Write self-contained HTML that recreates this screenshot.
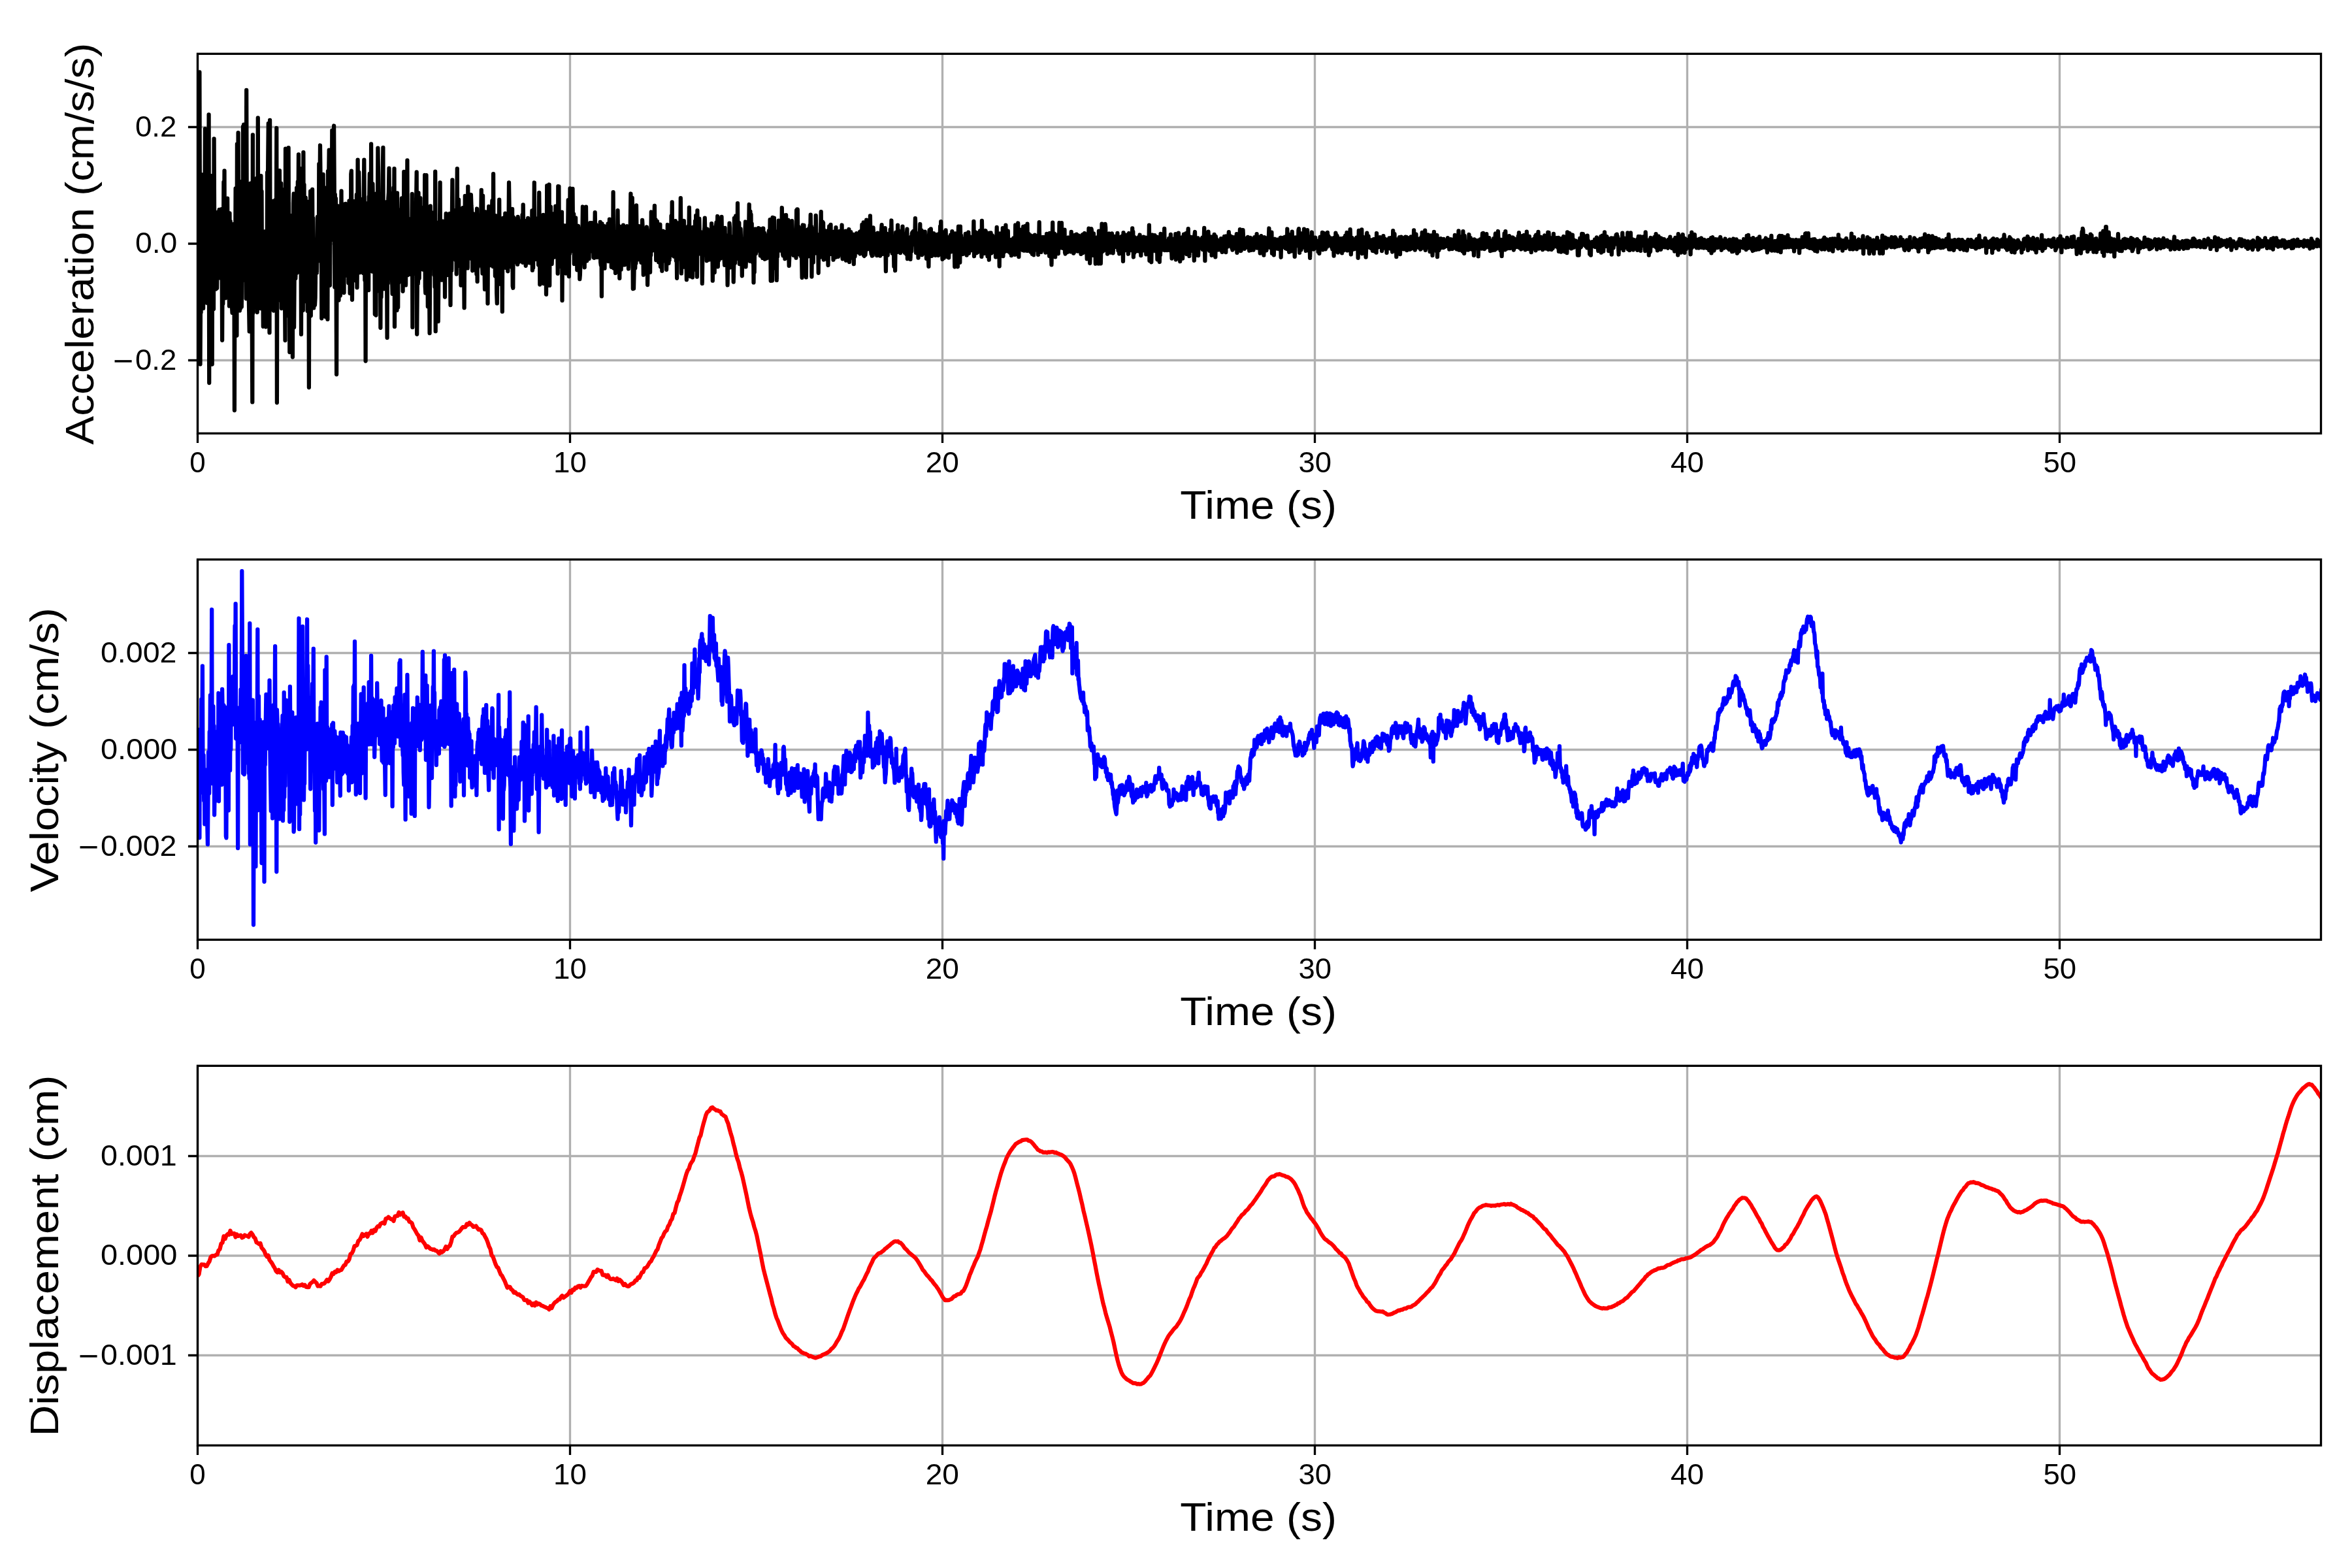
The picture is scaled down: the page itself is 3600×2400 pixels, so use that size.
<!DOCTYPE html>
<html><head><meta charset="utf-8"><style>html,body{margin:0;padding:0;background:#fff;overflow:hidden}svg{display:block;will-change:transform}</style></head><body>
<svg width="3600" height="2400" viewBox="0 0 3600 2400">
<rect width="3600" height="2400" fill="#fff"/>
<defs>
<clipPath id="c0"><rect x="302.5" y="82.36" width="3250.0" height="581.0"/></clipPath>
<clipPath id="c1"><rect x="302.5" y="856.36" width="3250.0" height="581.9999999999999"/></clipPath>
<clipPath id="c2"><rect x="302.5" y="1631.36" width="3250.0" height="581.0000000000002"/></clipPath>
</defs>
<path d="M302.50,82.36V663.36M872.50,82.36V663.36M1442.50,82.36V663.36M2012.50,82.36V663.36M2582.50,82.36V663.36M3152.50,82.36V663.36M302.50,194.54H3552.50M302.50,373.04H3552.50M302.50,551.54H3552.50" stroke="#b0b0b0" stroke-width="3.333" fill="none" stroke-linecap="butt"/>
<path d="M302.5,347.6L303.1,408.5L303.6,283.8L304.2,190.8L304.8,329.3L305.4,110.3L305.9,306.2L306.5,557.4L307.1,448.2L307.6,478.2L308.2,345.3L308.8,267.1L309.3,447.5L309.9,383.7L310.5,323.8L311.1,471.9L311.6,295.3L312.2,409.4L312.8,291.3L313.3,348.5L313.9,197.1L314.5,390.8L315.0,335.2L315.6,321.3L316.2,343.4L316.8,463.7L317.3,351.6L317.9,387.4L318.5,362.9L319.0,439.5L319.6,175.3L320.2,586.1L320.7,269.7L321.3,453.4L321.9,277.7L322.4,476.0L323.0,312.6L323.6,269.2L324.2,318.3L324.7,557.5L325.3,323.1L325.9,446.6L326.4,336.5L327.0,472.9L327.6,212.3L328.1,335.5L328.7,344.5L329.3,412.3L329.9,373.6L330.4,442.4L331.0,404.2L331.6,380.5L332.1,441.0L332.7,392.5L333.3,406.6L333.9,324.5L334.4,356.5L335.0,349.1L335.6,320.9L336.1,425.4L336.7,401.1L337.3,405.7L337.8,403.7L338.4,401.7L339.0,320.1L339.6,396.3L340.1,520.8L340.7,400.0L341.3,465.0L341.8,392.8L342.4,278.6L343.0,392.6L343.5,261.3L344.1,439.9L344.7,350.2L345.2,456.2L345.8,345.8L346.4,363.7L347.0,305.5L347.5,431.7L348.1,303.7L348.7,392.1L349.2,400.1L349.8,447.8L350.4,381.9L350.9,468.4L351.5,326.3L352.1,440.4L352.7,338.9L353.2,392.5L353.8,372.0L354.4,350.2L354.9,467.7L355.5,478.8L356.1,421.1L356.6,414.2L357.2,343.1L357.8,478.0L358.4,379.4L358.9,628.1L359.5,354.7L360.1,399.1L360.6,288.5L361.2,395.1L361.8,313.2L362.4,513.6L362.9,220.3L363.5,409.1L364.1,403.6L364.6,203.1L365.2,382.3L365.8,425.1L366.3,277.6L366.9,475.4L367.5,370.1L368.1,472.1L368.6,359.9L369.2,453.7L369.8,469.7L370.3,391.1L370.9,337.3L371.5,413.8L372.0,193.6L372.6,428.6L373.2,190.5L373.8,418.5L374.3,278.6L374.9,363.6L375.5,425.1L376.0,321.3L376.6,457.1L377.2,137.8L377.7,297.1L378.3,343.7L378.9,301.1L379.4,335.8L380.0,290.7L380.6,445.5L381.2,477.8L381.7,507.4L382.3,368.1L382.9,481.3L383.4,280.7L384.0,308.8L384.6,336.2L385.1,379.0L385.7,481.1L386.3,615.4L386.9,206.3L387.4,479.1L388.0,290.2L388.6,280.4L389.1,423.9L389.7,391.0L390.3,316.1L390.9,418.4L391.4,355.7L392.0,390.7L392.6,345.6L393.1,272.7L393.7,478.0L394.3,447.9L394.8,180.4L395.4,450.9L396.0,318.1L396.6,391.9L397.1,279.8L397.7,466.5L398.3,297.7L398.8,472.1L399.4,269.1L400.0,426.4L400.5,292.8L401.1,438.4L401.7,360.9L402.2,406.5L402.8,499.8L403.4,466.9L404.0,370.7L404.5,429.9L405.1,354.3L405.7,357.5L406.2,390.6L406.8,500.3L407.4,425.2L407.9,409.0L408.5,478.4L409.1,263.8L409.7,341.1L410.2,250.1L410.8,189.0L411.4,360.4L411.9,452.9L412.5,509.2L413.1,183.8L413.6,419.0L414.2,358.0L414.8,417.5L415.4,453.4L415.9,329.6L416.5,307.9L417.1,377.6L417.6,350.0L418.2,351.7L418.8,475.6L419.4,368.4L419.9,350.6L420.5,376.3L421.1,306.5L421.6,440.9L422.2,337.2L422.8,376.8L423.3,196.0L423.9,616.3L424.5,328.9L425.1,411.5L425.6,350.2L426.2,459.8L426.8,444.3L427.3,421.4L427.9,261.1L428.5,361.9L429.0,311.2L429.6,321.4L430.2,280.5L430.8,472.0L431.3,290.5L431.9,461.4L432.5,423.5L433.0,335.0L433.6,324.4L434.2,319.2L434.7,290.2L435.3,388.3L435.9,433.8L436.5,521.0L437.0,227.6L437.6,402.0L438.2,288.3L438.7,438.6L439.3,470.0L439.9,437.4L440.4,266.0L441.0,483.1L441.6,226.2L442.1,392.0L442.7,351.7L443.3,539.1L443.9,406.3L444.4,441.2L445.0,329.8L445.6,418.6L446.1,372.0L446.7,454.4L447.3,342.3L447.9,546.6L448.4,380.1L449.0,311.5L449.6,296.5L450.1,500.9L450.7,419.9L451.3,297.4L451.8,382.5L452.4,425.9L453.0,299.9L453.5,408.8L454.1,287.7L454.7,417.5L455.3,361.8L455.8,278.2L456.4,328.8L457.0,236.4L457.5,365.5L458.1,294.9L458.7,387.7L459.2,257.8L459.8,346.4L460.4,332.2L461.0,511.7L461.5,332.0L462.1,268.1L462.7,430.2L463.2,443.9L463.8,475.0L464.4,233.2L465.0,461.8L465.5,282.5L466.1,393.2L466.7,366.7L467.2,389.1L467.8,302.6L468.4,397.7L468.9,362.4L469.5,462.0L470.1,308.7L470.6,475.9L471.2,404.0L471.8,355.0L472.4,360.2L472.9,593.0L473.5,357.7L474.1,448.0L474.6,353.3L475.2,292.7L475.8,483.3L476.4,337.6L476.9,335.7L477.5,463.5L478.1,289.9L478.6,408.6L479.2,333.8L479.8,439.0L480.3,471.4L480.9,455.3L481.5,436.2L482.0,466.9L482.6,455.6L483.2,403.3L483.8,406.6L484.3,405.1L484.9,417.7L485.5,376.2L486.0,331.8L486.6,344.3L487.2,351.0L487.8,395.5L488.3,250.9L488.9,279.3L489.5,284.5L490.0,222.5L490.6,275.4L491.2,400.5L491.7,298.8L492.3,487.3L492.9,348.4L493.5,346.9L494.0,384.6L494.6,266.9L495.2,334.6L495.7,384.3L496.3,325.4L496.9,416.4L497.4,328.2L498.0,484.8L498.6,367.2L499.1,329.6L499.7,368.5L500.3,287.1L500.9,431.1L501.4,488.7L502.0,261.8L502.6,388.4L503.1,278.6L503.7,229.7L504.3,340.6L504.9,436.8L505.4,362.4L506.0,305.5L506.6,336.0L507.1,303.5L507.7,358.0L508.3,199.7L508.8,260.1L509.4,259.5L510.0,331.8L510.5,367.4L511.1,192.5L511.7,285.1L512.3,439.4L512.8,297.5L513.4,388.1L514.0,303.9L514.5,405.9L515.1,573.0L515.7,317.4L516.2,455.7L516.8,315.2L517.4,354.3L518.0,373.0L518.5,459.5L519.1,397.9L519.7,378.8L520.2,367.5L520.8,452.5L521.4,360.3L522.0,345.1L522.5,292.3L523.1,417.6L523.7,315.3L524.2,397.0L524.8,317.7L525.4,386.6L525.9,401.7L526.5,448.1L527.1,312.7L527.6,411.2L528.2,335.3L528.8,311.9L529.4,405.8L529.9,337.5L530.5,326.5L531.1,418.9L531.6,335.4L532.2,422.4L532.8,360.8L533.4,433.2L533.9,359.8L534.5,307.4L535.1,326.6L535.6,448.9L536.2,339.3L536.8,426.2L537.3,266.4L537.9,261.6L538.5,386.1L539.0,458.8L539.6,363.3L540.2,413.0L540.8,352.8L541.3,386.5L541.9,308.1L542.5,392.5L543.0,379.4L543.6,404.2L544.2,389.8L544.8,429.6L545.3,422.0L545.9,298.0L546.5,440.2L547.0,397.2L547.6,244.7L548.2,353.2L548.7,306.1L549.3,263.7L549.9,300.4L550.5,417.2L551.0,337.3L551.6,341.6L552.2,343.7L552.7,385.3L553.3,324.1L553.9,345.5L554.4,304.9L555.0,363.5L555.6,409.1L556.1,418.1L556.7,317.0L557.3,244.7L557.9,340.3L558.4,429.1L559.0,318.7L559.6,552.6L560.1,340.4L560.7,400.0L561.3,313.9L561.8,383.9L562.4,311.2L563.0,328.5L563.6,345.0L564.1,444.2L564.7,300.8L565.3,300.1L565.8,266.0L566.4,409.9L567.0,304.0L567.5,372.4L568.1,220.3L568.7,407.3L569.3,352.3L569.8,415.6L570.4,281.3L571.0,310.4L571.5,355.3L572.1,317.1L572.7,409.5L573.2,301.9L573.8,480.9L574.4,374.6L575.0,343.7L575.5,482.6L576.1,296.4L576.7,445.9L577.2,415.3L577.8,368.0L578.4,226.7L579.0,265.8L579.5,339.5L580.1,419.1L580.7,307.0L581.2,397.7L581.8,325.1L582.4,501.8L582.9,368.6L583.5,455.0L584.1,415.3L584.7,393.3L585.2,320.0L585.8,260.7L586.4,225.8L586.9,422.5L587.5,322.7L588.1,442.2L588.6,363.6L589.2,379.8L589.8,314.4L590.3,353.6L590.9,309.3L591.5,413.2L592.1,415.2L592.6,516.9L593.2,333.4L593.8,433.8L594.3,303.8L594.9,294.5L595.5,257.7L596.0,310.4L596.6,344.3L597.2,404.3L597.8,340.7L598.3,410.8L598.9,295.8L599.5,374.1L600.0,425.6L600.6,449.8L601.2,346.1L601.8,417.7L602.3,287.4L602.9,353.2L603.5,258.2L604.0,499.9L604.6,363.7L605.2,413.0L605.7,323.3L606.3,475.1L606.9,390.2L607.5,474.9L608.0,295.4L608.6,402.9L609.2,470.6L609.7,321.1L610.3,432.8L610.9,353.7L611.4,397.1L612.0,405.6L612.6,346.7L613.2,348.6L613.7,323.9L614.3,330.0L614.9,303.4L615.4,414.7L616.0,328.3L616.6,445.8L617.1,390.1L617.7,429.3L618.3,262.9L618.8,326.3L619.4,320.6L620.0,386.7L620.6,409.9L621.1,436.4L621.7,279.3L622.3,412.6L622.8,346.5L623.4,245.4L624.0,421.2L624.5,407.8L625.1,390.7L625.7,420.2L626.3,408.6L626.8,392.6L627.4,335.2L628.0,419.9L628.5,369.0L629.1,362.6L629.7,395.2L630.2,357.4L630.8,296.8L631.4,500.9L632.0,315.8L632.5,418.9L633.1,346.9L633.7,382.5L634.2,369.2L634.8,418.8L635.4,338.1L636.0,347.5L636.5,353.7L637.1,307.8L637.7,263.4L638.2,511.5L638.8,434.4L639.4,387.2L639.9,433.9L640.5,295.1L641.1,366.4L641.7,425.9L642.2,307.4L642.8,386.1L643.4,303.0L643.9,400.6L644.5,317.0L645.1,319.4L645.6,339.5L646.2,382.8L646.8,391.4L647.3,412.6L647.9,390.7L648.5,403.5L649.1,380.3L649.6,406.3L650.2,268.0L650.8,438.5L651.3,448.7L651.9,284.8L652.5,268.1L653.0,405.5L653.6,417.4L654.2,373.1L654.8,469.3L655.3,337.0L655.9,406.6L656.5,332.0L657.0,433.1L657.6,510.0L658.2,408.6L658.8,315.3L659.3,392.6L659.9,387.0L660.5,357.5L661.0,409.4L661.6,379.9L662.2,349.5L662.7,353.2L663.3,366.2L663.9,325.4L664.5,420.9L665.0,358.6L665.6,439.3L666.2,262.7L666.7,507.2L667.3,339.8L667.9,350.8L668.4,422.0L669.0,451.4L669.6,343.6L670.2,377.7L670.7,491.9L671.3,424.0L671.9,364.8L672.4,415.4L673.0,347.7L673.6,279.3L674.1,423.2L674.7,423.5L675.3,348.7L675.8,428.6L676.4,357.2L677.0,385.5L677.6,338.7L678.1,405.9L678.7,344.1L679.3,390.1L679.8,397.0L680.4,342.8L681.0,454.6L681.5,376.6L682.1,370.9L682.7,326.9L683.3,339.0L683.8,390.2L684.4,341.6L685.0,421.0L685.5,367.6L686.1,362.3L686.7,355.1L687.2,398.0L687.8,392.5L688.4,327.0L689.0,402.6L689.5,467.0L690.1,358.8L690.7,400.4L691.2,413.9L691.8,339.2L692.4,275.3L693.0,390.3L693.5,339.8L694.1,321.7L694.7,349.1L695.2,381.6L695.8,360.8L696.4,394.5L696.9,366.4L697.5,398.2L698.1,321.7L698.7,419.5L699.2,341.6L699.8,258.1L700.4,406.1L700.9,377.3L701.5,338.7L702.1,305.6L702.6,406.8L703.2,386.6L703.8,334.8L704.3,400.9L704.9,322.7L705.5,436.7L706.1,345.8L706.6,328.8L707.2,364.4L707.8,333.1L708.3,318.1L708.9,335.0L709.5,339.4L710.0,384.2L710.6,471.2L711.2,377.3L711.8,299.9L712.3,375.9L712.9,349.2L713.5,410.6L714.0,311.4L714.6,384.9L715.2,341.1L715.8,410.4L716.3,285.7L716.9,389.6L717.5,362.6L718.0,395.9L718.6,376.0L719.2,394.0L719.7,368.8L720.3,386.1L720.9,298.0L721.5,314.8L722.0,320.9L722.6,354.1L723.2,414.3L723.7,378.7L724.3,327.1L724.9,337.4L725.4,328.7L726.0,413.4L726.6,344.1L727.2,375.6L727.7,328.7L728.3,401.6L728.9,364.8L729.4,419.6L730.0,319.5L730.6,430.9L731.1,343.6L731.7,408.8L732.3,366.6L732.8,354.0L733.4,351.4L734.0,395.1L734.6,350.0L735.1,351.3L735.7,372.2L736.3,328.2L736.8,290.8L737.4,406.8L738.0,404.7L738.5,418.6L739.1,299.5L739.7,389.8L740.3,337.4L740.8,381.7L741.4,401.1L742.0,442.9L742.5,346.2L743.1,324.4L743.7,366.3L744.2,334.9L744.8,328.9L745.4,333.3L746.0,355.3L746.5,464.5L747.1,345.3L747.7,385.1L748.2,316.0L748.8,358.4L749.4,406.3L750.0,391.0L750.5,351.1L751.1,331.2L751.7,354.8L752.2,370.6L752.8,329.0L753.4,307.1L753.9,359.7L754.5,407.9L755.1,266.2L755.7,407.4L756.2,350.8L756.8,403.3L757.4,357.9L757.9,422.4L758.5,330.1L759.1,413.2L759.6,344.3L760.2,448.7L760.8,464.4L761.4,376.0L761.9,385.3L762.5,340.2L763.1,384.6L763.6,361.5L764.2,305.7L764.8,407.3L765.3,416.7L765.9,434.9L766.5,347.8L767.0,344.4L767.6,358.3L768.2,379.6L768.8,476.9L769.3,366.3L769.9,333.8L770.5,379.5L771.0,343.6L771.6,375.4L772.2,342.9L772.8,381.7L773.3,326.7L773.9,409.8L774.5,371.9L775.0,388.2L775.6,367.3L776.2,384.8L776.7,388.3L777.3,415.3L777.9,357.2L778.5,343.1L779.0,279.4L779.6,318.1L780.2,356.0L780.7,399.6L781.3,347.6L781.9,390.3L782.4,380.9L783.0,408.9L783.6,349.0L784.1,319.9L784.7,437.8L785.3,440.8L785.9,332.3L786.4,339.2L787.0,339.0L787.6,341.1L788.1,364.3L788.7,400.8L789.3,362.7L789.9,395.5L790.4,335.2L791.0,350.4L791.6,375.8L792.1,404.6L792.7,331.8L793.3,340.0L793.8,401.1L794.4,376.2L795.0,361.0L795.5,375.1L796.1,390.2L796.7,399.8L797.3,338.6L797.8,389.0L798.4,357.5L799.0,381.2L799.5,328.8L800.1,401.8L800.7,313.3L801.2,349.0L801.8,343.9L802.4,389.7L803.0,337.8L803.5,393.0L804.1,350.7L804.7,406.8L805.2,360.7L805.8,403.2L806.4,384.2L807.0,341.7L807.5,347.8L808.1,333.8L808.7,353.6L809.2,343.2L809.8,375.7L810.4,402.3L810.9,350.9L811.5,363.6L812.1,340.4L812.7,365.0L813.2,352.5L813.8,399.2L814.4,322.4L814.9,413.7L815.5,331.8L816.1,409.9L816.6,364.0L817.2,396.2L817.8,279.5L818.4,391.0L818.9,372.6L819.5,357.7L820.1,396.9L820.6,394.7L821.2,334.5L821.8,376.8L822.3,377.6L822.9,388.2L823.5,355.7L824.1,405.5L824.6,366.1L825.2,294.8L825.8,345.2L826.3,435.5L826.9,374.7L827.5,409.8L828.0,371.2L828.6,391.9L829.2,358.8L829.8,410.6L830.3,356.4L830.9,413.3L831.5,328.9L832.0,434.0L832.6,366.8L833.2,367.7L833.7,396.5L834.3,375.4L834.9,386.5L835.4,346.5L836.0,450.6L836.6,398.6L837.2,284.1L837.7,373.8L838.3,348.0L838.9,387.7L839.4,351.7L840.0,378.0L840.6,282.5L841.2,436.9L841.7,345.7L842.3,380.9L842.9,316.6L843.4,404.3L844.0,358.8L844.6,404.0L845.1,392.2L845.7,395.0L846.3,327.3L846.9,390.9L847.4,388.4L848.0,393.7L848.6,339.2L849.1,331.2L849.7,351.1L850.3,315.7L850.8,372.4L851.4,381.7L852.0,357.4L852.6,336.3L853.1,345.2L853.7,418.7L854.3,285.1L854.8,405.5L855.4,285.3L856.0,406.9L856.5,331.1L857.1,397.8L857.7,390.9L858.2,399.4L858.8,408.3L859.4,390.2L860.0,324.7L860.5,459.9L861.1,351.6L861.7,361.8L862.2,344.8L862.8,383.8L863.4,350.9L863.9,354.8L864.5,409.6L865.1,404.9L865.7,369.8L866.2,418.5L866.8,345.1L867.4,377.1L867.9,345.9L868.5,406.5L869.1,362.2L869.7,306.1L870.2,316.4L870.8,423.1L871.4,355.3L871.9,388.6L872.5,288.4L873.1,337.7L873.6,372.4L874.2,379.4L874.8,383.8L875.4,364.1L875.9,336.3L876.5,288.8L877.1,364.5L877.6,385.0L878.2,327.5L878.8,404.0L879.3,344.9L879.9,373.6L880.5,374.2L881.1,333.3L881.6,382.7L882.2,360.4L882.8,355.8L883.3,413.3L883.9,377.3L884.5,385.8L885.0,345.9L885.6,352.1L886.2,386.0L886.8,391.2L887.3,427.2L887.9,420.2L888.5,397.6L889.0,372.4L889.6,390.3L890.2,366.9L890.7,366.4L891.3,362.4L891.9,316.5L892.4,377.0L893.0,363.0L893.6,400.0L894.2,393.6L894.7,409.3L895.3,343.6L895.9,398.2L896.4,325.6L897.0,316.7L897.6,383.5L898.2,399.4L898.7,394.7L899.3,395.1L899.9,342.6L900.4,381.4L901.0,363.6L901.6,395.9L902.1,343.4L902.7,373.4L903.3,341.2L903.9,382.4L904.4,384.3L905.0,350.7L905.6,341.2L906.1,375.3L906.7,356.8L907.3,344.9L907.8,355.8L908.4,393.9L909.0,348.3L909.6,394.8L910.1,373.5L910.7,325.2L911.3,364.6L911.8,387.8L912.4,343.9L913.0,385.1L913.5,388.1L914.1,393.9L914.7,361.0L915.2,382.6L915.8,355.1L916.4,379.2L917.0,386.6L917.5,365.7L918.1,368.8L918.7,339.8L919.2,401.3L919.8,405.9L920.4,358.8L920.9,453.4L921.5,342.3L922.1,381.8L922.7,358.4L923.2,394.2L923.8,365.8L924.4,389.6L924.9,346.1L925.5,410.7L926.1,361.7L926.7,377.9L927.2,357.8L927.8,388.9L928.4,363.6L928.9,386.2L929.5,385.9L930.1,376.8L930.6,342.4L931.2,400.0L931.8,393.5L932.4,381.7L932.9,335.6L933.5,385.4L934.1,380.2L934.6,363.6L935.2,353.6L935.8,408.8L936.3,394.5L936.9,401.9L937.5,348.2L938.1,402.8L938.6,294.2L939.2,410.6L939.8,356.7L940.3,380.3L940.9,374.9L941.5,360.2L942.0,417.9L942.6,376.9L943.2,363.1L943.8,384.4L944.3,405.6L944.9,377.7L945.5,322.2L946.0,372.0L946.6,345.0L947.2,416.4L947.7,360.1L948.3,426.0L948.9,346.8L949.4,357.2L950.0,363.9L950.6,412.7L951.2,379.7L951.7,405.0L952.3,351.6L952.9,373.9L953.4,404.7L954.0,344.6L954.6,366.4L955.2,405.4L955.7,359.2L956.3,405.2L956.9,356.1L957.4,359.7L958.0,385.2L958.6,397.4L959.1,347.8L959.7,346.2L960.3,347.8L960.9,377.9L961.4,374.7L962.0,411.4L962.6,383.8L963.1,360.4L963.7,354.5L964.3,382.0L964.8,341.2L965.4,296.5L966.0,366.0L966.6,386.0L967.1,358.5L967.7,302.8L968.3,366.9L968.8,442.1L969.4,342.6L970.0,441.6L970.5,417.2L971.1,380.9L971.7,331.5L972.2,410.4L972.8,388.0L973.4,403.0L974.0,314.3L974.5,355.2L975.1,370.6L975.7,356.8L976.2,397.4L976.8,377.6L977.4,365.9L977.9,346.1L978.5,397.2L979.1,354.7L979.7,391.9L980.2,379.3L980.8,389.6L981.4,401.8L981.9,386.9L982.5,375.3L983.1,336.9L983.7,348.1L984.2,370.7L984.8,420.6L985.4,377.9L985.9,401.2L986.5,393.8L987.1,402.6L987.6,358.1L988.2,404.5L988.8,370.6L989.4,380.4L989.9,347.5L990.5,354.3L991.1,436.1L991.6,408.1L992.2,373.0L992.8,387.8L993.3,368.7L993.9,378.0L994.5,366.3L995.1,416.6L995.6,359.8L996.2,390.8L996.8,324.5L997.3,372.1L997.9,371.1L998.5,383.8L999.0,359.9L999.6,376.1L1000.2,349.0L1000.8,381.0L1001.3,342.2L1001.9,314.9L1002.5,375.2L1003.0,337.3L1003.6,336.0L1004.2,398.1L1004.7,395.5L1005.3,364.1L1005.9,338.9L1006.4,374.6L1007.0,371.8L1007.6,383.5L1008.2,401.5L1008.7,395.8L1009.3,349.4L1009.9,386.1L1010.4,343.5L1011.0,408.1L1011.6,354.4L1012.2,400.6L1012.7,380.3L1013.3,414.7L1013.9,356.2L1014.4,389.8L1015.0,353.6L1015.6,369.9L1016.1,381.7L1016.7,365.1L1017.3,358.1L1017.9,355.0L1018.4,386.2L1019.0,400.2L1019.6,360.5L1020.1,412.8L1020.7,369.3L1021.3,388.3L1021.8,344.0L1022.4,400.2L1023.0,372.7L1023.6,403.0L1024.1,356.1L1024.7,397.9L1025.3,366.0L1025.8,375.0L1026.4,346.1L1027.0,387.9L1027.5,330.4L1028.1,381.0L1028.7,309.4L1029.2,379.7L1029.8,338.9L1030.4,391.3L1031.0,345.2L1031.5,392.5L1032.1,356.9L1032.7,368.2L1033.2,372.9L1033.8,338.2L1034.4,347.3L1034.9,399.2L1035.5,367.8L1036.1,425.8L1036.7,358.7L1037.2,386.6L1037.8,357.7L1038.4,394.5L1038.9,341.1L1039.5,387.7L1040.1,396.2L1040.7,373.2L1041.2,366.7L1041.8,303.1L1042.4,361.5L1042.9,418.4L1043.5,367.9L1044.1,397.8L1044.6,368.3L1045.2,377.7L1045.8,362.3L1046.3,408.6L1046.9,338.0L1047.5,390.5L1048.1,381.6L1048.6,377.5L1049.2,356.2L1049.8,395.7L1050.3,386.0L1050.9,428.1L1051.5,364.2L1052.1,359.8L1052.6,347.4L1053.2,346.4L1053.8,369.9L1054.3,375.1L1054.9,317.6L1055.5,373.1L1056.0,388.4L1056.6,423.2L1057.2,350.7L1057.8,363.9L1058.3,372.5L1058.9,391.9L1059.5,351.6L1060.0,424.5L1060.6,348.0L1061.2,394.4L1061.7,357.0L1062.3,384.1L1062.9,412.6L1063.4,395.9L1064.0,338.4L1064.6,399.6L1065.2,329.9L1065.7,411.4L1066.3,376.5L1066.9,423.7L1067.4,322.1L1068.0,383.5L1068.6,346.4L1069.2,382.4L1069.7,372.2L1070.3,334.6L1070.9,360.1L1071.4,388.3L1072.0,354.7L1072.6,370.2L1073.1,387.9L1073.7,381.3L1074.3,380.0L1074.8,433.9L1075.4,386.8L1076.0,374.3L1076.6,375.5L1077.1,390.0L1077.7,355.2L1078.3,348.6L1078.8,333.7L1079.4,359.0L1080.0,349.7L1080.6,378.1L1081.1,357.8L1081.7,399.2L1082.3,374.9L1082.8,350.8L1083.4,368.5L1084.0,374.3L1084.5,357.9L1085.1,397.6L1085.7,363.7L1086.2,379.4L1086.8,364.3L1087.4,366.7L1088.0,358.5L1088.5,376.0L1089.1,342.1L1089.7,394.8L1090.2,366.9L1090.8,429.6L1091.4,360.5L1091.9,376.1L1092.5,383.2L1093.1,367.0L1093.7,417.0L1094.2,348.1L1094.8,353.9L1095.4,386.8L1095.9,346.1L1096.5,340.5L1097.1,341.0L1097.7,378.9L1098.2,331.0L1098.8,408.3L1099.4,370.4L1099.9,399.0L1100.5,359.3L1101.1,395.2L1101.6,340.1L1102.2,375.5L1102.8,395.7L1103.3,382.3L1103.9,388.0L1104.5,331.9L1105.1,363.6L1105.6,380.0L1106.2,361.9L1106.8,393.0L1107.3,355.3L1107.9,386.4L1108.5,395.2L1109.1,405.8L1109.6,348.9L1110.2,383.8L1110.8,372.5L1111.3,387.5L1111.9,360.3L1112.5,380.4L1113.0,387.5L1113.6,436.4L1114.2,398.2L1114.8,374.0L1115.3,388.7L1115.9,398.9L1116.5,341.6L1117.0,348.6L1117.6,409.5L1118.2,392.8L1118.7,362.1L1119.3,390.0L1119.9,390.9L1120.4,376.9L1121.0,377.9L1121.6,386.8L1122.2,368.8L1122.7,431.6L1123.3,403.2L1123.9,333.9L1124.4,350.1L1125.0,402.7L1125.6,350.3L1126.2,330.4L1126.7,370.5L1127.3,338.0L1127.9,375.3L1128.4,390.1L1129.0,311.2L1129.6,392.2L1130.1,374.7L1130.7,396.6L1131.3,341.2L1131.8,404.1L1132.4,354.3L1133.0,357.7L1133.6,350.3L1134.1,367.9L1134.7,367.1L1135.3,376.6L1135.8,422.3L1136.4,386.5L1137.0,370.1L1137.6,395.8L1138.1,394.0L1138.7,392.9L1139.3,397.8L1139.8,387.5L1140.4,355.2L1141.0,339.5L1141.5,408.4L1142.1,394.9L1142.7,356.5L1143.2,378.0L1143.8,388.0L1144.4,382.3L1145.0,367.9L1145.5,360.8L1146.1,357.0L1146.7,313.0L1147.2,363.2L1147.8,399.7L1148.4,323.5L1148.9,358.5L1149.5,328.3L1150.1,381.5L1150.7,342.4L1151.2,383.8L1151.8,358.9L1152.4,402.3L1152.9,350.7L1153.5,432.4L1154.1,373.8L1154.7,416.7L1155.2,369.0L1155.8,387.7L1156.4,350.5L1156.9,388.3L1157.5,351.4L1158.1,383.7L1158.6,370.3L1159.2,383.7L1159.8,352.3L1160.3,379.4L1160.9,349.1L1161.5,369.4L1162.1,355.7L1162.6,353.2L1163.2,367.1L1163.8,391.5L1164.3,350.3L1164.9,364.9L1165.5,366.6L1166.1,380.7L1166.6,360.5L1167.2,394.9L1167.8,364.8L1168.3,349.5L1168.9,392.1L1169.5,359.0L1170.0,356.3L1170.6,396.7L1171.2,369.9L1171.8,385.0L1172.3,365.1L1172.9,395.7L1173.5,360.5L1174.0,381.3L1174.6,375.6L1175.2,394.5L1175.7,370.0L1176.3,360.3L1176.9,353.1L1177.4,389.3L1178.0,393.2L1178.6,336.1L1179.2,355.1L1179.7,429.8L1180.3,361.7L1180.9,392.0L1181.4,365.3L1182.0,429.6L1182.6,332.8L1183.2,375.3L1183.7,356.2L1184.3,379.5L1184.9,333.7L1185.4,406.3L1186.0,361.0L1186.6,353.9L1187.1,356.1L1187.7,411.3L1188.3,391.1L1188.8,428.9L1189.4,367.5L1190.0,392.8L1190.6,359.5L1191.1,378.5L1191.7,337.6L1192.3,351.4L1192.8,354.2L1193.4,373.1L1194.0,357.4L1194.6,383.5L1195.1,379.3L1195.7,353.0L1196.3,369.1L1196.8,318.0L1197.4,359.0L1198.0,387.8L1198.5,391.3L1199.1,379.8L1199.7,329.4L1200.2,356.0L1200.8,350.6L1201.4,396.1L1202.0,390.6L1202.5,379.8L1203.1,329.1L1203.7,379.1L1204.2,343.3L1204.8,376.7L1205.4,356.9L1205.9,376.6L1206.5,336.8L1207.1,382.5L1207.7,406.8L1208.2,395.0L1208.8,344.4L1209.4,374.1L1209.9,347.9L1210.5,386.6L1211.1,354.9L1211.7,384.8L1212.2,338.2L1212.8,355.5L1213.4,359.3L1213.9,369.9L1214.5,390.8L1215.1,380.4L1215.6,368.4L1216.2,385.8L1216.8,366.2L1217.3,391.3L1217.9,355.5L1218.5,394.7L1219.1,321.8L1219.6,389.2L1220.2,320.3L1220.8,320.4L1221.3,372.2L1221.9,381.2L1222.5,347.0L1223.0,357.2L1223.6,369.3L1224.2,389.8L1224.8,375.0L1225.3,385.1L1225.9,392.3L1226.5,359.8L1227.0,387.5L1227.6,425.0L1228.2,366.2L1228.8,344.5L1229.3,385.8L1229.9,381.1L1230.5,344.8L1231.0,394.6L1231.6,373.0L1232.2,379.1L1232.7,376.4L1233.3,382.2L1233.9,424.4L1234.5,359.3L1235.0,352.6L1235.6,375.0L1236.2,351.6L1236.7,354.9L1237.3,392.3L1237.9,382.8L1238.4,349.3L1239.0,388.7L1239.6,345.0L1240.2,351.7L1240.7,328.7L1241.3,383.4L1241.9,346.5L1242.4,423.5L1243.0,369.8L1243.6,382.5L1244.1,366.0L1244.7,401.8L1245.3,350.6L1245.8,388.6L1246.4,359.9L1247.0,382.9L1247.6,361.1L1248.1,387.4L1248.7,329.8L1249.3,357.5L1249.8,387.3L1250.4,386.8L1251.0,367.4L1251.5,366.6L1252.1,359.0L1252.7,417.8L1253.3,366.1L1253.8,381.1L1254.4,375.7L1255.0,386.3L1255.5,393.7L1256.1,353.7L1256.7,324.1L1257.2,384.2L1257.8,365.9L1258.4,352.6L1259.0,339.5L1259.5,389.7L1260.1,341.0L1260.7,397.5L1261.2,351.8L1261.8,365.0L1262.4,363.1L1263.0,386.8L1263.5,365.0L1264.1,390.1L1264.7,396.5L1265.2,378.1L1265.8,363.0L1266.4,391.1L1266.9,353.2L1267.5,406.0L1268.1,369.7L1268.7,371.5L1269.2,346.5L1269.8,355.0L1270.4,358.5L1270.9,389.0L1271.5,343.9L1272.1,379.6L1272.6,381.1L1273.2,380.0L1273.8,362.5L1274.3,374.7L1274.9,362.5L1275.5,397.7L1276.1,361.5L1276.6,391.5L1277.2,354.3L1277.8,381.2L1278.3,374.9L1278.9,394.0L1279.5,348.1L1280.1,391.2L1280.6,370.7L1281.2,364.1L1281.8,367.2L1282.3,367.8L1282.9,393.0L1283.5,362.6L1284.0,357.5L1284.6,362.5L1285.2,354.0L1285.8,386.3L1286.3,362.2L1286.9,389.6L1287.5,354.3L1288.0,376.9L1288.6,344.5L1289.2,390.7L1289.7,396.3L1290.3,383.6L1290.9,363.9L1291.5,387.3L1292.0,361.4L1292.6,393.0L1293.2,355.5L1293.7,390.5L1294.3,353.6L1294.9,398.6L1295.4,359.2L1296.0,371.4L1296.6,353.7L1297.2,382.9L1297.7,366.1L1298.3,386.6L1298.9,381.3L1299.4,351.0L1300.0,401.0L1300.6,387.4L1301.1,364.4L1301.7,393.8L1302.3,355.2L1302.8,389.9L1303.4,365.5L1304.0,385.8L1304.6,394.5L1305.1,360.5L1305.7,358.8L1306.3,370.6L1306.8,404.2L1307.4,361.2L1308.0,389.1L1308.6,392.4L1309.1,369.6L1309.7,377.6L1310.3,360.4L1310.8,357.1L1311.4,362.4L1312.0,381.4L1312.5,369.9L1313.1,375.0L1313.7,367.2L1314.2,386.6L1314.8,369.8L1315.4,364.9L1316.0,354.8L1316.5,388.5L1317.1,354.1L1317.7,384.2L1318.2,358.4L1318.8,382.6L1319.4,344.0L1320.0,387.5L1320.5,362.5L1321.1,379.2L1321.7,340.4L1322.2,391.1L1322.8,391.9L1323.4,380.2L1323.9,361.7L1324.5,390.1L1325.1,380.5L1325.7,369.4L1326.2,336.6L1326.8,381.8L1327.4,366.6L1327.9,374.0L1328.5,368.4L1329.1,355.1L1329.6,365.3L1330.2,380.8L1330.8,368.9L1331.4,380.2L1331.9,330.3L1332.5,369.6L1333.1,383.9L1333.6,388.6L1334.2,364.8L1334.8,391.6L1335.3,379.4L1335.9,390.7L1336.5,348.3L1337.1,357.7L1337.6,356.9L1338.2,383.3L1338.8,360.7L1339.3,380.5L1339.9,366.7L1340.5,381.8L1341.0,380.2L1341.6,362.8L1342.2,391.1L1342.8,387.6L1343.3,356.7L1343.9,377.8L1344.5,367.2L1345.0,390.6L1345.6,366.0L1346.2,383.2L1346.7,372.3L1347.3,391.6L1347.9,387.2L1348.5,358.8L1349.0,352.0L1349.6,344.2L1350.2,380.5L1350.7,388.9L1351.3,371.7L1351.9,374.3L1352.4,359.5L1353.0,387.2L1353.6,363.8L1354.1,364.4L1354.7,349.1L1355.3,376.4L1355.9,415.1L1356.4,377.6L1357.0,357.6L1357.6,383.5L1358.1,362.1L1358.7,390.6L1359.3,367.3L1359.9,381.8L1360.4,358.5L1361.0,384.2L1361.6,368.0L1362.1,369.7L1362.7,351.3L1363.3,378.7L1363.8,375.2L1364.4,337.5L1365.0,368.7L1365.6,387.7L1366.1,375.9L1366.7,382.0L1367.3,386.5L1367.8,378.3L1368.4,408.0L1369.0,406.3L1369.5,380.2L1370.1,414.2L1370.7,371.4L1371.2,355.6L1371.8,369.2L1372.4,386.5L1373.0,355.8L1373.5,378.5L1374.1,344.6L1374.7,367.1L1375.2,352.5L1375.8,381.3L1376.4,379.0L1377.0,368.3L1377.5,370.1L1378.1,387.1L1378.7,368.4L1379.2,366.2L1379.8,366.3L1380.4,384.3L1380.9,370.3L1381.5,346.6L1382.1,370.6L1382.6,384.2L1383.2,358.0L1383.8,368.1L1384.4,368.2L1384.9,386.8L1385.5,361.5L1386.1,375.8L1386.6,369.9L1387.2,388.9L1387.8,358.4L1388.4,350.7L1388.9,396.1L1389.5,379.8L1390.1,373.2L1390.6,393.4L1391.2,391.8L1391.8,393.3L1392.3,370.4L1392.9,379.8L1393.5,396.9L1394.1,377.7L1394.6,362.3L1395.2,384.6L1395.8,357.6L1396.3,355.7L1396.9,357.3L1397.5,363.3L1398.0,353.9L1398.6,374.2L1399.2,372.5L1399.8,360.8L1400.3,362.8L1400.9,334.2L1401.5,361.7L1402.0,386.9L1402.6,356.5L1403.2,384.3L1403.7,384.9L1404.3,362.2L1404.9,365.5L1405.5,394.7L1406.0,376.7L1406.6,362.5L1407.2,378.9L1407.7,373.3L1408.3,343.0L1408.9,382.7L1409.4,352.4L1410.0,385.4L1410.6,352.5L1411.1,390.2L1411.7,356.7L1412.3,377.1L1412.9,366.8L1413.4,388.0L1414.0,368.8L1414.6,370.7L1415.1,370.2L1415.7,354.6L1416.3,376.7L1416.9,373.3L1417.4,373.7L1418.0,395.8L1418.6,384.9L1419.1,384.8L1419.7,381.1L1420.3,380.8L1420.8,391.4L1421.4,408.0L1422.0,360.7L1422.6,352.1L1423.1,382.2L1423.7,388.5L1424.3,382.0L1424.8,350.4L1425.4,362.8L1426.0,391.9L1426.5,363.1L1427.1,369.9L1427.7,363.1L1428.2,376.9L1428.8,386.5L1429.4,357.1L1430.0,359.9L1430.5,380.8L1431.1,366.1L1431.7,390.9L1432.2,371.1L1432.8,384.1L1433.4,369.6L1434.0,374.9L1434.5,359.0L1435.1,375.0L1435.7,368.1L1436.2,391.0L1436.8,369.2L1437.4,386.1L1437.9,357.5L1438.5,373.6L1439.1,346.3L1439.6,388.9L1440.2,339.2L1440.8,380.4L1441.4,366.3L1441.9,379.9L1442.5,396.8L1443.1,369.6L1443.6,355.3L1444.2,360.6L1444.8,395.0L1445.4,373.3L1445.9,367.9L1446.5,376.5L1447.1,374.9L1447.6,352.3L1448.2,371.7L1448.8,378.1L1449.3,368.6L1449.9,385.0L1450.5,393.2L1451.1,380.7L1451.6,367.0L1452.2,394.5L1452.8,365.1L1453.3,377.8L1453.9,362.1L1454.5,372.3L1455.0,359.6L1455.6,385.5L1456.2,369.2L1456.8,373.2L1457.3,354.2L1457.9,376.1L1458.5,379.7L1459.0,367.9L1459.6,364.8L1460.2,357.3L1460.7,378.6L1461.3,408.5L1461.9,364.3L1462.5,357.3L1463.0,362.4L1463.6,360.9L1464.2,366.2L1464.7,379.1L1465.3,361.6L1465.9,408.3L1466.4,369.3L1467.0,346.7L1467.6,359.5L1468.1,384.8L1468.7,369.1L1469.3,401.7L1469.9,346.7L1470.4,390.0L1471.0,360.3L1471.6,380.6L1472.1,372.9L1472.7,370.6L1473.3,369.5L1473.9,389.0L1474.4,371.2L1475.0,376.4L1475.6,374.6L1476.1,365.3L1476.7,375.8L1477.3,369.5L1477.8,357.9L1478.4,360.9L1479.0,376.8L1479.6,390.6L1480.1,357.4L1480.7,370.8L1481.3,383.2L1481.8,382.2L1482.4,355.5L1483.0,387.6L1483.5,368.1L1484.1,364.0L1484.7,369.8L1485.2,383.7L1485.8,362.9L1486.4,378.4L1487.0,373.0L1487.5,378.2L1488.1,375.7L1488.7,382.4L1489.2,369.3L1489.8,375.6L1490.4,338.8L1491.0,392.2L1491.5,372.1L1492.1,358.9L1492.7,357.2L1493.2,355.2L1493.8,357.2L1494.4,387.4L1494.9,360.1L1495.5,370.5L1496.1,386.3L1496.6,381.9L1497.2,368.1L1497.8,358.0L1498.4,361.9L1498.9,355.5L1499.5,358.3L1500.1,353.1L1500.6,363.1L1501.2,380.1L1501.8,367.1L1502.4,392.9L1502.9,337.9L1503.5,364.0L1504.1,362.3L1504.6,378.9L1505.2,361.6L1505.8,370.8L1506.3,388.0L1506.9,355.2L1507.5,367.5L1508.1,382.7L1508.6,353.0L1509.2,356.5L1509.8,386.7L1510.3,384.3L1510.9,384.3L1511.5,392.3L1512.0,370.7L1512.6,377.2L1513.2,362.4L1513.8,397.6L1514.3,356.6L1514.9,373.6L1515.5,370.2L1516.0,383.1L1516.6,356.4L1517.2,387.6L1517.7,360.0L1518.3,384.2L1518.9,360.4L1519.5,385.9L1520.0,382.5L1520.6,380.6L1521.2,362.9L1521.7,383.8L1522.3,372.0L1522.9,385.4L1523.4,365.9L1524.0,393.5L1524.6,379.3L1525.1,371.0L1525.7,347.9L1526.3,382.5L1526.9,357.7L1527.4,378.3L1528.0,366.0L1528.6,370.2L1529.1,364.3L1529.7,407.5L1530.3,357.3L1530.9,384.7L1531.4,362.4L1532.0,380.1L1532.6,364.9L1533.1,377.4L1533.7,368.3L1534.3,374.5L1534.8,349.2L1535.4,392.2L1536.0,378.9L1536.6,379.9L1537.1,359.4L1537.7,383.0L1538.3,385.0L1538.8,375.7L1539.4,344.6L1540.0,374.8L1540.5,358.7L1541.1,382.4L1541.7,379.7L1542.2,380.6L1542.8,353.6L1543.4,385.0L1544.0,382.3L1544.5,384.1L1545.1,372.7L1545.7,375.5L1546.2,387.1L1546.8,385.6L1547.4,366.8L1548.0,391.2L1548.5,375.2L1549.1,390.0L1549.7,366.7L1550.2,374.7L1550.8,384.6L1551.4,364.4L1551.9,388.8L1552.5,387.9L1553.1,376.0L1553.6,389.8L1554.2,344.5L1554.8,389.3L1555.4,371.0L1555.9,374.1L1556.5,363.7L1557.1,363.4L1557.6,369.3L1558.2,341.5L1558.8,367.1L1559.4,393.1L1559.9,363.7L1560.5,358.7L1561.1,359.0L1561.6,351.5L1562.2,367.8L1562.8,364.3L1563.3,355.8L1563.9,375.6L1564.5,375.8L1565.1,373.1L1565.6,383.0L1566.2,347.0L1566.8,373.3L1567.3,373.3L1567.9,383.7L1568.5,380.6L1569.0,346.1L1569.6,381.2L1570.2,356.6L1570.8,383.7L1571.3,360.4L1571.9,373.0L1572.5,342.7L1573.0,383.9L1573.6,369.2L1574.2,382.9L1574.7,358.0L1575.3,377.2L1575.9,381.2L1576.5,383.8L1577.0,360.2L1577.6,385.7L1578.2,371.2L1578.7,383.0L1579.3,381.0L1579.9,388.7L1580.4,361.4L1581.0,374.6L1581.6,363.2L1582.1,390.3L1582.7,367.5L1583.3,374.0L1583.9,359.7L1584.4,381.3L1585.0,382.3L1585.6,379.0L1586.1,377.7L1586.7,376.3L1587.3,369.6L1587.9,378.6L1588.4,361.4L1589.0,389.9L1589.6,360.1L1590.1,373.4L1590.7,340.2L1591.3,384.4L1591.8,361.8L1592.4,384.0L1593.0,362.8L1593.6,385.9L1594.1,371.0L1594.7,383.2L1595.3,372.3L1595.8,378.0L1596.4,362.9L1597.0,381.0L1597.5,366.0L1598.1,373.8L1598.7,363.0L1599.2,375.9L1599.8,366.0L1600.4,386.6L1601.0,366.4L1601.5,382.4L1602.1,357.8L1602.7,381.9L1603.2,371.5L1603.8,374.5L1604.4,371.0L1605.0,382.8L1605.5,375.8L1606.1,392.0L1606.7,356.8L1607.2,377.6L1607.8,381.6L1608.4,359.0L1608.9,387.1L1609.5,405.4L1610.1,369.7L1610.6,370.7L1611.2,340.7L1611.8,386.0L1612.4,380.9L1612.9,363.8L1613.5,360.6L1614.1,357.6L1614.6,363.8L1615.2,393.4L1615.8,366.1L1616.4,378.6L1616.9,375.3L1617.5,378.6L1618.1,364.9L1618.6,368.4L1619.2,360.1L1619.8,388.3L1620.3,358.5L1620.9,380.8L1621.5,341.0L1622.1,376.2L1622.6,374.6L1623.2,371.5L1623.8,372.5L1624.3,376.5L1624.9,341.1L1625.5,374.6L1626.0,372.7L1626.6,379.8L1627.2,377.6L1627.8,378.0L1628.3,372.5L1628.9,379.0L1629.5,351.7L1630.0,386.4L1630.6,388.6L1631.2,378.5L1631.7,385.5L1632.3,365.2L1632.9,370.8L1633.5,386.2L1634.0,367.7L1634.6,379.7L1635.2,363.5L1635.7,376.1L1636.3,366.5L1636.9,376.3L1637.4,369.7L1638.0,377.8L1638.6,385.3L1639.1,381.8L1639.7,354.9L1640.3,377.6L1640.9,367.5L1641.4,375.0L1642.0,361.3L1642.6,368.1L1643.1,387.7L1643.7,387.1L1644.3,360.9L1644.9,379.9L1645.4,359.7L1646.0,374.5L1646.6,369.5L1647.1,381.2L1647.7,358.7L1648.3,383.8L1648.8,365.1L1649.4,384.6L1650.0,362.4L1650.6,373.4L1651.1,360.5L1651.7,375.0L1652.3,368.4L1652.8,380.2L1653.4,384.8L1654.0,377.0L1654.5,388.8L1655.1,371.6L1655.7,362.5L1656.2,370.4L1656.8,359.5L1657.4,387.2L1658.0,358.7L1658.5,359.8L1659.1,369.9L1659.7,384.2L1660.2,357.0L1660.8,375.9L1661.4,377.5L1662.0,375.7L1662.5,386.2L1663.1,373.2L1663.7,396.3L1664.2,363.8L1664.8,365.6L1665.4,370.1L1665.9,368.8L1666.5,349.6L1667.1,362.3L1667.6,371.4L1668.2,403.0L1668.8,385.5L1669.4,372.6L1669.9,380.0L1670.5,350.2L1671.1,354.3L1671.6,367.7L1672.2,385.2L1672.8,381.1L1673.4,390.9L1673.9,357.3L1674.5,376.0L1675.1,371.0L1675.6,381.0L1676.2,368.9L1676.8,403.6L1677.3,373.8L1677.9,391.0L1678.5,363.6L1679.1,384.1L1679.6,372.9L1680.2,365.3L1680.8,371.1L1681.3,403.5L1681.9,353.6L1682.5,373.5L1683.0,361.8L1683.6,376.3L1684.2,360.8L1684.8,403.4L1685.3,383.1L1685.9,387.0L1686.5,342.7L1687.0,376.9L1687.6,360.2L1688.2,384.4L1688.7,360.2L1689.3,374.2L1689.9,365.2L1690.5,379.4L1691.0,376.8L1691.6,342.9L1692.2,348.1L1692.7,382.6L1693.3,381.3L1693.9,377.7L1694.4,365.6L1695.0,388.6L1695.6,369.8L1696.1,364.8L1696.7,364.7L1697.3,374.7L1697.9,357.5L1698.4,385.4L1699.0,375.8L1699.6,386.6L1700.1,379.5L1700.7,385.8L1701.3,366.4L1701.9,357.3L1702.4,364.4L1703.0,378.2L1703.6,387.4L1704.1,379.7L1704.7,365.5L1705.3,377.0L1705.8,370.0L1706.4,361.8L1707.0,365.0L1707.6,377.0L1708.1,363.1L1708.7,378.2L1709.3,367.0L1709.8,371.2L1710.4,356.9L1711.0,377.6L1711.5,383.4L1712.1,370.2L1712.7,366.5L1713.2,388.5L1713.8,363.7L1714.4,387.2L1715.0,366.9L1715.5,376.3L1716.1,364.1L1716.7,362.0L1717.2,385.3L1717.8,364.4L1718.4,373.1L1719.0,400.0L1719.5,356.1L1720.1,383.3L1720.7,363.8L1721.2,374.9L1721.8,359.3L1722.4,376.3L1722.9,383.1L1723.5,374.7L1724.1,372.0L1724.6,369.5L1725.2,371.8L1725.8,377.0L1726.4,359.1L1726.9,388.7L1727.5,382.7L1728.1,357.0L1728.6,380.3L1729.2,376.0L1729.8,372.5L1730.4,374.2L1730.9,369.7L1731.5,376.5L1732.1,369.5L1732.6,383.4L1733.2,349.3L1733.8,380.1L1734.3,354.6L1734.9,393.5L1735.5,365.7L1736.1,387.2L1736.6,363.1L1737.2,384.4L1737.8,366.4L1738.3,373.5L1738.9,381.5L1739.5,376.9L1740.0,384.4L1740.6,372.1L1741.2,364.3L1741.8,382.3L1742.3,373.6L1742.9,362.8L1743.5,375.9L1744.0,382.6L1744.6,359.5L1745.2,386.0L1745.7,365.7L1746.3,391.2L1746.9,371.1L1747.5,379.4L1748.0,377.6L1748.6,373.3L1749.2,371.8L1749.7,377.2L1750.3,362.6L1750.9,383.4L1751.4,369.2L1752.0,364.3L1752.6,365.9L1753.1,383.1L1753.7,363.7L1754.3,389.4L1754.9,383.6L1755.4,364.7L1756.0,374.5L1756.6,372.0L1757.1,372.3L1757.7,386.8L1758.3,386.8L1758.9,344.6L1759.4,399.0L1760.0,365.1L1760.6,362.4L1761.1,380.6L1761.7,361.0L1762.3,401.3L1762.8,367.5L1763.4,385.3L1764.0,359.5L1764.6,376.0L1765.1,381.7L1765.7,363.0L1766.3,364.9L1766.8,375.6L1767.4,360.2L1768.0,374.1L1768.5,362.8L1769.1,384.6L1769.7,373.3L1770.2,377.7L1770.8,362.7L1771.4,397.3L1772.0,377.4L1772.5,375.9L1773.1,366.2L1773.7,377.6L1774.2,372.9L1774.8,401.0L1775.4,368.6L1776.0,390.1L1776.5,357.9L1777.1,365.9L1777.7,369.9L1778.2,361.2L1778.8,380.6L1779.4,382.4L1779.9,363.5L1780.5,375.4L1781.1,362.7L1781.6,382.6L1782.2,349.9L1782.8,383.1L1783.4,368.2L1783.9,376.0L1784.5,369.3L1785.1,382.3L1785.6,380.2L1786.2,379.1L1786.8,383.0L1787.4,371.9L1787.9,373.3L1788.5,379.9L1789.1,364.9L1789.6,383.0L1790.2,367.5L1790.8,380.7L1791.3,368.8L1791.9,358.9L1792.5,382.8L1793.1,384.0L1793.6,395.6L1794.2,392.1L1794.8,365.5L1795.3,381.1L1795.9,378.2L1796.5,376.9L1797.0,368.6L1797.6,376.3L1798.2,366.3L1798.8,374.5L1799.3,358.1L1799.9,397.4L1800.5,362.8L1801.0,379.3L1801.6,359.0L1802.2,380.1L1802.7,372.4L1803.3,394.4L1803.9,356.7L1804.5,380.2L1805.0,370.6L1805.6,363.8L1806.2,400.2L1806.7,384.4L1807.3,393.4L1807.9,385.0L1808.4,372.7L1809.0,380.0L1809.6,363.1L1810.1,395.7L1810.7,362.9L1811.3,378.1L1811.9,358.6L1812.4,377.7L1813.0,372.1L1813.6,375.4L1814.1,383.0L1814.7,378.7L1815.3,357.2L1815.9,380.8L1816.4,389.0L1817.0,373.5L1817.6,371.3L1818.1,358.5L1818.7,350.1L1819.3,379.5L1819.8,377.5L1820.4,392.0L1821.0,364.1L1821.6,376.2L1822.1,362.7L1822.7,374.8L1823.3,370.7L1823.8,375.4L1824.4,375.1L1825.0,374.6L1825.5,384.1L1826.1,374.4L1826.7,362.6L1827.2,376.5L1827.8,398.8L1828.4,359.7L1829.0,355.0L1829.5,380.4L1830.1,391.0L1830.7,390.3L1831.2,366.2L1831.8,380.8L1832.4,375.2L1833.0,377.9L1833.5,364.4L1834.1,391.1L1834.7,371.2L1835.2,380.5L1835.8,366.7L1836.4,375.5L1836.9,369.3L1837.5,375.2L1838.1,371.1L1838.6,366.2L1839.2,372.3L1839.8,376.6L1840.4,363.7L1840.9,382.1L1841.5,375.4L1842.1,370.1L1842.6,370.0L1843.2,348.8L1843.8,370.7L1844.4,399.2L1844.9,361.1L1845.5,379.4L1846.1,368.6L1846.6,369.6L1847.2,371.9L1847.8,373.9L1848.3,381.4L1848.9,370.3L1849.5,354.6L1850.1,369.1L1850.6,366.7L1851.2,383.8L1851.8,370.4L1852.3,362.2L1852.9,368.7L1853.5,371.9L1854.0,362.7L1854.6,390.9L1855.2,372.3L1855.8,386.5L1856.3,362.5L1856.9,372.1L1857.5,371.0L1858.0,377.1L1858.6,358.9L1859.2,383.3L1859.7,364.6L1860.3,393.5L1860.9,361.9L1861.5,383.0L1862.0,365.8L1862.6,381.9L1863.2,369.4L1863.7,373.5L1864.3,368.1L1864.9,382.4L1865.4,375.0L1866.0,371.6L1866.6,368.2L1867.1,369.7L1867.7,373.0L1868.3,381.7L1868.9,365.2L1869.4,383.5L1870.0,372.8L1870.6,385.9L1871.1,377.6L1871.7,381.0L1872.3,375.9L1872.9,371.8L1873.4,371.7L1874.0,362.0L1874.6,369.2L1875.1,382.9L1875.7,368.2L1876.3,386.1L1876.8,361.5L1877.4,367.3L1878.0,372.4L1878.6,373.4L1879.1,377.7L1879.7,375.6L1880.3,366.1L1880.8,355.1L1881.4,376.0L1882.0,360.2L1882.5,376.3L1883.1,365.6L1883.7,367.0L1884.2,371.7L1884.8,372.3L1885.4,379.8L1886.0,362.5L1886.5,382.6L1887.1,381.3L1887.7,373.4L1888.2,365.3L1888.8,375.9L1889.4,363.4L1890.0,376.6L1890.5,377.0L1891.1,380.4L1891.7,372.3L1892.2,368.7L1892.8,358.2L1893.4,386.9L1893.9,370.3L1894.5,377.2L1895.1,364.0L1895.6,367.4L1896.2,364.4L1896.8,381.1L1897.4,370.4L1897.9,351.1L1898.5,360.8L1899.1,384.1L1899.6,383.8L1900.2,374.8L1900.8,367.7L1901.4,373.9L1901.9,367.7L1902.5,352.0L1903.1,364.2L1903.6,377.9L1904.2,368.8L1904.8,380.8L1905.3,367.1L1905.9,375.9L1906.5,366.3L1907.1,378.3L1907.6,377.0L1908.2,364.6L1908.8,366.4L1909.3,368.1L1909.9,362.8L1910.5,379.4L1911.0,379.5L1911.6,377.7L1912.2,383.7L1912.8,377.6L1913.3,370.2L1913.9,363.8L1914.5,372.0L1915.0,382.9L1915.6,365.8L1916.2,371.1L1916.7,371.8L1917.3,369.7L1917.9,368.9L1918.5,382.7L1919.0,367.5L1919.6,378.4L1920.2,363.2L1920.7,366.0L1921.3,365.2L1921.9,370.5L1922.4,367.4L1923.0,371.6L1923.6,358.1L1924.1,379.6L1924.7,375.0L1925.3,367.6L1925.9,362.7L1926.4,375.1L1927.0,373.0L1927.6,376.2L1928.1,368.6L1928.7,387.7L1929.3,366.9L1929.9,363.0L1930.4,361.1L1931.0,377.1L1931.6,365.7L1932.1,375.2L1932.7,381.9L1933.3,374.8L1933.8,369.9L1934.4,390.7L1935.0,363.2L1935.6,373.1L1936.1,363.5L1936.7,373.8L1937.3,365.5L1937.8,369.3L1938.4,383.4L1939.0,378.7L1939.5,365.7L1940.1,376.6L1940.7,370.6L1941.2,374.4L1941.8,365.3L1942.4,349.5L1943.0,361.7L1943.5,378.1L1944.1,379.0L1944.7,372.2L1945.2,375.9L1945.8,379.1L1946.4,355.6L1947.0,387.9L1947.5,372.9L1948.1,377.9L1948.7,377.6L1949.2,375.5L1949.8,390.5L1950.4,366.0L1950.9,365.8L1951.5,373.4L1952.1,375.4L1952.6,374.5L1953.2,377.2L1953.8,379.0L1954.4,366.7L1954.9,380.6L1955.5,378.5L1956.1,379.6L1956.6,368.0L1957.2,381.2L1957.8,367.8L1958.4,378.9L1958.9,369.7L1959.5,364.0L1960.1,363.7L1960.6,393.8L1961.2,366.5L1961.8,369.0L1962.3,375.3L1962.9,376.3L1963.5,377.8L1964.1,363.8L1964.6,371.0L1965.2,370.2L1965.8,363.8L1966.3,377.6L1966.9,362.7L1967.5,380.1L1968.0,376.6L1968.6,374.1L1969.2,372.3L1969.8,381.0L1970.3,350.5L1970.9,375.8L1971.5,362.4L1972.0,368.0L1972.6,366.4L1973.2,385.8L1973.7,359.4L1974.3,382.8L1974.9,368.1L1975.5,380.9L1976.0,375.5L1976.6,384.5L1977.2,364.0L1977.7,354.7L1978.3,374.0L1978.9,376.0L1979.4,369.7L1980.0,365.5L1980.6,371.2L1981.1,375.7L1981.7,392.9L1982.3,377.0L1982.9,363.3L1983.4,373.3L1984.0,371.8L1984.6,371.0L1985.1,365.0L1985.7,367.6L1986.3,364.6L1986.9,376.3L1987.4,352.4L1988.0,350.1L1988.6,367.9L1989.1,386.9L1989.7,370.4L1990.3,374.4L1990.8,357.0L1991.4,382.5L1992.0,363.7L1992.6,379.5L1993.1,363.0L1993.7,375.8L1994.3,366.2L1994.8,378.4L1995.4,375.2L1996.0,350.6L1996.5,366.8L1997.1,377.5L1997.7,368.8L1998.2,376.5L1998.8,383.9L1999.4,382.2L2000.0,367.3L2000.5,374.3L2001.1,352.2L2001.7,370.1L2002.2,376.8L2002.8,383.6L2003.4,363.6L2004.0,362.4L2004.5,371.4L2005.1,394.9L2005.7,372.8L2006.2,379.2L2006.8,377.3L2007.4,376.3L2007.9,355.5L2008.5,370.4L2009.1,372.3L2009.6,365.5L2010.2,370.0L2010.8,381.6L2011.4,380.2L2011.9,380.5L2012.5,363.5L2013.1,363.5L2013.6,379.2L2014.2,377.9L2014.8,368.5L2015.4,378.9L2015.9,377.4L2016.5,375.5L2017.1,368.9L2017.6,385.3L2018.2,371.4L2018.8,372.5L2019.3,388.0L2019.9,380.0L2020.5,362.8L2021.1,376.2L2021.6,369.8L2022.2,369.6L2022.8,372.9L2023.3,379.5L2023.9,355.8L2024.5,381.3L2025.0,382.3L2025.6,378.4L2026.2,360.0L2026.8,357.0L2027.3,371.4L2027.9,380.4L2028.5,380.2L2029.0,381.3L2029.6,373.6L2030.2,377.7L2030.7,364.6L2031.3,377.6L2031.9,355.9L2032.5,369.5L2033.0,364.7L2033.6,361.3L2034.2,367.9L2034.7,370.8L2035.3,367.3L2035.9,375.9L2036.4,374.5L2037.0,374.1L2037.6,364.6L2038.1,378.1L2038.7,368.7L2039.3,381.3L2039.9,364.8L2040.4,379.5L2041.0,373.4L2041.6,391.7L2042.1,363.8L2042.7,376.2L2043.3,371.8L2043.9,381.6L2044.4,356.6L2045.0,361.3L2045.6,359.6L2046.1,380.4L2046.7,361.2L2047.3,369.2L2047.8,386.5L2048.4,381.7L2049.0,365.3L2049.6,376.0L2050.1,369.8L2050.7,379.9L2051.3,365.1L2051.8,374.3L2052.4,373.0L2053.0,378.4L2053.5,365.1L2054.1,387.4L2054.7,370.0L2055.2,377.0L2055.8,368.3L2056.4,381.6L2057.0,383.2L2057.5,363.6L2058.1,375.0L2058.7,375.2L2059.2,360.7L2059.8,366.4L2060.4,366.2L2060.9,378.4L2061.5,356.0L2062.1,383.5L2062.7,375.5L2063.2,375.9L2063.8,365.9L2064.4,373.8L2064.9,368.4L2065.5,377.8L2066.1,364.1L2066.6,351.1L2067.2,367.7L2067.8,389.5L2068.4,369.8L2068.9,383.1L2069.5,363.9L2070.1,366.1L2070.6,374.7L2071.2,375.3L2071.8,367.7L2072.4,373.2L2072.9,381.3L2073.5,377.0L2074.1,380.9L2074.6,373.9L2075.2,365.6L2075.8,377.5L2076.3,363.7L2076.9,379.4L2077.5,377.7L2078.1,366.9L2078.6,394.8L2079.2,376.9L2079.8,352.8L2080.3,384.3L2080.9,375.8L2081.5,379.2L2082.0,367.2L2082.6,374.4L2083.2,362.6L2083.8,373.1L2084.3,351.3L2084.9,388.1L2085.5,367.5L2086.0,381.6L2086.6,371.5L2087.2,380.0L2087.7,363.4L2088.3,377.8L2088.9,381.2L2089.4,374.9L2090.0,375.7L2090.6,393.6L2091.2,379.1L2091.7,362.0L2092.3,356.6L2092.9,376.6L2093.4,364.0L2094.0,374.0L2094.6,361.7L2095.1,372.5L2095.7,368.6L2096.3,378.8L2096.9,370.4L2097.4,375.4L2098.0,372.4L2098.6,379.9L2099.1,367.3L2099.7,376.2L2100.3,372.3L2100.9,383.9L2101.4,368.6L2102.0,380.7L2102.6,366.1L2103.1,380.4L2103.7,384.6L2104.3,384.5L2104.8,365.9L2105.4,377.5L2106.0,367.4L2106.6,386.7L2107.1,357.0L2107.7,379.4L2108.3,372.2L2108.8,378.9L2109.4,369.7L2110.0,376.8L2110.5,368.2L2111.1,371.5L2111.7,372.5L2112.2,363.1L2112.8,378.0L2113.4,378.6L2114.0,365.3L2114.5,372.3L2115.1,384.1L2115.7,370.9L2116.2,381.3L2116.8,375.5L2117.4,361.1L2117.9,377.4L2118.5,369.6L2119.1,378.1L2119.7,365.5L2120.2,375.6L2120.8,370.8L2121.4,380.1L2121.9,370.3L2122.5,386.8L2123.1,370.2L2123.6,376.6L2124.2,380.7L2124.8,366.5L2125.4,369.9L2125.9,374.5L2126.5,364.5L2127.1,374.3L2127.6,379.0L2128.2,380.4L2128.8,370.0L2129.3,363.9L2129.9,364.5L2130.5,380.0L2131.1,385.5L2131.6,381.7L2132.2,353.2L2132.8,373.7L2133.3,368.3L2133.9,379.7L2134.5,358.1L2135.1,383.8L2135.6,381.1L2136.2,380.2L2136.8,366.3L2137.3,393.1L2137.9,370.7L2138.5,386.9L2139.0,371.2L2139.6,383.6L2140.2,371.7L2140.8,378.9L2141.3,365.0L2141.9,363.3L2142.5,369.2L2143.0,389.1L2143.6,369.1L2144.2,375.7L2144.7,362.6L2145.3,380.9L2145.9,373.6L2146.4,375.5L2147.0,372.1L2147.6,373.3L2148.2,372.7L2148.7,381.4L2149.3,364.1L2149.9,375.5L2150.4,365.7L2151.0,362.6L2151.6,372.4L2152.2,374.2L2152.7,362.8L2153.3,383.2L2153.9,365.0L2154.4,366.0L2155.0,366.9L2155.6,364.2L2156.1,371.9L2156.7,375.6L2157.3,372.5L2157.8,381.9L2158.4,371.2L2159.0,381.2L2159.6,362.4L2160.1,380.7L2160.7,365.3L2161.3,380.0L2161.8,366.0L2162.4,362.2L2163.0,366.6L2163.6,374.5L2164.1,352.4L2164.7,376.8L2165.3,365.0L2165.8,382.6L2166.4,369.3L2167.0,378.9L2167.5,358.5L2168.1,375.7L2168.7,369.9L2169.2,375.5L2169.8,365.5L2170.4,377.3L2171.0,372.8L2171.5,379.0L2172.1,369.7L2172.7,375.0L2173.2,365.3L2173.8,375.2L2174.4,381.6L2174.9,378.9L2175.5,362.9L2176.1,379.9L2176.7,355.8L2177.2,364.5L2177.8,368.9L2178.4,373.8L2178.9,375.1L2179.5,370.9L2180.1,369.8L2180.7,379.8L2181.2,352.6L2181.8,383.0L2182.4,361.5L2182.9,375.1L2183.5,379.3L2184.1,375.5L2184.6,361.8L2185.2,378.9L2185.8,359.3L2186.3,376.3L2186.9,370.7L2187.5,361.6L2188.1,369.6L2188.6,385.1L2189.2,365.5L2189.8,377.3L2190.3,360.3L2190.9,382.3L2191.5,377.6L2192.1,380.9L2192.6,391.0L2193.2,368.7L2193.8,368.8L2194.3,374.0L2194.9,354.9L2195.5,380.4L2196.0,360.2L2196.6,375.3L2197.2,366.7L2197.8,369.6L2198.3,370.8L2198.9,384.5L2199.5,360.0L2200.0,393.2L2200.6,371.2L2201.2,367.9L2201.7,366.9L2202.3,383.3L2202.9,377.5L2203.4,381.2L2204.0,369.5L2204.6,377.9L2205.2,365.1L2205.7,373.8L2206.3,370.3L2206.9,374.4L2207.4,378.8L2208.0,371.3L2208.6,368.3L2209.2,379.1L2209.7,365.9L2210.3,377.8L2210.9,378.1L2211.4,375.3L2212.0,376.1L2212.6,375.0L2213.1,369.5L2213.7,368.7L2214.3,370.5L2214.8,376.9L2215.4,373.2L2216.0,364.2L2216.6,368.2L2217.1,376.3L2217.7,368.9L2218.3,381.7L2218.8,368.7L2219.4,376.8L2220.0,372.9L2220.6,366.1L2221.1,368.4L2221.7,374.3L2222.3,375.1L2222.8,381.0L2223.4,367.0L2224.0,379.5L2224.5,369.0L2225.1,375.8L2225.7,367.9L2226.2,374.1L2226.8,359.9L2227.4,379.6L2228.0,369.4L2228.5,377.9L2229.1,375.6L2229.7,381.4L2230.2,376.6L2230.8,378.0L2231.4,368.9L2231.9,375.8L2232.5,353.3L2233.1,382.6L2233.7,366.6L2234.2,373.8L2234.8,382.6L2235.4,364.9L2235.9,363.9L2236.5,380.4L2237.1,371.7L2237.7,373.4L2238.2,361.7L2238.8,384.8L2239.4,354.2L2239.9,379.2L2240.5,366.9L2241.1,388.0L2241.6,360.9L2242.2,375.9L2242.8,369.6L2243.3,379.7L2243.9,379.1L2244.5,373.1L2245.1,370.0L2245.6,382.4L2246.2,370.0L2246.8,374.2L2247.3,382.6L2247.9,377.9L2248.5,359.0L2249.1,374.3L2249.6,372.1L2250.2,380.2L2250.8,364.2L2251.3,376.6L2251.9,369.8L2252.5,381.7L2253.0,371.4L2253.6,376.9L2254.2,369.2L2254.8,375.3L2255.3,375.0L2255.9,390.8L2256.5,366.3L2257.0,379.9L2257.6,371.9L2258.2,376.7L2258.7,372.5L2259.3,373.8L2259.9,371.2L2260.4,368.1L2261.0,372.9L2261.6,380.7L2262.2,372.4L2262.7,392.4L2263.3,368.0L2263.9,373.7L2264.4,379.3L2265.0,376.1L2265.6,366.5L2266.2,378.3L2266.7,368.6L2267.3,377.8L2267.9,380.7L2268.4,367.8L2269.0,357.5L2269.6,365.0L2270.1,356.9L2270.7,371.4L2271.3,368.3L2271.9,381.2L2272.4,367.0L2273.0,371.8L2273.6,368.1L2274.1,379.2L2274.7,366.4L2275.3,358.1L2275.8,372.8L2276.4,374.9L2277.0,370.0L2277.6,370.2L2278.1,366.9L2278.7,369.8L2279.3,364.1L2279.8,379.4L2280.4,367.9L2281.0,384.2L2281.5,369.0L2282.1,377.3L2282.7,380.5L2283.2,382.0L2283.8,371.0L2284.4,383.1L2285.0,370.2L2285.5,375.8L2286.1,365.1L2286.7,373.2L2287.2,370.0L2287.8,382.6L2288.4,367.6L2288.9,357.5L2289.5,361.5L2290.1,380.9L2290.7,361.0L2291.2,376.2L2291.8,377.9L2292.4,376.0L2292.9,354.0L2293.5,365.5L2294.1,368.5L2294.7,379.5L2295.2,369.5L2295.8,379.1L2296.4,383.1L2296.9,378.7L2297.5,366.9L2298.1,383.5L2298.6,392.0L2299.2,377.7L2299.8,375.9L2300.4,380.2L2300.9,381.2L2301.5,375.4L2302.1,374.3L2302.6,357.3L2303.2,368.8L2303.8,382.3L2304.3,354.2L2304.9,377.1L2305.5,372.8L2306.1,369.4L2306.6,366.6L2307.2,380.4L2307.8,367.7L2308.3,365.8L2308.9,372.4L2309.5,373.3L2310.0,361.2L2310.6,378.2L2311.2,376.1L2311.8,380.0L2312.3,375.5L2312.9,368.5L2313.5,366.8L2314.0,374.4L2314.6,363.5L2315.2,379.0L2315.7,363.5L2316.3,379.3L2316.9,382.6L2317.4,377.4L2318.0,365.5L2318.6,379.1L2319.2,372.6L2319.7,368.5L2320.3,376.3L2320.9,375.3L2321.4,370.3L2322.0,377.9L2322.6,367.0L2323.2,373.2L2323.7,361.6L2324.3,371.1L2324.9,356.1L2325.4,379.2L2326.0,372.9L2326.6,371.8L2327.1,368.1L2327.7,371.5L2328.3,381.5L2328.9,374.8L2329.4,366.0L2330.0,361.2L2330.6,371.5L2331.1,376.6L2331.7,370.8L2332.3,379.8L2332.8,360.0L2333.4,374.3L2334.0,368.7L2334.6,382.3L2335.1,367.8L2335.7,374.6L2336.3,377.2L2336.8,354.7L2337.4,367.2L2338.0,376.8L2338.5,364.1L2339.1,381.2L2339.7,367.4L2340.2,380.4L2340.8,361.8L2341.4,368.0L2342.0,365.7L2342.5,378.6L2343.1,371.7L2343.7,386.1L2344.2,368.4L2344.8,376.4L2345.4,380.1L2345.9,370.9L2346.5,380.4L2347.1,368.8L2347.7,365.7L2348.2,377.5L2348.8,367.6L2349.4,373.9L2349.9,361.6L2350.5,383.4L2351.1,359.7L2351.7,374.5L2352.2,380.0L2352.8,368.2L2353.4,369.8L2353.9,375.5L2354.5,354.8L2355.1,380.7L2355.6,366.0L2356.2,379.7L2356.8,370.0L2357.4,379.7L2357.9,376.7L2358.5,362.9L2359.1,379.6L2359.6,380.2L2360.2,380.8L2360.8,373.7L2361.3,382.2L2361.9,381.3L2362.5,365.9L2363.0,367.4L2363.6,365.3L2364.2,360.4L2364.8,369.2L2365.3,377.3L2365.9,368.5L2366.5,380.5L2367.0,368.5L2367.6,379.0L2368.2,376.9L2368.8,376.8L2369.3,355.7L2369.9,381.9L2370.5,355.8L2371.0,366.7L2371.6,367.8L2372.2,363.5L2372.7,365.8L2373.3,367.4L2373.9,366.1L2374.5,382.0L2375.0,371.5L2375.6,375.3L2376.2,378.1L2376.7,380.1L2377.3,367.6L2377.9,357.9L2378.4,377.8L2379.0,375.3L2379.6,372.0L2380.2,373.5L2380.7,367.5L2381.3,377.1L2381.9,367.6L2382.4,364.2L2383.0,372.1L2383.6,375.4L2384.1,374.3L2384.7,379.4L2385.3,363.8L2385.9,384.9L2386.4,369.6L2387.0,381.6L2387.6,380.7L2388.1,376.8L2388.7,366.9L2389.3,385.6L2389.8,365.1L2390.4,377.0L2391.0,371.3L2391.5,373.2L2392.1,365.4L2392.7,373.8L2393.3,362.0L2393.8,373.2L2394.4,364.4L2395.0,385.4L2395.5,369.6L2396.1,374.4L2396.7,377.5L2397.2,374.0L2397.8,369.9L2398.4,387.2L2399.0,355.4L2399.5,376.8L2400.1,363.0L2400.7,374.9L2401.2,369.7L2401.8,373.7L2402.4,357.0L2403.0,377.7L2403.5,379.4L2404.1,378.3L2404.7,375.2L2405.2,380.4L2405.8,371.2L2406.4,371.9L2406.9,359.5L2407.5,375.3L2408.1,366.6L2408.7,378.9L2409.2,369.8L2409.8,368.6L2410.4,369.7L2410.9,377.4L2411.5,376.8L2412.1,368.5L2412.6,377.6L2413.2,375.2L2413.8,370.4L2414.4,371.3L2414.9,390.7L2415.5,378.3L2416.1,379.1L2416.6,390.7L2417.2,371.2L2417.8,373.9L2418.3,364.6L2418.9,369.3L2419.5,378.6L2420.0,378.1L2420.6,370.7L2421.2,357.8L2421.8,373.4L2422.3,374.1L2422.9,358.1L2423.5,370.1L2424.0,374.6L2424.6,366.4L2425.2,374.2L2425.8,374.6L2426.3,374.2L2426.9,376.7L2427.5,361.5L2428.0,377.6L2428.6,369.6L2429.2,379.3L2429.7,360.7L2430.3,378.3L2430.9,368.1L2431.5,373.9L2432.0,374.1L2432.6,372.7L2433.2,388.9L2433.7,380.2L2434.3,376.4L2434.9,390.7L2435.4,372.3L2436.0,370.7L2436.6,374.7L2437.2,370.1L2437.7,371.7L2438.3,371.3L2438.9,372.7L2439.4,376.8L2440.0,369.6L2440.6,377.0L2441.1,366.5L2441.7,378.2L2442.3,373.5L2442.9,372.8L2443.4,370.0L2444.0,363.4L2444.6,365.9L2445.1,376.2L2445.7,379.5L2446.3,384.1L2446.8,366.8L2447.4,369.2L2448.0,369.3L2448.5,379.1L2449.1,365.8L2449.7,375.5L2450.3,362.0L2450.8,386.6L2451.4,363.3L2452.0,374.4L2452.5,360.6L2453.1,369.9L2453.7,369.1L2454.2,384.7L2454.8,371.3L2455.4,377.7L2456.0,355.4L2456.5,368.1L2457.1,366.7L2457.7,367.4L2458.2,364.8L2458.8,363.3L2459.4,362.1L2460.0,377.3L2460.5,364.3L2461.1,376.3L2461.7,366.4L2462.2,384.1L2462.8,377.5L2463.4,367.9L2463.9,370.7L2464.5,377.8L2465.1,370.7L2465.7,379.6L2466.2,364.4L2466.8,389.7L2467.4,368.8L2467.9,367.8L2468.5,371.2L2469.1,364.6L2469.6,379.4L2470.2,373.0L2470.8,371.1L2471.4,368.0L2471.9,372.5L2472.5,373.6L2473.1,368.4L2473.6,359.7L2474.2,372.5L2474.8,358.6L2475.3,371.2L2475.9,362.1L2476.5,370.1L2477.0,377.9L2477.6,389.5L2478.2,370.3L2478.8,379.4L2479.3,381.0L2479.9,366.7L2480.5,372.8L2481.0,378.8L2481.6,377.9L2482.2,371.5L2482.8,374.6L2483.3,356.6L2483.9,376.8L2484.5,367.4L2485.0,383.2L2485.6,364.4L2486.2,377.1L2486.7,372.1L2487.3,376.6L2487.9,378.1L2488.5,370.8L2489.0,366.1L2489.6,378.9L2490.2,367.0L2490.7,374.1L2491.3,356.4L2491.9,381.6L2492.4,378.0L2493.0,380.5L2493.6,370.1L2494.2,383.0L2494.7,370.8L2495.3,373.1L2495.9,356.4L2496.4,373.1L2497.0,368.9L2497.6,371.4L2498.1,366.0L2498.7,379.4L2499.3,366.5L2499.9,382.5L2500.4,368.6L2501.0,377.1L2501.6,369.4L2502.1,367.5L2502.7,376.2L2503.3,379.8L2503.8,370.2L2504.4,375.0L2505.0,372.0L2505.5,377.0L2506.1,382.8L2506.7,366.0L2507.3,368.8L2507.8,362.0L2508.4,362.2L2509.0,377.7L2509.5,372.5L2510.1,377.2L2510.7,362.0L2511.2,383.9L2511.8,367.3L2512.4,375.1L2513.0,365.9L2513.5,372.0L2514.1,372.8L2514.7,374.9L2515.2,368.6L2515.8,362.2L2516.4,370.9L2517.0,376.6L2517.5,366.9L2518.1,384.2L2518.7,355.4L2519.2,367.8L2519.8,369.2L2520.4,376.0L2520.9,370.2L2521.5,372.2L2522.1,379.4L2522.7,371.4L2523.2,368.5L2523.8,390.7L2524.4,367.4L2524.9,386.4L2525.5,366.6L2526.1,384.8L2526.6,363.9L2527.2,367.4L2527.8,375.8L2528.4,375.4L2528.9,371.4L2529.5,375.4L2530.1,365.9L2530.6,376.4L2531.2,372.6L2531.8,375.6L2532.3,363.0L2532.9,376.5L2533.5,377.5L2534.0,374.7L2534.6,358.1L2535.2,379.0L2535.8,372.9L2536.3,368.3L2536.9,383.4L2537.5,377.1L2538.0,371.1L2538.6,361.6L2539.2,373.5L2539.8,373.6L2540.3,369.2L2540.9,374.7L2541.5,365.2L2542.0,382.0L2542.6,364.5L2543.2,373.5L2543.7,367.4L2544.3,379.0L2544.9,378.2L2545.5,367.4L2546.0,366.6L2546.6,373.6L2547.2,366.0L2547.7,373.5L2548.3,377.3L2548.9,378.5L2549.4,368.8L2550.0,369.3L2550.6,372.6L2551.2,373.9L2551.7,377.3L2552.3,378.9L2552.9,379.7L2553.4,366.8L2554.0,366.6L2554.6,375.0L2555.1,372.4L2555.7,370.3L2556.3,362.6L2556.9,374.6L2557.4,374.8L2558.0,375.8L2558.6,379.8L2559.1,377.3L2559.7,371.3L2560.3,379.7L2560.8,370.5L2561.4,380.9L2562.0,378.6L2562.5,366.6L2563.1,384.7L2563.7,374.0L2564.3,363.8L2564.8,372.4L2565.4,369.8L2566.0,369.8L2566.5,369.5L2567.1,379.2L2567.7,368.2L2568.2,390.5L2568.8,358.1L2569.4,368.0L2570.0,386.3L2570.5,384.0L2571.1,369.9L2571.7,374.8L2572.2,361.8L2572.8,386.6L2573.4,369.9L2574.0,365.9L2574.5,372.0L2575.1,380.5L2575.7,359.0L2576.2,376.7L2576.8,372.4L2577.4,367.9L2577.9,376.3L2578.5,386.9L2579.1,365.0L2579.7,374.4L2580.2,376.3L2580.8,381.2L2581.4,378.6L2581.9,367.1L2582.5,367.4L2583.1,372.1L2583.6,377.2L2584.2,373.2L2584.8,378.8L2585.4,374.7L2585.9,366.3L2586.5,361.1L2587.1,372.0L2587.6,389.3L2588.2,361.4L2588.8,380.2L2589.3,355.7L2589.9,365.4L2590.5,369.4L2591.0,377.8L2591.6,365.5L2592.2,368.8L2592.8,362.7L2593.3,368.1L2593.9,359.0L2594.5,368.4L2595.0,372.8L2595.6,367.3L2596.2,369.9L2596.8,379.4L2597.3,369.1L2597.9,376.1L2598.5,367.0L2599.0,376.0L2599.6,371.9L2600.2,379.5L2600.7,371.3L2601.3,365.7L2601.9,372.0L2602.5,373.3L2603.0,366.8L2603.6,366.8L2604.2,364.5L2604.7,378.9L2605.3,372.3L2605.9,376.3L2606.4,379.0L2607.0,371.8L2607.6,372.3L2608.2,379.5L2608.7,366.8L2609.3,370.6L2609.9,373.9L2610.4,375.2L2611.0,377.5L2611.6,375.4L2612.1,377.7L2612.7,379.7L2613.3,370.0L2613.9,379.8L2614.4,367.4L2615.0,377.4L2615.6,371.1L2616.1,383.1L2616.7,366.9L2617.3,374.1L2617.8,368.2L2618.4,376.3L2619.0,364.2L2619.5,387.4L2620.1,367.8L2620.7,367.2L2621.3,363.2L2621.8,373.8L2622.4,370.5L2623.0,366.6L2623.5,383.6L2624.1,379.7L2624.7,371.7L2625.2,375.9L2625.8,366.2L2626.4,373.9L2627.0,370.7L2627.5,378.3L2628.1,370.9L2628.7,379.2L2629.2,366.3L2629.8,373.6L2630.4,371.5L2631.0,376.9L2631.5,378.4L2632.1,375.3L2632.7,375.4L2633.2,362.8L2633.8,366.9L2634.4,366.5L2634.9,382.8L2635.5,376.4L2636.1,371.6L2636.7,370.9L2637.2,370.4L2637.8,377.6L2638.4,372.4L2638.9,379.7L2639.5,378.6L2640.1,372.7L2640.6,365.5L2641.2,377.8L2641.8,377.2L2642.4,376.6L2642.9,368.4L2643.5,378.4L2644.1,378.2L2644.6,379.8L2645.2,370.1L2645.8,370.1L2646.3,371.5L2646.9,382.0L2647.5,366.7L2648.0,375.3L2648.6,370.2L2649.2,367.9L2649.8,371.1L2650.3,380.8L2650.9,385.1L2651.5,378.1L2652.0,368.0L2652.6,385.0L2653.2,365.5L2653.8,381.1L2654.3,367.2L2654.9,371.0L2655.5,372.8L2656.0,375.4L2656.6,372.0L2657.2,374.6L2657.7,366.4L2658.3,378.0L2658.9,387.6L2659.5,377.6L2660.0,377.2L2660.6,375.0L2661.2,369.4L2661.7,384.6L2662.3,372.9L2662.9,379.8L2663.4,369.3L2664.0,374.5L2664.6,376.9L2665.2,377.8L2665.7,371.3L2666.3,376.1L2666.9,372.5L2667.4,375.0L2668.0,369.7L2668.6,379.5L2669.1,366.0L2669.7,370.7L2670.3,370.9L2670.9,373.2L2671.4,373.0L2672.0,377.3L2672.6,382.2L2673.1,376.5L2673.7,360.8L2674.3,376.2L2674.8,374.2L2675.4,380.0L2676.0,359.9L2676.5,375.7L2677.1,371.2L2677.7,368.4L2678.3,370.9L2678.8,378.8L2679.4,365.5L2680.0,374.8L2680.5,371.5L2681.1,381.0L2681.7,369.4L2682.2,379.2L2682.8,384.0L2683.4,364.2L2684.0,372.4L2684.5,365.9L2685.1,382.8L2685.7,380.1L2686.2,372.1L2686.8,371.4L2687.4,373.8L2688.0,379.8L2688.5,382.2L2689.1,379.4L2689.7,365.4L2690.2,380.4L2690.8,368.8L2691.4,375.4L2691.9,370.3L2692.5,381.5L2693.1,362.3L2693.7,374.2L2694.2,367.9L2694.8,374.5L2695.4,376.6L2695.9,379.9L2696.5,376.6L2697.1,373.4L2697.6,370.8L2698.2,377.0L2698.8,371.9L2699.4,377.8L2699.9,367.9L2700.5,378.7L2701.1,367.9L2701.6,373.4L2702.2,370.4L2702.8,364.5L2703.3,367.3L2703.9,374.6L2704.5,379.9L2705.0,386.3L2705.6,379.9L2706.2,376.5L2706.8,366.9L2707.3,368.4L2707.9,382.2L2708.5,377.6L2709.0,371.2L2709.6,376.2L2710.2,366.9L2710.8,371.8L2711.3,360.8L2711.9,383.6L2712.5,370.5L2713.0,379.4L2713.6,379.7L2714.2,377.5L2714.7,371.9L2715.3,376.5L2715.9,372.8L2716.5,383.6L2717.0,369.0L2717.6,378.7L2718.2,380.7L2718.7,382.5L2719.3,372.7L2719.9,373.3L2720.4,368.5L2721.0,384.3L2721.6,367.1L2722.2,377.5L2722.7,362.2L2723.3,379.3L2723.9,360.9L2724.4,370.3L2725.0,363.4L2725.6,386.1L2726.1,372.6L2726.7,374.4L2727.3,361.2L2727.9,375.4L2728.4,369.4L2729.0,370.5L2729.6,367.9L2730.1,378.8L2730.7,365.7L2731.3,362.7L2731.8,366.1L2732.4,374.0L2733.0,372.0L2733.5,373.6L2734.1,378.7L2734.7,374.0L2735.3,367.6L2735.8,377.9L2736.4,360.1L2737.0,375.6L2737.5,370.8L2738.1,378.3L2738.7,365.8L2739.2,376.0L2739.8,371.0L2740.4,375.4L2741.0,367.2L2741.5,376.3L2742.1,369.6L2742.7,378.0L2743.2,373.4L2743.8,374.9L2744.4,367.3L2745.0,376.0L2745.5,371.7L2746.1,384.6L2746.7,369.9L2747.2,373.8L2747.8,368.3L2748.4,376.1L2748.9,377.0L2749.5,367.0L2750.1,372.2L2750.7,378.1L2751.2,369.9L2751.8,372.6L2752.4,378.0L2752.9,375.3L2753.5,367.7L2754.1,387.1L2754.6,372.9L2755.2,373.3L2755.8,369.1L2756.4,377.2L2756.9,369.8L2757.5,378.7L2758.1,377.7L2758.6,362.9L2759.2,370.2L2759.8,378.2L2760.3,368.2L2760.9,374.0L2761.5,374.4L2762.0,377.3L2762.6,367.8L2763.2,357.7L2763.8,371.3L2764.3,357.1L2764.9,370.2L2765.5,375.2L2766.0,375.5L2766.6,378.4L2767.2,370.0L2767.8,357.2L2768.3,372.9L2768.9,377.5L2769.5,366.9L2770.0,379.8L2770.6,368.1L2771.2,379.4L2771.7,369.2L2772.3,377.3L2772.9,366.9L2773.5,380.2L2774.0,366.6L2774.6,369.0L2775.2,366.4L2775.7,381.5L2776.3,376.8L2776.9,375.4L2777.4,366.1L2778.0,383.9L2778.6,368.9L2779.2,372.8L2779.7,369.7L2780.3,375.1L2780.9,368.9L2781.4,385.0L2782.0,371.7L2782.6,374.7L2783.1,379.1L2783.7,371.8L2784.3,369.9L2784.9,374.1L2785.4,368.4L2786.0,379.3L2786.6,371.9L2787.1,375.3L2787.7,371.4L2788.3,381.6L2788.8,373.5L2789.4,367.7L2790.0,367.6L2790.5,377.3L2791.1,365.9L2791.7,374.3L2792.3,363.6L2792.8,381.7L2793.4,366.1L2794.0,371.1L2794.5,365.8L2795.1,376.3L2795.7,366.4L2796.2,378.0L2796.8,371.0L2797.4,374.2L2798.0,374.6L2798.5,378.5L2799.1,382.6L2799.7,371.6L2800.2,376.2L2800.8,372.1L2801.4,365.8L2802.0,371.6L2802.5,375.9L2803.1,382.3L2803.7,368.0L2804.2,373.9L2804.8,365.4L2805.4,384.7L2805.9,375.6L2806.5,370.8L2807.1,373.2L2807.7,372.3L2808.2,365.3L2808.8,374.1L2809.4,376.9L2809.9,377.0L2810.5,370.1L2811.1,375.7L2811.6,366.7L2812.2,377.7L2812.8,367.2L2813.4,380.4L2813.9,359.4L2814.5,378.3L2815.1,369.0L2815.6,373.2L2816.2,366.1L2816.8,370.0L2817.3,369.0L2817.9,379.6L2818.5,369.5L2819.0,375.5L2819.6,370.8L2820.2,383.6L2820.8,368.2L2821.3,378.2L2821.9,371.2L2822.5,368.2L2823.0,368.1L2823.6,379.5L2824.2,368.0L2824.8,379.9L2825.3,369.7L2825.9,364.8L2826.5,372.9L2827.0,374.2L2827.6,377.2L2828.2,369.6L2828.7,370.8L2829.3,377.0L2829.9,370.0L2830.5,370.6L2831.0,369.8L2831.6,381.4L2832.2,376.1L2832.7,376.5L2833.3,372.1L2833.9,357.7L2834.4,378.8L2835.0,376.9L2835.6,370.8L2836.2,381.5L2836.7,374.8L2837.3,373.8L2837.9,363.1L2838.4,376.4L2839.0,372.7L2839.6,376.8L2840.1,369.4L2840.7,375.7L2841.3,369.1L2841.9,381.3L2842.4,371.9L2843.0,372.2L2843.6,368.9L2844.1,369.4L2844.7,366.4L2845.3,377.8L2845.8,367.4L2846.4,378.9L2847.0,368.5L2847.5,375.4L2848.1,371.1L2848.7,372.3L2849.3,372.1L2849.8,378.8L2850.4,373.0L2851.0,368.1L2851.5,361.3L2852.1,388.3L2852.7,373.4L2853.2,376.0L2853.8,378.0L2854.4,371.1L2855.0,372.8L2855.5,375.7L2856.1,378.1L2856.7,376.5L2857.2,367.2L2857.8,375.7L2858.4,363.2L2859.0,379.4L2859.5,368.5L2860.1,371.3L2860.7,379.2L2861.2,388.2L2861.8,365.3L2862.4,384.6L2862.9,371.2L2863.5,376.1L2864.1,371.4L2864.7,368.8L2865.2,376.2L2865.8,375.3L2866.4,369.3L2866.9,377.1L2867.5,367.7L2868.1,388.1L2868.6,372.6L2869.2,376.7L2869.8,373.4L2870.4,376.0L2870.9,368.3L2871.5,379.6L2872.1,370.9L2872.6,380.2L2873.2,363.8L2873.8,372.1L2874.3,368.5L2874.9,376.3L2875.5,370.7L2876.0,376.1L2876.6,375.4L2877.2,387.8L2877.8,369.5L2878.3,380.0L2878.9,369.5L2879.5,380.7L2880.0,372.1L2880.6,377.0L2881.2,360.6L2881.8,388.0L2882.3,368.0L2882.9,375.6L2883.5,372.4L2884.0,379.6L2884.6,364.7L2885.2,370.1L2885.7,363.5L2886.3,368.6L2886.9,371.1L2887.5,379.5L2888.0,378.8L2888.6,375.7L2889.2,370.9L2889.7,365.4L2890.3,371.9L2890.9,372.8L2891.4,372.4L2892.0,373.1L2892.6,369.0L2893.2,366.8L2893.7,375.5L2894.3,378.0L2894.9,369.5L2895.4,363.0L2896.0,378.1L2896.6,373.4L2897.1,371.6L2897.7,373.4L2898.3,365.5L2898.9,370.3L2899.4,376.6L2900.0,378.6L2900.6,363.2L2901.1,376.6L2901.7,364.7L2902.3,377.4L2902.8,366.6L2903.4,377.2L2904.0,370.5L2904.5,376.8L2905.1,367.9L2905.7,372.5L2906.3,369.1L2906.8,374.8L2907.4,376.4L2908.0,369.7L2908.5,369.0L2909.1,363.2L2909.7,371.8L2910.2,373.8L2910.8,370.8L2911.4,366.9L2912.0,367.1L2912.5,367.1L2913.1,376.9L2913.7,375.3L2914.2,377.4L2914.8,382.4L2915.4,382.9L2916.0,373.5L2916.5,371.8L2917.1,373.1L2917.7,369.9L2918.2,380.1L2918.8,367.3L2919.4,370.7L2919.9,371.7L2920.5,377.8L2921.1,374.5L2921.7,382.9L2922.2,380.2L2922.8,377.5L2923.4,362.8L2923.9,373.2L2924.5,372.3L2925.1,371.7L2925.6,378.3L2926.2,376.2L2926.8,378.2L2927.4,376.0L2927.9,376.6L2928.5,374.5L2929.1,370.1L2929.6,375.4L2930.2,364.4L2930.8,367.5L2931.3,370.6L2931.9,378.0L2932.5,371.6L2933.0,370.0L2933.6,367.3L2934.2,378.8L2934.8,371.3L2935.3,380.2L2935.9,371.7L2936.5,384.8L2937.0,369.1L2937.6,378.1L2938.2,367.4L2938.8,365.7L2939.3,372.8L2939.9,367.7L2940.5,367.0L2941.0,378.6L2941.6,370.8L2942.2,365.0L2942.7,366.6L2943.3,369.2L2943.9,364.3L2944.5,376.4L2945.0,365.4L2945.6,371.5L2946.2,358.6L2946.7,377.8L2947.3,375.1L2947.9,375.5L2948.4,366.8L2949.0,367.2L2949.6,369.4L2950.2,372.8L2950.7,368.7L2951.3,386.2L2951.9,360.9L2952.4,371.9L2953.0,382.6L2953.6,375.0L2954.1,367.0L2954.7,373.7L2955.3,365.9L2955.9,367.0L2956.4,367.5L2957.0,380.2L2957.6,361.3L2958.1,378.9L2958.7,363.8L2959.3,373.8L2959.8,363.6L2960.4,376.2L2961.0,379.8L2961.5,378.1L2962.1,368.8L2962.7,368.7L2963.3,364.2L2963.8,378.8L2964.4,368.7L2965.0,371.7L2965.5,369.4L2966.1,378.2L2966.7,371.7L2967.2,375.4L2967.8,366.1L2968.4,370.9L2969.0,373.0L2969.5,379.1L2970.1,370.5L2970.7,379.4L2971.2,370.3L2971.8,376.8L2972.4,370.4L2973.0,378.5L2973.5,367.9L2974.1,378.9L2974.7,371.3L2975.2,371.4L2975.8,368.6L2976.4,370.4L2976.9,375.1L2977.5,377.3L2978.1,371.3L2978.7,377.1L2979.2,365.7L2979.8,375.6L2980.4,371.0L2980.9,374.4L2981.5,373.2L2982.1,373.3L2982.6,358.9L2983.2,381.6L2983.8,368.5L2984.4,373.2L2984.9,372.0L2985.5,381.7L2986.1,368.2L2986.6,372.3L2987.2,373.6L2987.8,370.6L2988.3,369.0L2988.9,376.8L2989.5,368.2L2990.0,378.2L2990.6,383.0L2991.2,377.5L2991.8,367.2L2992.3,377.3L2992.9,368.0L2993.5,378.2L2994.0,372.8L2994.6,377.8L2995.2,371.6L2995.8,374.0L2996.3,373.7L2996.9,376.0L2997.5,366.8L2998.0,378.9L2998.6,366.8L2999.2,374.7L2999.7,377.3L3000.3,381.4L3000.9,372.9L3001.5,379.5L3002.0,374.9L3002.6,374.7L3003.2,367.2L3003.7,378.8L3004.3,368.7L3004.9,371.2L3005.4,374.2L3006.0,382.5L3006.6,369.8L3007.2,378.3L3007.7,370.4L3008.3,378.8L3008.9,372.9L3009.4,376.3L3010.0,371.6L3010.6,383.4L3011.1,378.6L3011.7,377.1L3012.3,366.8L3012.9,372.1L3013.4,372.7L3014.0,374.4L3014.6,370.1L3015.1,374.5L3015.7,376.6L3016.3,376.0L3016.8,367.2L3017.4,377.8L3018.0,370.3L3018.5,375.0L3019.1,374.3L3019.7,377.8L3020.3,369.7L3020.8,378.0L3021.4,373.5L3022.0,377.4L3022.5,372.3L3023.1,374.5L3023.7,370.1L3024.2,380.5L3024.8,369.4L3025.4,366.1L3026.0,372.0L3026.5,374.1L3027.1,368.3L3027.7,378.5L3028.2,367.9L3028.8,369.3L3029.4,360.7L3030.0,378.3L3030.5,367.0L3031.1,369.7L3031.7,372.2L3032.2,372.2L3032.8,372.6L3033.4,371.6L3033.9,369.2L3034.5,377.0L3035.1,371.1L3035.7,375.6L3036.2,372.8L3036.8,373.9L3037.4,369.8L3037.9,373.5L3038.5,364.8L3039.1,375.7L3039.6,372.3L3040.2,386.8L3040.8,369.1L3041.4,374.7L3041.9,379.0L3042.5,377.1L3043.1,373.7L3043.6,378.4L3044.2,370.6L3044.8,376.5L3045.3,371.0L3045.9,374.1L3046.5,371.5L3047.0,368.5L3047.6,377.5L3048.2,373.4L3048.8,371.0L3049.3,386.8L3049.9,366.1L3050.5,370.4L3051.0,365.2L3051.6,380.3L3052.2,369.1L3052.8,372.3L3053.3,378.1L3053.9,373.4L3054.5,367.6L3055.0,372.6L3055.6,372.2L3056.2,377.7L3056.7,366.2L3057.3,379.9L3057.9,367.4L3058.5,367.9L3059.0,382.2L3059.6,374.0L3060.2,370.7L3060.7,375.3L3061.3,371.8L3061.9,373.4L3062.4,368.0L3063.0,377.3L3063.6,371.7L3064.2,370.5L3064.7,366.3L3065.3,377.5L3065.9,372.2L3066.4,375.9L3067.0,367.4L3067.6,359.4L3068.1,365.5L3068.7,374.4L3069.3,366.8L3069.9,379.3L3070.4,369.2L3071.0,373.0L3071.6,372.7L3072.1,382.7L3072.7,378.0L3073.3,381.7L3073.8,367.4L3074.4,379.4L3075.0,371.5L3075.5,365.4L3076.1,363.0L3076.7,368.3L3077.3,375.2L3077.8,365.7L3078.4,382.0L3079.0,385.8L3079.5,371.5L3080.1,377.4L3080.7,368.4L3081.2,376.3L3081.8,367.8L3082.4,368.2L3083.0,371.6L3083.5,386.5L3084.1,371.8L3084.7,375.4L3085.2,369.8L3085.8,381.6L3086.4,377.9L3087.0,373.7L3087.5,380.1L3088.1,378.6L3088.7,367.6L3089.2,374.9L3089.8,369.5L3090.4,371.6L3090.9,372.0L3091.5,378.1L3092.1,378.0L3092.7,373.4L3093.2,372.3L3093.8,378.8L3094.4,386.5L3094.9,373.7L3095.5,376.7L3096.1,374.7L3096.6,373.8L3097.2,381.2L3097.8,366.5L3098.4,376.8L3098.9,365.4L3099.5,374.3L3100.1,369.6L3100.6,373.1L3101.2,366.3L3101.8,366.8L3102.3,371.4L3102.9,366.7L3103.5,362.0L3104.0,383.1L3104.6,370.5L3105.2,375.1L3105.8,365.3L3106.3,374.5L3106.9,369.7L3107.5,378.3L3108.0,375.6L3108.6,367.6L3109.2,372.2L3109.8,380.5L3110.3,371.1L3110.9,368.6L3111.5,364.7L3112.0,364.0L3112.6,370.8L3113.2,375.1L3113.7,372.6L3114.3,382.1L3114.9,368.6L3115.5,377.1L3116.0,370.3L3116.6,386.3L3117.2,369.2L3117.7,373.7L3118.3,365.6L3118.9,375.3L3119.4,371.0L3120.0,373.6L3120.6,375.6L3121.2,375.1L3121.7,370.3L3122.3,380.0L3122.9,379.4L3123.4,377.2L3124.0,377.5L3124.6,373.2L3125.1,359.8L3125.7,378.5L3126.3,384.0L3126.9,376.2L3127.4,371.7L3128.0,375.0L3128.6,369.3L3129.1,376.9L3129.7,367.9L3130.3,379.9L3130.8,375.2L3131.4,375.7L3132.0,368.9L3132.5,373.0L3133.1,374.4L3133.7,368.8L3134.3,368.6L3134.8,374.5L3135.4,367.4L3136.0,368.8L3136.5,368.9L3137.1,375.4L3137.7,370.7L3138.2,373.9L3138.8,367.9L3139.4,376.7L3140.0,377.7L3140.5,373.9L3141.1,371.4L3141.7,368.5L3142.2,366.2L3142.8,375.5L3143.4,365.2L3144.0,377.1L3144.5,369.1L3145.1,374.5L3145.7,375.7L3146.2,383.1L3146.8,380.7L3147.4,380.4L3147.9,372.7L3148.5,374.8L3149.1,370.2L3149.7,376.6L3150.2,365.8L3150.8,369.2L3151.4,369.6L3151.9,373.4L3152.5,371.0L3153.1,375.8L3153.6,361.6L3154.2,378.4L3154.8,369.0L3155.4,386.1L3155.9,371.0L3156.5,373.6L3157.1,366.7L3157.6,376.8L3158.2,377.4L3158.8,368.0L3159.3,375.1L3159.9,373.0L3160.5,368.1L3161.0,370.6L3161.6,370.7L3162.2,378.9L3162.8,368.5L3163.3,375.3L3163.9,363.8L3164.5,377.6L3165.0,369.0L3165.6,378.2L3166.2,371.7L3166.8,368.0L3167.3,372.5L3167.9,376.8L3168.5,367.2L3169.0,370.1L3169.6,374.4L3170.2,375.9L3170.7,362.8L3171.3,377.8L3171.9,372.1L3172.5,374.6L3173.0,368.7L3173.6,370.6L3174.2,362.0L3174.7,376.9L3175.3,371.9L3175.9,374.9L3176.4,377.9L3177.0,372.9L3177.6,370.4L3178.2,374.9L3178.7,388.8L3179.3,383.3L3179.9,378.9L3180.4,374.1L3181.0,371.2L3181.6,365.6L3182.1,371.6L3182.7,368.0L3183.3,368.6L3183.9,378.3L3184.4,367.4L3185.0,387.6L3185.6,379.4L3186.1,364.0L3186.7,354.7L3187.3,373.2L3187.8,349.8L3188.4,352.2L3189.0,367.7L3189.5,380.5L3190.1,374.0L3190.7,364.3L3191.3,363.6L3191.8,379.3L3192.4,370.5L3193.0,375.4L3193.5,361.0L3194.1,374.9L3194.7,362.6L3195.2,385.2L3195.8,366.1L3196.4,375.5L3197.0,372.9L3197.5,370.0L3198.1,366.6L3198.7,381.3L3199.2,378.4L3199.8,358.7L3200.4,371.8L3201.0,379.3L3201.5,360.4L3202.1,378.9L3202.7,370.8L3203.2,378.3L3203.8,368.6L3204.4,385.7L3204.9,384.8L3205.5,381.1L3206.1,368.4L3206.7,368.8L3207.2,365.7L3207.8,376.0L3208.4,365.1L3208.9,386.0L3209.5,371.0L3210.1,382.3L3210.6,380.1L3211.2,379.1L3211.8,372.8L3212.4,380.8L3212.9,368.8L3213.5,373.4L3214.1,372.5L3214.6,372.9L3215.2,357.4L3215.8,379.3L3216.3,378.2L3216.9,378.8L3217.5,366.2L3218.0,386.1L3218.6,366.5L3219.2,353.7L3219.8,370.2L3220.3,391.7L3220.9,372.0L3221.5,379.0L3222.0,362.0L3222.6,371.0L3223.2,347.2L3223.8,347.2L3224.3,368.8L3224.9,380.1L3225.5,365.3L3226.0,384.5L3226.6,362.3L3227.2,381.4L3227.7,355.7L3228.3,371.6L3228.9,368.4L3229.5,365.8L3230.0,370.4L3230.6,385.1L3231.2,365.1L3231.7,382.4L3232.3,371.9L3232.9,382.1L3233.4,366.7L3234.0,375.0L3234.6,370.4L3235.2,380.8L3235.7,366.4L3236.3,392.6L3236.9,367.4L3237.4,374.5L3238.0,368.3L3238.6,369.4L3239.1,369.9L3239.7,374.9L3240.3,381.8L3240.9,381.3L3241.4,377.8L3242.0,358.1L3242.6,372.2L3243.1,382.0L3243.7,373.7L3244.3,383.8L3244.8,369.4L3245.4,373.6L3246.0,375.9L3246.5,378.3L3247.1,373.6L3247.7,384.2L3248.3,373.1L3248.8,370.2L3249.4,370.6L3250.0,366.7L3250.5,373.0L3251.1,369.6L3251.7,369.3L3252.2,365.6L3252.8,367.0L3253.4,380.1L3254.0,377.0L3254.5,373.4L3255.1,366.6L3255.7,368.7L3256.2,378.3L3256.8,367.0L3257.4,369.4L3258.0,367.5L3258.5,371.5L3259.1,373.1L3259.7,375.7L3260.2,379.3L3260.8,375.1L3261.4,373.8L3261.9,364.2L3262.5,365.0L3263.1,377.7L3263.7,384.2L3264.2,365.5L3264.8,381.9L3265.4,373.0L3265.9,378.5L3266.5,368.3L3267.1,367.6L3267.6,372.9L3268.2,374.1L3268.8,367.8L3269.4,374.1L3269.9,375.6L3270.5,373.8L3271.1,366.2L3271.6,374.9L3272.2,369.5L3272.8,386.2L3273.3,370.2L3273.9,368.6L3274.5,371.7L3275.0,374.8L3275.6,380.4L3276.2,375.9L3276.8,372.5L3277.3,378.3L3277.9,374.6L3278.5,375.5L3279.0,371.5L3279.6,375.5L3280.2,374.6L3280.8,378.4L3281.3,371.5L3281.9,374.5L3282.5,363.7L3283.0,377.5L3283.6,371.9L3284.2,377.1L3284.7,372.1L3285.3,373.1L3285.9,368.7L3286.5,377.3L3287.0,370.6L3287.6,366.6L3288.2,375.0L3288.7,367.7L3289.3,367.4L3289.9,381.4L3290.4,377.1L3291.0,381.1L3291.6,368.0L3292.2,375.7L3292.7,379.4L3293.3,379.5L3293.9,373.1L3294.4,378.6L3295.0,373.8L3295.6,375.6L3296.1,371.2L3296.7,375.7L3297.3,368.6L3297.9,369.1L3298.4,366.2L3299.0,375.1L3299.6,369.9L3300.1,375.8L3300.7,371.2L3301.3,381.6L3301.8,369.5L3302.4,366.8L3303.0,372.7L3303.5,373.0L3304.1,366.3L3304.7,378.8L3305.3,371.5L3305.8,376.7L3306.4,377.7L3307.0,380.1L3307.5,369.0L3308.1,378.4L3308.7,369.7L3309.2,367.3L3309.8,374.3L3310.4,377.6L3311.0,366.9L3311.5,364.7L3312.1,378.5L3312.7,371.8L3313.2,369.1L3313.8,374.2L3314.4,372.4L3315.0,373.4L3315.5,372.7L3316.1,373.2L3316.7,376.6L3317.2,367.6L3317.8,371.8L3318.4,377.6L3318.9,371.1L3319.5,375.3L3320.1,371.2L3320.7,371.0L3321.2,369.9L3321.8,374.2L3322.4,381.9L3322.9,378.5L3323.5,372.4L3324.1,378.5L3324.6,370.6L3325.2,377.7L3325.8,371.0L3326.4,377.0L3326.9,372.0L3327.5,367.4L3328.1,362.5L3328.6,381.4L3329.2,370.0L3329.8,368.9L3330.3,369.2L3330.9,378.4L3331.5,373.4L3332.0,378.2L3332.6,369.1L3333.2,379.7L3333.8,372.7L3334.3,370.0L3334.9,371.8L3335.5,381.1L3336.0,376.3L3336.6,375.7L3337.2,371.1L3337.8,375.7L3338.3,374.0L3338.9,377.8L3339.5,374.6L3340.0,373.9L3340.6,369.1L3341.2,374.2L3341.7,376.3L3342.3,380.9L3342.9,378.9L3343.5,380.0L3344.0,372.6L3344.6,376.2L3345.2,368.6L3345.7,376.9L3346.3,374.7L3346.9,379.7L3347.4,368.5L3348.0,377.0L3348.6,368.7L3349.2,379.6L3349.7,369.9L3350.3,374.4L3350.9,369.7L3351.4,373.4L3352.0,371.9L3352.6,376.5L3353.1,370.5L3353.7,373.1L3354.3,369.1L3354.9,377.1L3355.4,371.5L3356.0,372.2L3356.6,365.3L3357.1,373.8L3357.7,365.1L3358.3,376.7L3358.8,372.6L3359.4,366.9L3360.0,371.7L3360.5,376.6L3361.1,374.0L3361.7,375.0L3362.3,377.5L3362.8,370.2L3363.4,370.8L3364.0,370.4L3364.5,374.2L3365.1,374.0L3365.7,369.1L3366.2,373.2L3366.8,368.8L3367.4,377.7L3368.0,378.2L3368.5,374.7L3369.1,370.7L3369.7,374.4L3370.2,377.0L3370.8,373.3L3371.4,377.2L3372.0,376.7L3372.5,370.7L3373.1,378.3L3373.7,367.2L3374.2,375.3L3374.8,370.2L3375.4,378.3L3375.9,369.9L3376.5,375.8L3377.1,371.9L3377.7,372.2L3378.2,370.5L3378.8,373.2L3379.4,368.6L3379.9,365.1L3380.5,372.3L3381.1,374.4L3381.6,371.4L3382.2,375.2L3382.8,371.4L3383.4,381.0L3383.9,368.9L3384.5,374.6L3385.1,370.7L3385.6,377.0L3386.2,374.8L3386.8,374.6L3387.3,370.6L3387.9,377.0L3388.5,373.7L3389.0,371.0L3389.6,371.4L3390.2,363.2L3390.8,371.9L3391.3,376.0L3391.9,377.0L3392.5,366.6L3393.0,382.8L3393.6,375.8L3394.2,371.2L3394.8,376.7L3395.3,364.9L3395.9,371.5L3396.5,369.4L3397.0,371.6L3397.6,374.5L3398.2,377.3L3398.7,370.8L3399.3,375.1L3399.9,367.4L3400.5,367.9L3401.0,371.1L3401.6,375.4L3402.2,373.0L3402.7,371.8L3403.3,374.2L3403.9,370.3L3404.4,370.1L3405.0,368.8L3405.6,370.9L3406.2,370.1L3406.7,372.4L3407.3,375.2L3407.9,377.4L3408.4,377.7L3409.0,367.5L3409.6,376.4L3410.1,372.5L3410.7,376.2L3411.3,373.3L3411.9,375.5L3412.4,375.7L3413.0,372.2L3413.6,365.9L3414.1,368.4L3414.7,369.4L3415.3,382.6L3415.8,372.7L3416.4,379.2L3417.0,373.0L3417.5,369.5L3418.1,370.1L3418.7,369.6L3419.3,374.3L3419.8,374.8L3420.4,373.9L3421.0,377.0L3421.5,375.5L3422.1,376.3L3422.7,374.2L3423.2,379.9L3423.8,374.7L3424.4,373.1L3425.0,371.0L3425.5,373.9L3426.1,371.8L3426.7,375.3L3427.2,370.1L3427.8,365.9L3428.4,371.7L3429.0,375.5L3429.5,368.7L3430.1,373.8L3430.7,366.3L3431.2,376.8L3431.8,367.4L3432.4,372.7L3432.9,371.8L3433.5,374.8L3434.1,372.0L3434.7,371.0L3435.2,369.2L3435.8,368.6L3436.4,373.0L3436.9,374.8L3437.5,378.1L3438.1,372.6L3438.6,371.3L3439.2,370.0L3439.8,370.2L3440.4,380.8L3440.9,369.4L3441.5,375.8L3442.1,376.5L3442.6,379.6L3443.2,372.6L3443.8,375.5L3444.3,376.3L3444.9,375.8L3445.5,371.6L3446.0,373.6L3446.6,369.5L3447.2,378.6L3447.8,382.2L3448.3,379.9L3448.9,368.0L3449.5,373.9L3450.0,374.9L3450.6,374.0L3451.2,370.3L3451.8,377.2L3452.3,371.9L3452.9,374.1L3453.5,371.1L3454.0,376.8L3454.6,370.6L3455.2,377.7L3455.7,364.0L3456.3,382.1L3456.9,381.2L3457.5,378.2L3458.0,365.9L3458.6,374.4L3459.2,367.8L3459.7,373.5L3460.3,368.2L3460.9,375.9L3461.4,377.5L3462.0,374.3L3462.6,372.3L3463.2,377.2L3463.7,368.9L3464.3,376.0L3464.9,371.8L3465.4,373.6L3466.0,367.7L3466.6,372.4L3467.1,364.4L3467.7,375.2L3468.3,372.4L3468.9,375.3L3469.4,369.8L3470.0,379.8L3470.6,369.2L3471.1,378.8L3471.7,372.4L3472.3,373.7L3472.8,372.4L3473.4,377.2L3474.0,369.5L3474.5,372.3L3475.1,379.4L3475.7,376.0L3476.3,365.9L3476.8,376.3L3477.4,372.9L3478.0,373.5L3478.5,379.2L3479.1,381.8L3479.7,364.3L3480.2,372.0L3480.8,370.1L3481.4,375.9L3482.0,370.6L3482.5,375.3L3483.1,371.6L3483.7,375.6L3484.2,364.3L3484.8,375.6L3485.4,370.3L3486.0,370.6L3486.5,372.0L3487.1,377.7L3487.7,369.0L3488.2,374.5L3488.8,369.7L3489.4,372.5L3489.9,373.4L3490.5,373.8L3491.1,374.7L3491.7,376.5L3492.2,376.2L3492.8,368.4L3493.4,367.8L3493.9,371.1L3494.5,375.9L3495.1,373.7L3495.6,370.7L3496.2,368.0L3496.8,371.5L3497.4,379.3L3497.9,371.6L3498.5,377.3L3499.1,376.4L3499.6,377.7L3500.2,370.7L3500.8,372.8L3501.3,377.7L3501.9,374.6L3502.5,371.9L3503.0,374.7L3503.6,370.1L3504.2,370.7L3504.8,373.0L3505.3,373.4L3505.9,377.2L3506.5,376.0L3507.0,372.2L3507.6,380.0L3508.2,368.3L3508.8,375.2L3509.3,369.8L3509.9,379.7L3510.5,377.8L3511.0,367.4L3511.6,368.3L3512.2,375.8L3512.7,371.7L3513.3,374.1L3513.9,371.2L3514.5,373.2L3515.0,370.9L3515.6,376.4L3516.2,372.0L3516.7,366.6L3517.3,376.0L3517.9,374.4L3518.4,369.6L3519.0,376.6L3519.6,373.1L3520.2,373.5L3520.7,372.6L3521.3,370.1L3521.9,371.6L3522.4,374.8L3523.0,370.4L3523.6,371.6L3524.1,374.6L3524.7,372.9L3525.3,376.9L3525.9,377.4L3526.4,374.4L3527.0,367.9L3527.6,375.7L3528.1,375.1L3528.7,371.2L3529.3,373.0L3529.8,372.1L3530.4,375.8L3531.0,376.5L3531.5,373.0L3532.1,368.7L3532.7,373.2L3533.3,376.5L3533.8,371.1L3534.4,374.4L3535.0,378.4L3535.5,380.5L3536.1,375.9L3536.7,375.0L3537.2,376.9L3537.8,365.4L3538.4,376.1L3539.0,371.8L3539.5,368.5L3540.1,370.9L3540.7,379.1L3541.2,372.1L3541.8,374.3L3542.4,373.0L3543.0,371.5L3543.5,371.4L3544.1,376.0L3544.7,372.3L3545.2,376.0L3545.8,370.6L3546.4,377.0L3546.9,366.7L3547.5,367.2L3548.1,372.8L3548.7,374.2L3549.2,372.6L3549.8,374.9L3550.4,373.0L3550.9,376.7L3551.5,370.5L3552.1,375.8L3552.6,370.2L3553.2,373.2L3553.8,366.8L3554.4,365.3L3554.9,371.8L3555.5,374.9L3556.1,373.3L3556.6,373.5" stroke="#000000" stroke-width="6.25" fill="none" stroke-linejoin="round" stroke-linecap="butt" clip-path="url(#c0)"/>
<rect x="302.5" y="82.36" width="3250.0" height="581.0" stroke="#000" stroke-width="3.333" fill="none" stroke-linejoin="miter"/>
<path d="M302.50,663.36v14.58M872.50,663.36v14.58M1442.50,663.36v14.58M2012.50,663.36v14.58M2582.50,663.36v14.58M3152.50,663.36v14.58M302.50,194.54h-14.58M302.50,373.04h-14.58M302.50,551.54h-14.58" stroke="#000" stroke-width="3.333" fill="none"/>
<text x="290.28" y="723.06" font-family="Liberation Sans, sans-serif" font-size="44.15" textLength="24.43" lengthAdjust="spacingAndGlyphs">0</text>
<text x="847.08" y="723.06" font-family="Liberation Sans, sans-serif" font-size="44.15" textLength="50.95" lengthAdjust="spacingAndGlyphs">10</text>
<text x="1416.72" y="723.06" font-family="Liberation Sans, sans-serif" font-size="44.15" textLength="51.32" lengthAdjust="spacingAndGlyphs">20</text>
<text x="1987.43" y="723.06" font-family="Liberation Sans, sans-serif" font-size="44.15" textLength="50.59" lengthAdjust="spacingAndGlyphs">30</text>
<text x="2556.97" y="723.06" font-family="Liberation Sans, sans-serif" font-size="44.15" textLength="51.06" lengthAdjust="spacingAndGlyphs">40</text>
<text x="3127.38" y="723.06" font-family="Liberation Sans, sans-serif" font-size="44.15" textLength="50.64" lengthAdjust="spacingAndGlyphs">50</text>
<text x="207.00" y="208.94" font-family="Liberation Sans, sans-serif" font-size="44.15" textLength="63.42" lengthAdjust="spacingAndGlyphs">0.2</text>
<text x="206.97" y="387.44" font-family="Liberation Sans, sans-serif" font-size="44.15" textLength="64.37" lengthAdjust="spacingAndGlyphs">0.0</text>
<rect x="175.54" y="551.15" width="26.08" height="3.46" fill="#000"/>
<text x="207.00" y="565.94" font-family="Liberation Sans, sans-serif" font-size="44.15" textLength="63.42" lengthAdjust="spacingAndGlyphs">0.2</text>
<text x="1806.36" y="793.86" font-family="Liberation Sans, sans-serif" font-size="61.81" textLength="239.68" lengthAdjust="spacingAndGlyphs">Time (s)</text>
<g transform="translate(142.9,372.86) rotate(-90)"><text x="-307.95" y="0.00" font-family="Liberation Sans, sans-serif" font-size="61.81" textLength="615.29" lengthAdjust="spacingAndGlyphs">Acceleration (cm/s/s)</text></g>
<path d="M302.50,856.36V1438.36M872.50,856.36V1438.36M1442.50,856.36V1438.36M2012.50,856.36V1438.36M2582.50,856.36V1438.36M3152.50,856.36V1438.36M302.50,999.50H3552.50M302.50,1147.50H3552.50M302.50,1295.50H3552.50" stroke="#b0b0b0" stroke-width="3.333" fill="none" stroke-linecap="butt"/>
<path d="M302.5,1193.1L303.1,1167.8L303.6,1224.0L304.2,1137.4L304.8,1160.2L305.4,1282.3L305.9,1116.6L306.5,1214.3L307.1,1133.5L307.6,1209.1L308.2,1070.4L308.8,1178.8L309.3,1149.7L309.9,1019.4L310.5,1180.0L311.1,1212.5L311.6,1155.8L312.2,1225.6L312.8,1190.0L313.3,1261.4L313.9,1254.1L314.5,1219.8L315.0,1206.8L315.6,1178.7L316.2,1195.8L316.8,1240.1L317.3,1262.6L317.9,1292.4L318.5,1220.9L319.0,1151.1L319.6,1164.8L320.2,1214.2L320.7,1120.1L321.3,1148.9L321.9,1064.1L322.4,1116.6L323.0,1107.6L323.6,1101.2L324.2,933.0L324.7,1161.1L325.3,1181.3L325.9,1199.6L326.4,1081.0L327.0,1182.8L327.6,1111.2L328.1,1247.3L328.7,1207.5L329.3,1148.7L329.9,1120.1L330.4,1225.8L331.0,1153.8L331.6,1201.3L332.1,1154.9L332.7,1225.0L333.3,1138.9L333.9,1188.8L334.4,1061.0L335.0,1226.3L335.6,1108.5L336.1,1166.2L336.7,1100.7L337.3,1144.6L337.8,1174.6L338.4,1159.3L339.0,1108.8L339.6,1201.0L340.1,1054.8L340.7,1086.3L341.3,1121.4L341.8,1175.9L342.4,1079.3L343.0,1169.6L343.5,1098.8L344.1,1082.0L344.7,1159.2L345.2,1118.5L345.8,1279.8L346.4,1282.5L347.0,1153.9L347.5,1160.8L348.1,1106.7L348.7,1151.8L349.2,1193.3L349.8,1240.5L350.4,987.1L350.9,1165.9L351.5,1101.5L352.1,1179.3L352.7,1074.0L353.2,1147.4L353.8,1049.9L354.4,1065.0L354.9,1062.0L355.5,1109.5L356.1,1077.2L356.6,1035.5L357.2,1091.6L357.8,1100.4L358.4,1039.7L358.9,1077.0L359.5,957.9L360.1,1071.6L360.6,924.2L361.2,1130.5L361.8,1120.8L362.4,1106.2L362.9,1083.0L363.5,1087.5L364.1,1298.2L364.6,1138.9L365.2,1120.1L365.8,1115.4L366.3,1091.0L366.9,1136.3L367.5,1094.9L368.1,1091.5L368.6,1055.4L369.2,1078.0L369.8,1050.2L370.3,874.2L370.9,987.2L371.5,1124.9L372.0,1183.4L372.6,1141.1L373.2,1151.2L373.8,1185.3L374.3,1116.9L374.9,1127.7L375.5,1010.3L376.0,1041.5L376.6,1003.9L377.2,1167.4L377.7,1152.8L378.3,1134.0L378.9,1090.3L379.4,1131.6L380.0,1102.7L380.6,1183.2L381.2,1163.0L381.7,1191.8L382.3,954.2L382.9,1292.4L383.4,1209.1L384.0,1242.0L384.6,1104.6L385.1,1151.7L385.7,1177.2L386.3,1265.4L386.9,1071.5L387.4,1159.3L388.0,1415.5L388.6,1230.2L389.1,1245.2L389.7,1255.1L390.3,1137.9L390.9,1118.2L391.4,1326.2L392.0,1150.3L392.6,1125.3L393.1,1104.7L393.7,1103.6L394.3,963.3L394.8,1240.3L395.4,1208.2L396.0,1065.6L396.6,1168.8L397.1,1153.2L397.7,1101.3L398.3,1139.3L398.8,1236.5L399.4,1162.1L400.0,1247.1L400.5,1321.1L401.1,1174.9L401.7,1153.0L402.2,1178.7L402.8,1105.3L403.4,1161.0L404.0,1146.9L404.5,1349.6L405.1,1119.6L405.7,1170.7L406.2,1108.4L406.8,1100.8L407.4,1062.9L407.9,1144.5L408.5,1117.8L409.1,1125.2L409.7,1145.1L410.2,1136.8L410.8,1135.8L411.4,1063.9L411.9,1142.9L412.5,1041.4L413.1,1132.2L413.6,1164.6L414.2,1202.6L414.8,1241.2L415.4,1166.0L415.9,1170.1L416.5,1085.4L417.1,1252.4L417.6,1138.3L418.2,1172.4L418.8,1079.2L419.4,1109.7L419.9,1080.4L420.5,1085.9L421.1,989.1L421.6,1167.9L422.2,1093.4L422.8,1185.4L423.3,1334.3L423.9,1086.3L424.5,1100.6L425.1,1177.3L425.6,1108.4L426.2,1164.0L426.8,1172.8L427.3,1214.2L427.9,1253.4L428.5,1155.8L429.0,1117.8L429.6,1153.0L430.2,1172.4L430.8,1172.7L431.3,1146.3L431.9,1115.2L432.5,1095.4L433.0,1256.2L433.6,1173.5L434.2,1240.1L434.7,1059.9L435.3,1220.3L435.9,1118.5L436.5,1202.9L437.0,1100.7L437.6,1178.0L438.2,1071.9L438.7,1167.4L439.3,1101.7L439.9,1134.3L440.4,1073.9L441.0,1140.8L441.6,1094.7L442.1,1148.5L442.7,1156.8L443.3,1257.8L443.9,1050.9L444.4,1131.4L445.0,1156.7L445.6,1174.5L446.1,1186.8L446.7,1203.5L447.3,1090.4L447.9,1164.6L448.4,1148.2L449.0,1111.2L449.6,1273.1L450.1,1266.7L450.7,1175.0L451.3,1125.5L451.8,1112.6L452.4,1208.7L453.0,1098.2L453.5,1203.0L454.1,1157.9L454.7,1230.4L455.3,1161.8L455.8,1119.9L456.4,1115.1L457.0,1130.2L457.5,946.5L458.1,1269.2L458.7,1058.7L459.2,1246.7L459.8,1111.8L460.4,1004.8L461.0,1035.0L461.5,1103.0L462.1,1041.3L462.7,1097.3L463.2,958.9L463.8,1086.8L464.4,1084.7L465.0,1224.4L465.5,1189.5L466.1,1199.6L466.7,1119.5L467.2,1096.3L467.8,1102.1L468.4,1044.6L468.9,1041.6L469.5,1146.8L470.1,948.0L470.6,1113.9L471.2,1018.5L471.8,1091.2L472.4,1080.8L472.9,1144.3L473.5,1081.5L474.1,1121.6L474.6,1130.4L475.2,1207.6L475.8,1121.3L476.4,1142.2L476.9,1067.5L477.5,1109.7L478.1,1046.6L478.6,1105.3L479.2,1103.0L479.8,992.8L480.3,1132.9L480.9,1165.5L481.5,1159.5L482.0,1241.0L482.6,1125.7L483.2,1289.5L483.8,1151.7L484.3,1171.7L484.9,1123.0L485.5,1157.0L486.0,1107.7L486.6,1140.1L487.2,1209.6L487.8,1177.3L488.3,1271.1L488.9,1171.9L489.5,1111.7L490.0,1155.5L490.6,1082.6L491.2,1130.9L491.7,1075.0L492.3,1135.1L492.9,1109.8L493.5,1120.8L494.0,1136.2L494.6,1176.3L495.2,1207.9L495.7,1103.4L496.3,1201.0L496.9,1276.4L497.4,1025.6L498.0,1160.2L498.6,1050.7L499.1,1195.0L499.7,1005.3L500.3,1157.8L500.9,1112.5L501.4,1171.2L502.0,1132.7L502.6,1154.7L503.1,1136.5L503.7,1189.5L504.3,1116.5L504.9,1176.4L505.4,1125.2L506.0,1147.0L506.6,1125.1L507.1,1138.4L507.7,1139.5L508.3,1108.8L508.8,1232.0L509.4,1128.2L510.0,1106.5L510.5,1166.0L511.1,1152.6L511.7,1154.6L512.3,1119.1L512.8,1129.0L513.4,1151.8L514.0,1127.6L514.5,1170.2L515.1,1177.6L515.7,1166.6L516.2,1197.4L516.8,1177.9L517.4,1194.0L518.0,1166.8L518.5,1185.1L519.1,1128.7L519.7,1196.7L520.2,1163.0L520.8,1217.8L521.4,1121.1L522.0,1147.1L522.5,1185.8L523.1,1159.7L523.7,1138.0L524.2,1183.6L524.8,1121.3L525.4,1156.2L525.9,1156.8L526.5,1154.9L527.1,1126.4L527.6,1181.0L528.2,1169.2L528.8,1130.5L529.4,1134.8L529.9,1128.3L530.5,1153.0L531.1,1140.0L531.6,1141.2L532.2,1184.1L532.8,1150.3L533.4,1158.6L533.9,1210.0L534.5,1161.6L535.1,1149.0L535.6,1162.5L536.2,1145.8L536.8,1150.4L537.3,1149.9L537.9,1128.4L538.5,1197.4L539.0,1181.3L539.6,1110.9L540.2,1183.6L540.8,1051.3L541.3,1119.9L541.9,1048.6L542.5,1135.4L543.0,981.9L543.6,1164.1L544.2,1106.3L544.8,1216.0L545.3,1119.7L545.9,1113.8L546.5,1136.4L547.0,1202.2L547.6,1114.6L548.2,1152.0L548.7,1107.6L549.3,1143.5L549.9,1113.5L550.5,1117.1L551.0,1213.9L551.6,1118.6L552.2,1113.9L552.7,1062.3L553.3,1115.9L553.9,1183.4L554.4,1119.0L555.0,1163.0L555.6,1105.4L556.1,1137.0L556.7,1052.1L557.3,1151.8L557.9,1105.1L558.4,1129.0L559.0,1115.8L559.6,1221.5L560.1,1112.9L560.7,1125.7L561.3,1096.6L561.8,1113.9L562.4,1131.4L563.0,1076.6L563.6,1113.5L564.1,1139.4L564.7,1044.1L565.3,1071.7L565.8,1111.8L566.4,1114.2L567.0,1105.0L567.5,1116.7L568.1,1003.7L568.7,1139.2L569.3,1108.1L569.8,1068.5L570.4,1071.9L571.0,1130.4L571.5,1100.5L572.1,1130.5L572.7,1095.0L573.2,1158.8L573.8,1130.2L574.4,1126.3L575.0,1071.6L575.5,1107.7L576.1,1104.1L576.7,1125.0L577.2,1045.6L577.8,1091.0L578.4,1108.7L579.0,1110.4L579.5,1102.7L580.1,1107.7L580.7,1114.5L581.2,1139.0L581.8,1123.4L582.4,1108.6L582.9,1074.5L583.5,1072.3L584.1,1130.3L584.7,1164.4L585.2,1089.4L585.8,1133.3L586.4,1084.0L586.9,1167.4L587.5,1106.4L588.1,1143.6L588.6,1105.4L589.2,1175.4L589.8,1216.8L590.3,1126.9L590.9,1114.8L591.5,1168.9L592.1,1113.3L592.6,1099.8L593.2,1100.4L593.8,1113.2L594.3,1100.5L594.9,1103.6L595.5,1080.8L596.0,1135.9L596.6,1093.0L597.2,1168.1L597.8,1141.2L598.3,1146.8L598.9,1090.7L599.5,1115.2L600.0,1117.6L600.6,1234.2L601.2,1121.7L601.8,1143.7L602.3,1079.9L602.9,1127.6L603.5,1126.5L604.0,1137.8L604.6,1067.1L605.2,1120.0L605.7,1093.5L606.3,1090.2L606.9,1070.9L607.5,1053.6L608.0,1109.5L608.6,1092.6L609.2,1097.2L609.7,1127.4L610.3,1068.3L610.9,1083.2L611.4,1014.7L612.0,1126.8L612.6,1010.5L613.2,1141.3L613.7,1101.3L614.3,1124.4L614.9,1092.0L615.4,1086.9L616.0,1134.8L616.6,1156.2L617.1,1127.0L617.7,1182.5L618.3,1201.4L618.8,1100.1L619.4,1063.4L620.0,1166.8L620.6,1254.4L621.1,1154.9L621.7,1118.3L622.3,1160.4L622.8,1132.8L623.4,1032.9L624.0,1112.2L624.5,1196.8L625.1,1134.4L625.7,1153.6L626.3,1219.2L626.8,1178.9L627.4,1194.9L628.0,1195.4L628.5,1148.4L629.1,1175.9L629.7,1245.5L630.2,1106.6L630.8,1106.2L631.4,1123.8L632.0,1083.8L632.5,1109.4L633.1,1085.8L633.7,1138.6L634.2,1113.9L634.8,1248.9L635.4,1100.0L636.0,1138.5L636.5,1107.2L637.1,1084.5L637.7,1115.5L638.2,1129.9L638.8,1067.5L639.4,1086.6L639.9,1098.0L640.5,1142.3L641.1,1078.5L641.7,1140.4L642.2,1097.9L642.8,1148.1L643.4,1079.3L643.9,1105.1L644.5,1127.5L645.1,1132.4L645.6,1100.9L646.2,1125.2L646.8,997.7L647.3,1069.0L647.9,1065.0L648.5,1082.3L649.1,1086.8L649.6,1101.9L650.2,1090.5L650.8,1129.9L651.3,1033.9L651.9,1163.0L652.5,1083.3L653.0,1123.6L653.6,1049.4L654.2,1117.3L654.8,1102.0L655.3,1096.3L655.9,1135.0L656.5,1235.5L657.0,1205.4L657.6,1142.6L658.2,1084.6L658.8,1079.8L659.3,1088.2L659.9,1122.2L660.5,1113.6L661.0,1190.8L661.6,1127.2L662.2,1115.9L662.7,1051.4L663.3,1116.6L663.9,996.7L664.5,1117.2L665.0,1060.1L665.6,1131.8L666.2,1122.0L666.7,1120.5L667.3,1103.9L667.9,1171.0L668.4,1116.2L669.0,1126.4L669.6,1133.7L670.2,1132.2L670.7,1106.4L671.3,1134.8L671.9,1153.6L672.4,1086.6L673.0,1104.6L673.6,1082.8L674.1,1132.3L674.7,1087.5L675.3,1073.3L675.8,1112.2L676.4,1096.3L677.0,1139.9L677.6,1127.3L678.1,1140.5L678.7,1116.7L679.3,1130.0L679.8,1009.9L680.4,1142.9L681.0,1002.9L681.5,1140.0L682.1,1050.1L682.7,1109.3L683.3,1072.3L683.8,1067.6L684.4,1045.7L685.0,1074.3L685.5,1050.9L686.1,1126.6L686.7,1007.3L687.2,1138.8L687.8,1082.2L688.4,1098.5L689.0,1098.0L689.5,1131.9L690.1,1094.2L690.7,1233.4L691.2,1108.1L691.8,1165.5L692.4,1029.9L693.0,1127.6L693.5,1108.0L694.1,1150.8L694.7,1096.1L695.2,1024.8L695.8,1126.0L696.4,1219.2L696.9,1127.5L697.5,1201.7L698.1,1080.2L698.7,1138.6L699.2,1077.5L699.8,1138.1L700.4,1157.2L700.9,1130.8L701.5,1179.3L702.1,1141.0L702.6,1092.5L703.2,1106.1L703.8,1152.5L704.3,1196.3L704.9,1161.8L705.5,1160.7L706.1,1166.2L706.6,1180.3L707.2,1139.6L707.8,1157.7L708.3,1123.2L708.9,1139.1L709.5,1100.9L710.0,1217.3L710.6,1112.1L711.2,1149.8L711.8,1118.0L712.3,1029.4L712.9,1040.2L713.5,1127.1L714.0,1092.8L714.6,1145.3L715.2,1142.7L715.8,1171.8L716.3,1099.4L716.9,1142.6L717.5,1119.5L718.0,1131.9L718.6,1123.7L719.2,1190.3L719.7,1166.1L720.3,1164.0L720.9,1184.4L721.5,1134.4L722.0,1188.4L722.6,1205.3L723.2,1174.9L723.7,1195.2L724.3,1187.7L724.9,1180.1L725.4,1172.7L726.0,1198.2L726.6,1157.4L727.2,1173.0L727.7,1166.9L728.3,1202.4L728.9,1167.1L729.4,1217.0L730.0,1173.7L730.6,1141.8L731.1,1135.6L731.7,1154.4L732.3,1121.2L732.8,1161.8L733.4,1116.9L734.0,1124.3L734.6,1124.1L735.1,1121.3L735.7,1117.1L736.3,1133.3L736.8,1118.5L737.4,1169.4L738.0,1117.5L738.5,1101.7L739.1,1095.8L739.7,1155.8L740.3,1085.5L740.8,1130.3L741.4,1132.6L742.0,1182.9L742.5,1137.5L743.1,1124.0L743.7,1115.7L744.2,1079.1L744.8,1146.2L745.4,1175.5L746.0,1103.4L746.5,1183.9L747.1,1174.0L747.7,1192.2L748.2,1209.3L748.8,1141.0L749.4,1115.1L750.0,1161.2L750.5,1117.1L751.1,1171.8L751.7,1112.7L752.2,1148.9L752.8,1114.9L753.4,1084.2L753.9,1085.9L754.5,1178.1L755.1,1171.2L755.7,1190.7L756.2,1131.0L756.8,1152.7L757.4,1132.6L757.9,1153.3L758.5,1150.8L759.1,1164.9L759.6,1132.5L760.2,1171.2L760.8,1146.2L761.4,1159.4L761.9,1142.2L762.5,1137.8L763.1,1063.6L763.6,1269.4L764.2,1113.0L764.8,1149.9L765.3,1131.3L765.9,1165.8L766.5,1139.0L767.0,1157.7L767.6,1132.7L768.2,1232.0L768.8,1186.8L769.3,1191.8L769.9,1253.1L770.5,1183.0L771.0,1209.1L771.6,1202.1L772.2,1172.4L772.8,1172.4L773.3,1128.2L773.9,1135.5L774.5,1117.6L775.0,1159.3L775.6,1151.5L776.2,1155.5L776.7,1144.2L777.3,1185.8L777.9,1186.1L778.5,1182.6L779.0,1100.8L779.6,1187.7L780.2,1059.7L780.7,1191.6L781.3,1205.0L781.9,1292.0L782.4,1177.6L783.0,1202.1L783.6,1187.5L784.1,1217.8L784.7,1174.5L785.3,1218.4L785.9,1213.0L786.4,1271.4L787.0,1189.0L787.6,1232.8L788.1,1158.8L788.7,1193.3L789.3,1191.0L789.9,1197.5L790.4,1186.8L791.0,1238.0L791.6,1220.6L792.1,1225.8L792.7,1191.6L793.3,1215.1L793.8,1224.0L794.4,1192.4L795.0,1159.1L795.5,1194.9L796.1,1190.9L796.7,1187.1L797.3,1172.9L797.8,1192.6L798.4,1135.4L799.0,1190.5L799.5,1146.5L800.1,1189.1L800.7,1105.8L801.2,1172.9L801.8,1166.2L802.4,1109.2L803.0,1256.4L803.5,1226.9L804.1,1120.6L804.7,1188.2L805.2,1152.8L805.8,1197.8L806.4,1187.8L807.0,1223.3L807.5,1139.3L808.1,1190.1L808.7,1096.3L809.2,1240.5L809.8,1184.1L810.4,1187.3L810.9,1182.4L811.5,1148.5L812.1,1184.4L812.7,1198.9L813.2,1158.9L813.8,1215.0L814.4,1169.0L814.9,1185.9L815.5,1156.9L816.1,1162.7L816.6,1140.0L817.2,1170.9L817.8,1120.6L818.4,1180.4L818.9,1131.5L819.5,1169.5L820.1,1128.7L820.6,1082.4L821.2,1137.2L821.8,1207.8L822.3,1145.6L822.9,1168.3L823.5,1153.2L824.1,1217.1L824.6,1273.7L825.2,1200.5L825.8,1166.7L826.3,1163.3L826.9,1142.8L827.5,1185.9L828.0,1143.3L828.6,1165.9L829.2,1094.3L829.8,1139.8L830.3,1149.9L830.9,1178.6L831.5,1174.7L832.0,1191.9L832.6,1158.3L833.2,1183.2L833.7,1169.7L834.3,1186.3L834.9,1158.9L835.4,1181.4L836.0,1205.4L836.6,1199.7L837.2,1117.0L837.7,1186.5L838.3,1160.1L838.9,1181.0L839.4,1201.7L840.0,1167.1L840.6,1135.2L841.2,1180.7L841.7,1164.4L842.3,1189.0L842.9,1181.7L843.4,1193.1L844.0,1169.0L844.6,1184.7L845.1,1201.9L845.7,1204.9L846.3,1195.4L846.9,1198.4L847.4,1126.4L848.0,1217.7L848.6,1188.5L849.1,1183.1L849.7,1142.8L850.3,1144.8L850.8,1142.2L851.4,1166.7L852.0,1163.4L852.6,1208.9L853.1,1154.8L853.7,1226.0L854.3,1169.4L854.8,1182.6L855.4,1130.3L856.0,1161.0L856.5,1156.7L857.1,1180.9L857.7,1159.2L858.2,1213.0L858.8,1221.2L859.4,1222.9L860.0,1117.9L860.5,1212.0L861.1,1160.6L861.7,1188.6L862.2,1152.9L862.8,1203.1L863.4,1165.8L863.9,1172.8L864.5,1166.5L865.1,1165.5L865.7,1231.9L866.2,1180.9L866.8,1159.3L867.4,1194.4L867.9,1142.9L868.5,1163.9L869.1,1150.4L869.7,1178.0L870.2,1150.1L870.8,1151.4L871.4,1140.4L871.9,1198.6L872.5,1130.7L873.1,1130.3L873.6,1155.7L874.2,1166.0L874.8,1164.2L875.4,1219.0L875.9,1155.7L876.5,1175.5L877.1,1149.6L877.6,1180.6L878.2,1179.0L878.8,1176.6L879.3,1169.0L879.9,1222.1L880.5,1159.5L881.1,1181.7L881.6,1187.5L882.2,1189.7L882.8,1165.2L883.3,1182.0L883.9,1164.6L884.5,1185.6L885.0,1155.8L885.6,1167.7L886.2,1168.0L886.8,1199.1L887.3,1169.0L887.9,1207.5L888.5,1120.8L889.0,1196.4L889.6,1171.5L890.2,1184.0L890.7,1185.4L891.3,1163.1L891.9,1179.0L892.4,1152.4L893.0,1179.7L893.6,1185.2L894.2,1164.2L894.7,1169.5L895.3,1168.7L895.9,1192.9L896.4,1154.4L897.0,1199.4L897.6,1179.9L898.2,1171.3L898.7,1113.6L899.3,1161.7L899.9,1178.3L900.4,1173.2L901.0,1186.9L901.6,1195.9L902.1,1196.7L902.7,1182.1L903.3,1195.1L903.9,1185.0L904.4,1212.6L905.0,1180.1L905.6,1181.5L906.1,1148.9L906.7,1171.2L907.3,1186.6L907.8,1183.0L908.4,1212.6L909.0,1200.1L909.6,1204.0L910.1,1220.1L910.7,1208.5L911.3,1167.1L911.8,1183.9L912.4,1177.5L913.0,1184.9L913.5,1181.6L914.1,1166.9L914.7,1174.3L915.2,1176.6L915.8,1209.2L916.4,1178.8L917.0,1184.1L917.5,1181.4L918.1,1199.2L918.7,1194.1L919.2,1198.6L919.8,1192.4L920.4,1213.2L920.9,1200.8L921.5,1190.0L922.1,1210.2L922.7,1225.8L923.2,1202.5L923.8,1216.3L924.4,1214.9L924.9,1222.9L925.5,1204.3L926.1,1212.7L926.7,1213.7L927.2,1175.9L927.8,1214.4L928.4,1198.2L928.9,1190.5L929.5,1190.6L930.1,1188.5L930.6,1189.8L931.2,1219.3L931.8,1223.4L932.4,1203.2L932.9,1213.8L933.5,1218.0L934.1,1232.3L934.6,1225.1L935.2,1211.2L935.8,1222.8L936.3,1218.1L936.9,1232.0L937.5,1212.7L938.1,1183.0L938.6,1190.7L939.2,1195.6L939.8,1182.2L940.3,1175.9L940.9,1203.5L941.5,1209.7L942.0,1197.1L942.6,1205.8L943.2,1201.8L943.8,1221.3L944.3,1223.9L944.9,1242.6L945.5,1253.6L946.0,1227.4L946.6,1236.8L947.2,1242.9L947.7,1227.0L948.3,1232.1L948.9,1219.3L949.4,1211.8L950.0,1212.3L950.6,1180.2L951.2,1196.7L951.7,1189.0L952.3,1208.9L952.9,1223.2L953.4,1231.6L954.0,1219.6L954.6,1210.2L955.2,1220.6L955.7,1214.5L956.3,1223.7L956.9,1220.2L957.4,1219.1L958.0,1243.4L958.6,1223.1L959.1,1219.6L959.7,1218.4L960.3,1210.4L960.9,1196.9L961.4,1217.7L962.0,1201.8L962.6,1178.0L963.1,1211.0L963.7,1190.1L964.3,1198.2L964.8,1204.0L965.4,1225.2L966.0,1263.4L966.6,1222.5L967.1,1227.7L967.7,1224.3L968.3,1189.4L968.8,1199.4L969.4,1199.9L970.0,1206.3L970.5,1231.7L971.1,1195.8L971.7,1196.6L972.2,1192.7L972.8,1186.1L973.4,1192.4L974.0,1192.9L974.5,1177.0L975.1,1162.0L975.7,1161.5L976.2,1193.3L976.8,1196.1L977.4,1198.8L977.9,1211.8L978.5,1173.5L979.1,1156.0L979.7,1187.3L980.2,1192.1L980.8,1198.3L981.4,1206.7L981.9,1217.4L982.5,1211.7L983.1,1193.2L983.7,1191.9L984.2,1204.3L984.8,1208.5L985.4,1194.5L985.9,1182.4L986.5,1159.1L987.1,1175.4L987.6,1197.9L988.2,1185.6L988.8,1196.6L989.4,1180.8L989.9,1185.5L990.5,1165.2L991.1,1153.5L991.6,1163.7L992.2,1177.6L992.8,1173.4L993.3,1146.2L993.9,1159.7L994.5,1157.5L995.1,1162.8L995.6,1184.7L996.2,1176.3L996.8,1186.3L997.3,1217.9L997.9,1201.9L998.5,1189.6L999.0,1143.0L999.6,1171.5L1000.2,1167.9L1000.8,1181.3L1001.3,1172.2L1001.9,1157.5L1002.5,1162.8L1003.0,1159.7L1003.6,1134.8L1004.2,1146.2L1004.7,1157.9L1005.3,1154.8L1005.9,1200.2L1006.4,1184.8L1007.0,1191.9L1007.6,1186.1L1008.2,1183.2L1008.7,1174.0L1009.3,1143.8L1009.9,1118.6L1010.4,1164.1L1011.0,1162.1L1011.6,1151.2L1012.2,1142.8L1012.7,1163.9L1013.3,1156.7L1013.9,1143.5L1014.4,1172.5L1015.0,1147.2L1015.6,1144.6L1016.1,1141.3L1016.7,1155.6L1017.3,1167.9L1017.9,1139.6L1018.4,1148.8L1019.0,1131.2L1019.6,1125.8L1020.1,1143.8L1020.7,1131.6L1021.3,1114.4L1021.8,1100.8L1022.4,1130.7L1023.0,1107.1L1023.6,1096.2L1024.1,1085.8L1024.7,1115.8L1025.3,1125.3L1025.8,1124.1L1026.4,1128.7L1027.0,1118.9L1027.5,1140.6L1028.1,1143.8L1028.7,1142.9L1029.2,1129.3L1029.8,1115.4L1030.4,1101.0L1031.0,1121.0L1031.5,1090.9L1032.1,1101.2L1032.7,1111.3L1033.2,1111.4L1033.8,1113.9L1034.4,1092.1L1034.9,1115.5L1035.5,1112.2L1036.1,1098.0L1036.7,1077.7L1037.2,1081.1L1037.8,1080.6L1038.4,1090.5L1038.9,1114.3L1039.5,1103.0L1040.1,1092.4L1040.7,1086.4L1041.2,1068.9L1041.8,1083.8L1042.4,1075.4L1042.9,1141.2L1043.5,1060.4L1044.1,1100.3L1044.6,1118.1L1045.2,1105.8L1045.8,1089.0L1046.3,1096.5L1046.9,1095.6L1047.5,1018.1L1048.1,1075.0L1048.6,1071.0L1049.2,1053.6L1049.8,1061.4L1050.3,1068.1L1050.9,1074.1L1051.5,1085.3L1052.1,1072.4L1052.6,1088.8L1053.2,1088.3L1053.8,1061.8L1054.3,1092.5L1054.9,1075.7L1055.5,1069.0L1056.0,1080.7L1056.6,1081.6L1057.2,1058.2L1057.8,1071.9L1058.3,1069.4L1058.9,1072.8L1059.5,1015.4L1060.0,1036.6L1060.6,1061.1L1061.2,1017.8L1061.7,1025.0L1062.3,1031.3L1062.9,1030.0L1063.4,994.2L1064.0,1040.1L1064.6,1046.3L1065.2,1051.5L1065.7,1024.7L1066.3,1032.4L1066.9,1031.9L1067.4,1050.0L1068.0,1047.6L1068.6,1069.2L1069.2,1051.4L1069.7,1043.2L1070.3,1008.1L1070.9,1029.0L1071.4,987.5L1072.0,980.5L1072.6,998.5L1073.1,980.7L1073.7,976.9L1074.3,970.3L1074.8,998.3L1075.4,977.8L1076.0,989.8L1076.6,995.1L1077.1,1007.1L1077.7,986.2L1078.3,1001.8L1078.8,1004.1L1079.4,1007.0L1080.0,1004.4L1080.6,1011.8L1081.1,1005.4L1081.7,1009.8L1082.3,992.0L1082.8,990.4L1083.4,994.8L1084.0,995.1L1084.5,1006.8L1085.1,1017.1L1085.7,989.8L1086.2,978.1L1086.8,942.9L1087.4,977.6L1088.0,974.8L1088.5,961.6L1089.1,945.3L1089.7,956.6L1090.2,981.6L1090.8,945.7L1091.4,974.4L1091.9,996.9L1092.5,982.4L1093.1,971.8L1093.7,1007.2L1094.2,1004.9L1094.8,1008.5L1095.4,1011.2L1095.9,984.8L1096.5,1018.9L1097.1,1020.2L1097.7,1012.8L1098.2,1023.5L1098.8,1031.7L1099.4,1041.6L1099.9,1008.2L1100.5,1026.8L1101.1,1023.2L1101.6,1038.2L1102.2,1029.9L1102.8,1037.7L1103.3,1020.9L1103.9,1032.9L1104.5,1073.2L1105.1,1049.2L1105.6,1078.7L1106.2,1063.4L1106.8,1062.7L1107.3,1036.6L1107.9,1057.2L1108.5,1024.8L1109.1,1003.5L1109.6,996.4L1110.2,1002.4L1110.8,1020.4L1111.3,1038.8L1111.9,1049.2L1112.5,1062.4L1113.0,1073.9L1113.6,1025.3L1114.2,1006.6L1114.8,1021.0L1115.3,1038.2L1115.9,1057.7L1116.5,1064.6L1117.0,1104.3L1117.6,1086.9L1118.2,1086.7L1118.7,1064.9L1119.3,1070.6L1119.9,1099.6L1120.4,1083.5L1121.0,1092.9L1121.6,1093.7L1122.2,1090.6L1122.7,1106.9L1123.3,1094.5L1123.9,1110.2L1124.4,1084.0L1125.0,1091.8L1125.6,1088.4L1126.2,1085.9L1126.7,1103.7L1127.3,1107.7L1127.9,1084.2L1128.4,1085.2L1129.0,1056.8L1129.6,1076.9L1130.1,1062.3L1130.7,1079.8L1131.3,1068.4L1131.8,1064.4L1132.4,1076.9L1133.0,1057.3L1133.6,1069.1L1134.1,1094.4L1134.7,1088.4L1135.3,1107.9L1135.8,1134.2L1136.4,1122.6L1137.0,1136.9L1137.6,1137.0L1138.1,1104.3L1138.7,1131.0L1139.3,1115.6L1139.8,1114.8L1140.4,1093.7L1141.0,1085.6L1141.5,1077.1L1142.1,1077.8L1142.7,1102.6L1143.2,1108.5L1143.8,1117.6L1144.4,1156.8L1145.0,1122.6L1145.5,1120.7L1146.1,1109.0L1146.7,1121.5L1147.2,1101.5L1147.8,1131.3L1148.4,1150.2L1148.9,1129.1L1149.5,1117.7L1150.1,1149.4L1150.7,1139.1L1151.2,1121.8L1151.8,1134.6L1152.4,1150.1L1152.9,1149.4L1153.5,1129.0L1154.1,1126.5L1154.7,1132.0L1155.2,1145.0L1155.8,1147.3L1156.4,1116.3L1156.9,1153.4L1157.5,1149.8L1158.1,1171.4L1158.6,1162.2L1159.2,1154.9L1159.8,1172.5L1160.3,1180.1L1160.9,1177.0L1161.5,1156.7L1162.1,1155.5L1162.6,1152.7L1163.2,1157.3L1163.8,1153.7L1164.3,1162.3L1164.9,1160.3L1165.5,1148.3L1166.1,1152.3L1166.6,1154.2L1167.2,1169.6L1167.8,1164.4L1168.3,1160.9L1168.9,1176.1L1169.5,1184.4L1170.0,1179.3L1170.6,1175.8L1171.2,1170.8L1171.8,1171.4L1172.3,1197.8L1172.9,1193.0L1173.5,1192.3L1174.0,1191.1L1174.6,1174.6L1175.2,1176.1L1175.7,1161.9L1176.3,1170.3L1176.9,1185.8L1177.4,1184.9L1178.0,1203.2L1178.6,1194.0L1179.2,1186.4L1179.7,1186.8L1180.3,1192.1L1180.9,1182.3L1181.4,1188.4L1182.0,1178.3L1182.6,1179.3L1183.2,1181.0L1183.7,1171.1L1184.3,1189.4L1184.9,1182.3L1185.4,1168.3L1186.0,1179.6L1186.6,1140.2L1187.1,1178.0L1187.7,1180.0L1188.3,1173.0L1188.8,1183.8L1189.4,1169.2L1190.0,1203.7L1190.6,1206.2L1191.1,1214.1L1191.7,1187.1L1192.3,1196.9L1192.8,1204.8L1193.4,1203.9L1194.0,1207.3L1194.6,1178.8L1195.1,1186.5L1195.7,1167.7L1196.3,1171.2L1196.8,1168.4L1197.4,1186.0L1198.0,1170.5L1198.5,1170.8L1199.1,1144.5L1199.7,1143.1L1200.2,1152.5L1200.8,1173.7L1201.4,1173.1L1202.0,1162.7L1202.5,1183.7L1203.1,1199.8L1203.7,1199.1L1204.2,1200.3L1204.8,1208.4L1205.4,1187.4L1205.9,1188.2L1206.5,1217.0L1207.1,1202.3L1207.7,1190.0L1208.2,1206.1L1208.8,1182.3L1209.4,1198.9L1209.9,1200.9L1210.5,1213.6L1211.1,1189.8L1211.7,1179.9L1212.2,1176.0L1212.8,1199.0L1213.4,1187.5L1213.9,1194.4L1214.5,1178.2L1215.1,1183.4L1215.6,1210.4L1216.2,1178.8L1216.8,1176.9L1217.3,1177.6L1217.9,1193.8L1218.5,1198.5L1219.1,1184.4L1219.6,1202.5L1220.2,1181.3L1220.8,1171.2L1221.3,1206.0L1221.9,1191.9L1222.5,1188.5L1223.0,1199.4L1223.6,1194.0L1224.2,1190.4L1224.8,1184.0L1225.3,1202.7L1225.9,1194.5L1226.5,1201.3L1227.0,1200.2L1227.6,1219.6L1228.2,1205.2L1228.8,1186.3L1229.3,1202.8L1229.9,1209.5L1230.5,1177.4L1231.0,1201.6L1231.6,1227.3L1232.2,1216.3L1232.7,1203.8L1233.3,1214.6L1233.9,1205.7L1234.5,1199.5L1235.0,1188.7L1235.6,1201.3L1236.2,1180.2L1236.7,1193.8L1237.3,1198.8L1237.9,1222.4L1238.4,1231.5L1239.0,1242.3L1239.6,1201.4L1240.2,1209.3L1240.7,1205.2L1241.3,1214.8L1241.9,1199.7L1242.4,1203.3L1243.0,1189.6L1243.6,1188.9L1244.1,1190.4L1244.7,1198.7L1245.3,1183.6L1245.8,1184.2L1246.4,1179.9L1247.0,1189.6L1247.6,1170.0L1248.1,1203.2L1248.7,1199.6L1249.3,1191.1L1249.8,1187.1L1250.4,1189.9L1251.0,1189.9L1251.5,1215.6L1252.1,1234.5L1252.7,1253.9L1253.3,1250.1L1253.8,1240.8L1254.4,1234.2L1255.0,1249.5L1255.5,1243.2L1256.1,1252.6L1256.7,1254.1L1257.2,1238.6L1257.8,1228.9L1258.4,1226.5L1259.0,1225.9L1259.5,1209.4L1260.1,1206.9L1260.7,1220.6L1261.2,1220.8L1261.8,1215.6L1262.4,1210.0L1263.0,1218.8L1263.5,1206.3L1264.1,1184.5L1264.7,1196.4L1265.2,1203.0L1265.8,1219.2L1266.4,1207.6L1266.9,1213.2L1267.5,1198.2L1268.1,1213.9L1268.7,1204.8L1269.2,1197.6L1269.8,1225.7L1270.4,1212.5L1270.9,1199.6L1271.5,1209.1L1272.1,1210.2L1272.6,1226.9L1273.2,1211.2L1273.8,1215.7L1274.3,1202.0L1274.9,1200.3L1275.5,1201.5L1276.1,1182.0L1276.6,1178.4L1277.2,1193.4L1277.8,1173.3L1278.3,1184.0L1278.9,1183.3L1279.5,1194.8L1280.1,1189.5L1280.6,1200.7L1281.2,1197.8L1281.8,1174.3L1282.3,1179.5L1282.9,1193.0L1283.5,1215.0L1284.0,1199.9L1284.6,1202.8L1285.2,1210.2L1285.8,1208.1L1286.3,1205.5L1286.9,1193.1L1287.5,1214.6L1288.0,1214.3L1288.6,1207.0L1289.2,1185.7L1289.7,1193.8L1290.3,1179.7L1290.9,1167.4L1291.5,1156.8L1292.0,1195.0L1292.6,1188.6L1293.2,1200.6L1293.7,1176.1L1294.3,1181.9L1294.9,1162.7L1295.4,1149.1L1296.0,1159.8L1296.6,1174.7L1297.2,1158.3L1297.7,1163.8L1298.3,1171.2L1298.9,1179.8L1299.4,1159.6L1300.0,1153.0L1300.6,1152.0L1301.1,1154.3L1301.7,1166.3L1302.3,1179.3L1302.8,1181.9L1303.4,1174.0L1304.0,1180.8L1304.6,1177.0L1305.1,1175.9L1305.7,1163.5L1306.3,1162.3L1306.8,1177.1L1307.4,1155.1L1308.0,1164.7L1308.6,1147.3L1309.1,1165.4L1309.7,1149.7L1310.3,1141.5L1310.8,1157.6L1311.4,1142.0L1312.0,1153.0L1312.5,1153.0L1313.1,1149.5L1313.7,1135.7L1314.2,1145.1L1314.8,1152.4L1315.4,1160.9L1316.0,1135.7L1316.5,1155.1L1317.1,1190.2L1317.7,1177.3L1318.2,1173.1L1318.8,1173.8L1319.4,1172.3L1320.0,1182.2L1320.5,1172.0L1321.1,1155.7L1321.7,1152.5L1322.2,1166.6L1322.8,1145.0L1323.4,1151.2L1323.9,1126.1L1324.5,1144.2L1325.1,1156.6L1325.7,1153.2L1326.2,1156.7L1326.8,1156.7L1327.4,1149.8L1327.9,1145.4L1328.5,1090.7L1329.1,1127.6L1329.6,1133.3L1330.2,1110.5L1330.8,1139.3L1331.4,1136.8L1331.9,1120.5L1332.5,1157.9L1333.1,1149.7L1333.6,1147.1L1334.2,1146.9L1334.8,1152.2L1335.3,1152.8L1335.9,1174.8L1336.5,1170.1L1337.1,1163.3L1337.6,1168.0L1338.2,1171.9L1338.8,1166.9L1339.3,1156.4L1339.9,1144.9L1340.5,1144.4L1341.0,1136.3L1341.6,1161.7L1342.2,1162.9L1342.8,1150.6L1343.3,1130.0L1343.9,1147.0L1344.5,1168.5L1345.0,1151.1L1345.6,1144.3L1346.2,1151.4L1346.7,1119.3L1347.3,1125.0L1347.9,1152.2L1348.5,1138.1L1349.0,1152.7L1349.6,1123.0L1350.2,1134.6L1350.7,1144.5L1351.3,1150.9L1351.9,1143.4L1352.4,1162.2L1353.0,1174.0L1353.6,1159.1L1354.1,1181.6L1354.7,1197.4L1355.3,1188.5L1355.9,1184.5L1356.4,1170.5L1357.0,1161.1L1357.6,1144.7L1358.1,1134.7L1358.7,1140.8L1359.3,1148.4L1359.9,1144.5L1360.4,1134.9L1361.0,1136.2L1361.6,1140.7L1362.1,1157.7L1362.7,1129.5L1363.3,1133.7L1363.8,1151.3L1364.4,1151.3L1365.0,1167.8L1365.6,1160.5L1366.1,1165.6L1366.7,1162.0L1367.3,1174.7L1367.8,1176.0L1368.4,1178.1L1369.0,1188.0L1369.5,1198.2L1370.1,1185.2L1370.7,1177.7L1371.2,1179.8L1371.8,1146.1L1372.4,1186.1L1373.0,1178.9L1373.5,1183.1L1374.1,1186.7L1374.7,1181.1L1375.2,1181.4L1375.8,1195.3L1376.4,1176.2L1377.0,1186.1L1377.5,1190.2L1378.1,1185.7L1378.7,1174.3L1379.2,1179.7L1379.8,1187.9L1380.4,1189.6L1380.9,1179.5L1381.5,1169.4L1382.1,1170.6L1382.6,1157.1L1383.2,1159.7L1383.8,1154.7L1384.4,1167.3L1384.9,1149.7L1385.5,1145.9L1386.1,1163.9L1386.6,1187.2L1387.2,1186.9L1387.8,1211.6L1388.4,1196.8L1388.9,1198.4L1389.5,1217.2L1390.1,1237.0L1390.6,1226.5L1391.2,1239.9L1391.8,1211.8L1392.3,1203.7L1392.9,1198.8L1393.5,1192.7L1394.1,1194.6L1394.6,1194.8L1395.2,1176.7L1395.8,1190.7L1396.3,1183.6L1396.9,1198.2L1397.5,1212.5L1398.0,1218.6L1398.6,1214.1L1399.2,1220.3L1399.8,1208.7L1400.3,1218.9L1400.9,1212.4L1401.5,1204.5L1402.0,1216.8L1402.6,1220.2L1403.2,1226.8L1403.7,1216.0L1404.3,1214.7L1404.9,1217.7L1405.5,1210.8L1406.0,1201.0L1406.6,1223.3L1407.2,1236.1L1407.7,1228.3L1408.3,1238.4L1408.9,1242.4L1409.4,1233.7L1410.0,1255.2L1410.6,1249.1L1411.1,1224.2L1411.7,1211.3L1412.3,1208.3L1412.9,1219.7L1413.4,1215.0L1414.0,1206.6L1414.6,1200.1L1415.1,1209.6L1415.7,1207.6L1416.3,1200.0L1416.9,1230.1L1417.4,1226.0L1418.0,1231.0L1418.6,1214.8L1419.1,1231.1L1419.7,1235.6L1420.3,1239.0L1420.8,1253.1L1421.4,1241.1L1422.0,1208.2L1422.6,1263.7L1423.1,1264.9L1423.7,1263.4L1424.3,1264.9L1424.8,1259.2L1425.4,1239.2L1426.0,1257.2L1426.5,1242.7L1427.1,1255.6L1427.7,1230.0L1428.2,1234.8L1428.8,1230.4L1429.4,1223.7L1430.0,1242.3L1430.5,1260.5L1431.1,1242.4L1431.7,1254.8L1432.2,1273.3L1432.8,1288.4L1433.4,1268.3L1434.0,1269.0L1434.5,1276.3L1435.1,1268.7L1435.7,1272.4L1436.2,1264.2L1436.8,1275.7L1437.4,1273.1L1437.9,1250.9L1438.5,1257.8L1439.1,1270.5L1439.6,1278.2L1440.2,1281.1L1440.8,1266.4L1441.4,1276.8L1441.9,1276.0L1442.5,1277.1L1443.1,1290.5L1443.6,1279.7L1444.2,1314.2L1444.8,1256.7L1445.4,1272.6L1445.9,1273.7L1446.5,1276.1L1447.1,1262.8L1447.6,1256.9L1448.2,1241.3L1448.8,1243.1L1449.3,1254.6L1449.9,1236.6L1450.5,1225.6L1451.1,1235.7L1451.6,1242.2L1452.2,1249.3L1452.8,1245.6L1453.3,1253.6L1453.9,1239.3L1454.5,1241.9L1455.0,1230.9L1455.6,1230.5L1456.2,1236.7L1456.8,1240.3L1457.3,1225.0L1457.9,1238.4L1458.5,1228.1L1459.0,1237.8L1459.6,1239.0L1460.2,1230.0L1460.7,1240.5L1461.3,1234.0L1461.9,1244.5L1462.5,1231.8L1463.0,1241.0L1463.6,1236.5L1464.2,1243.5L1464.7,1250.9L1465.3,1243.2L1465.9,1257.7L1466.4,1255.2L1467.0,1260.4L1467.6,1236.1L1468.1,1241.0L1468.7,1222.8L1469.3,1236.6L1469.9,1241.5L1470.4,1244.5L1471.0,1230.3L1471.6,1262.3L1472.1,1259.6L1472.7,1239.9L1473.3,1223.6L1473.9,1210.7L1474.4,1208.5L1475.0,1201.0L1475.6,1196.8L1476.1,1226.1L1476.7,1233.7L1477.3,1218.2L1477.8,1217.4L1478.4,1209.4L1479.0,1196.8L1479.6,1211.2L1480.1,1198.6L1480.7,1206.6L1481.3,1186.0L1481.8,1183.5L1482.4,1193.3L1483.0,1194.1L1483.5,1188.9L1484.1,1206.7L1484.7,1198.4L1485.2,1177.5L1485.8,1172.9L1486.4,1156.8L1487.0,1174.6L1487.5,1194.5L1488.1,1181.0L1488.7,1176.1L1489.2,1175.8L1489.8,1197.4L1490.4,1189.7L1491.0,1182.3L1491.5,1171.4L1492.1,1159.7L1492.7,1173.4L1493.2,1169.7L1493.8,1168.0L1494.4,1173.6L1494.9,1162.4L1495.5,1172.1L1496.1,1181.4L1496.6,1176.4L1497.2,1173.3L1497.8,1153.2L1498.4,1138.1L1498.9,1152.9L1499.5,1164.4L1500.1,1148.7L1500.6,1135.3L1501.2,1169.8L1501.8,1140.2L1502.4,1146.0L1502.9,1151.7L1503.5,1152.6L1504.1,1170.4L1504.6,1137.1L1505.2,1143.5L1505.8,1150.0L1506.3,1149.2L1506.9,1142.7L1507.5,1126.6L1508.1,1112.1L1508.6,1108.6L1509.2,1126.7L1509.8,1113.6L1510.3,1090.4L1510.9,1097.7L1511.5,1094.2L1512.0,1107.0L1512.6,1109.5L1513.2,1105.9L1513.8,1094.0L1514.3,1094.4L1514.9,1095.5L1515.5,1094.6L1516.0,1105.1L1516.6,1115.7L1517.2,1103.0L1517.7,1098.4L1518.3,1090.9L1518.9,1095.0L1519.5,1075.1L1520.0,1073.5L1520.6,1086.1L1521.2,1085.2L1521.7,1071.8L1522.3,1075.2L1522.9,1067.8L1523.4,1053.8L1524.0,1063.2L1524.6,1066.8L1525.1,1079.9L1525.7,1074.7L1526.3,1089.9L1526.9,1068.8L1527.4,1088.6L1528.0,1063.1L1528.6,1051.5L1529.1,1056.2L1529.7,1042.4L1530.3,1055.2L1530.9,1054.5L1531.4,1056.0L1532.0,1067.7L1532.6,1061.5L1533.1,1066.5L1533.7,1048.5L1534.3,1051.1L1534.8,1048.8L1535.4,1056.4L1536.0,1047.7L1536.6,1038.6L1537.1,1043.1L1537.7,1016.5L1538.3,1020.2L1538.8,1016.4L1539.4,1029.2L1540.0,1025.1L1540.5,1028.8L1541.1,1039.8L1541.7,1035.7L1542.2,1035.7L1542.8,1047.5L1543.4,1061.4L1544.0,1047.5L1544.5,1012.3L1545.1,1043.8L1545.7,1061.0L1546.2,1060.2L1546.8,1046.2L1547.4,1051.7L1548.0,1049.5L1548.5,1047.2L1549.1,1056.9L1549.7,1053.8L1550.2,1038.4L1550.8,1019.4L1551.4,1040.4L1551.9,1030.1L1552.5,1050.9L1553.1,1048.4L1553.6,1043.7L1554.2,1040.3L1554.8,1040.6L1555.4,1050.4L1555.9,1041.0L1556.5,1033.8L1557.1,1026.3L1557.6,1039.2L1558.2,1028.5L1558.8,1045.9L1559.4,1033.8L1559.9,1035.4L1560.5,1044.9L1561.1,1035.2L1561.6,1040.3L1562.2,1032.0L1562.8,1036.1L1563.3,1051.9L1563.9,1051.8L1564.5,1040.2L1565.1,1039.7L1565.6,1023.4L1566.2,1032.7L1566.8,1043.1L1567.3,1055.5L1567.9,1037.5L1568.5,1052.1L1569.0,1056.7L1569.6,1012.1L1570.2,1037.2L1570.8,1037.4L1571.3,1046.4L1571.9,1028.0L1572.5,1031.0L1573.0,1034.8L1573.6,1035.3L1574.2,1016.4L1574.7,1012.4L1575.3,1012.9L1575.9,1030.8L1576.5,1029.7L1577.0,1026.6L1577.6,1035.0L1578.2,1021.3L1578.7,1019.9L1579.3,1028.5L1579.9,1019.7L1580.4,1031.0L1581.0,1020.1L1581.6,1018.8L1582.1,1011.2L1582.7,1008.5L1583.3,1006.6L1583.9,1004.6L1584.4,1002.1L1585.0,1019.5L1585.6,1034.0L1586.1,1033.9L1586.7,1034.4L1587.3,1021.2L1587.9,1026.5L1588.4,1027.0L1589.0,1037.4L1589.6,1018.8L1590.1,1027.9L1590.7,1027.3L1591.3,1019.4L1591.8,1012.8L1592.4,1000.5L1593.0,990.6L1593.6,993.2L1594.1,992.5L1594.7,990.4L1595.3,1007.5L1595.8,1006.9L1596.4,1003.0L1597.0,1012.4L1597.5,995.5L1598.1,995.9L1598.7,1008.5L1599.2,988.9L1599.8,998.5L1600.4,988.0L1601.0,967.7L1601.5,966.4L1602.1,985.2L1602.7,996.5L1603.2,967.7L1603.8,990.0L1604.4,996.2L1605.0,995.5L1605.5,981.2L1606.1,993.9L1606.7,1000.3L1607.2,1006.2L1607.8,1003.6L1608.4,999.9L1608.9,982.1L1609.5,987.1L1610.1,985.1L1610.6,1006.4L1611.2,973.9L1611.8,960.9L1612.4,958.2L1612.9,975.1L1613.5,975.8L1614.1,978.2L1614.6,986.2L1615.2,982.3L1615.8,980.7L1616.4,979.8L1616.9,968.1L1617.5,960.7L1618.1,966.8L1618.6,972.1L1619.2,990.5L1619.8,984.9L1620.3,977.9L1620.9,978.9L1621.5,965.2L1622.1,965.8L1622.6,965.9L1623.2,981.0L1623.8,980.6L1624.3,967.3L1624.9,985.6L1625.5,988.6L1626.0,992.4L1626.6,996.6L1627.2,988.9L1627.8,990.9L1628.3,992.2L1628.9,979.3L1629.5,975.2L1630.0,968.6L1630.6,974.9L1631.2,967.4L1631.7,974.8L1632.3,978.7L1632.9,973.3L1633.5,973.8L1634.0,961.9L1634.6,974.3L1635.2,979.9L1635.7,964.9L1636.3,960.7L1636.9,954.6L1637.4,955.3L1638.0,962.7L1638.6,970.6L1639.1,991.9L1639.7,988.0L1640.3,985.5L1640.9,960.0L1641.4,1030.7L1642.0,992.0L1642.6,990.9L1643.1,1003.4L1643.7,1003.7L1644.3,1014.9L1644.9,1021.0L1645.4,1019.1L1646.0,1009.7L1646.6,1014.7L1647.1,1022.4L1647.7,984.2L1648.3,1032.7L1648.8,1023.5L1649.4,1029.8L1650.0,1011.1L1650.6,1040.1L1651.1,1037.8L1651.7,1047.7L1652.3,1051.9L1652.8,1057.8L1653.4,1061.7L1654.0,1065.2L1654.5,1069.2L1655.1,1070.2L1655.7,1064.5L1656.2,1072.8L1656.8,1062.5L1657.4,1073.1L1658.0,1060.1L1658.5,1077.3L1659.1,1075.3L1659.7,1077.7L1660.2,1090.2L1660.8,1081.2L1661.4,1081.2L1662.0,1087.1L1662.5,1091.4L1663.1,1095.1L1663.7,1088.5L1664.2,1092.5L1664.8,1118.0L1665.4,1111.1L1665.9,1117.3L1666.5,1114.0L1667.1,1114.5L1667.6,1123.9L1668.2,1128.2L1668.8,1142.5L1669.4,1143.4L1669.9,1139.1L1670.5,1137.6L1671.1,1148.5L1671.6,1147.5L1672.2,1143.2L1672.8,1144.7L1673.4,1148.1L1673.9,1142.5L1674.5,1158.7L1675.1,1169.1L1675.6,1159.1L1676.2,1192.4L1676.8,1169.6L1677.3,1179.8L1677.9,1189.5L1678.5,1171.5L1679.1,1166.2L1679.6,1159.1L1680.2,1154.6L1680.8,1159.9L1681.3,1168.5L1681.9,1161.0L1682.5,1163.6L1683.0,1167.7L1683.6,1169.2L1684.2,1162.4L1684.8,1172.5L1685.3,1166.0L1685.9,1169.5L1686.5,1170.1L1687.0,1174.4L1687.6,1167.1L1688.2,1168.7L1688.7,1171.1L1689.3,1160.6L1689.9,1158.6L1690.5,1161.9L1691.0,1161.2L1691.6,1173.0L1692.2,1173.7L1692.7,1182.1L1693.3,1180.3L1693.9,1176.3L1694.4,1189.2L1695.0,1183.8L1695.6,1190.4L1696.1,1194.2L1696.7,1184.4L1697.3,1193.4L1697.9,1187.5L1698.4,1190.3L1699.0,1187.2L1699.6,1189.2L1700.1,1185.7L1700.7,1199.4L1701.3,1196.2L1701.9,1198.0L1702.4,1205.7L1703.0,1207.0L1703.6,1216.4L1704.1,1209.0L1704.7,1223.4L1705.3,1218.7L1705.8,1230.0L1706.4,1235.3L1707.0,1238.4L1707.6,1241.2L1708.1,1244.2L1708.7,1246.2L1709.3,1234.7L1709.8,1229.7L1710.4,1209.9L1711.0,1228.4L1711.5,1223.4L1712.1,1219.8L1712.7,1215.8L1713.2,1210.4L1713.8,1203.4L1714.4,1202.9L1715.0,1204.7L1715.5,1202.8L1716.1,1215.2L1716.7,1207.6L1717.2,1201.5L1717.8,1201.5L1718.4,1204.9L1719.0,1215.4L1719.5,1208.5L1720.1,1215.2L1720.7,1217.3L1721.2,1206.8L1721.8,1214.2L1722.4,1212.9L1722.9,1206.8L1723.5,1207.6L1724.1,1202.8L1724.6,1199.1L1725.2,1195.8L1725.8,1208.3L1726.4,1209.1L1726.9,1199.4L1727.5,1198.4L1728.1,1189.0L1728.6,1190.2L1729.2,1195.4L1729.8,1198.8L1730.4,1208.5L1730.9,1205.5L1731.5,1212.7L1732.1,1218.5L1732.6,1219.6L1733.2,1201.0L1733.8,1221.9L1734.3,1228.4L1734.9,1222.0L1735.5,1223.0L1736.1,1219.5L1736.6,1225.5L1737.2,1224.6L1737.8,1216.8L1738.3,1214.8L1738.9,1211.9L1739.5,1215.4L1740.0,1208.3L1740.6,1214.8L1741.2,1220.5L1741.8,1219.1L1742.3,1209.3L1742.9,1219.1L1743.5,1218.9L1744.0,1215.4L1744.6,1214.6L1745.2,1217.4L1745.7,1211.7L1746.3,1205.9L1746.9,1218.4L1747.5,1211.3L1748.0,1210.2L1748.6,1205.5L1749.2,1204.3L1749.7,1204.7L1750.3,1207.2L1750.9,1212.0L1751.4,1211.4L1752.0,1208.0L1752.6,1210.8L1753.1,1209.0L1753.7,1212.9L1754.3,1198.2L1754.9,1216.0L1755.4,1219.0L1756.0,1210.2L1756.6,1216.2L1757.1,1203.5L1757.7,1205.5L1758.3,1204.1L1758.9,1204.2L1759.4,1202.9L1760.0,1209.2L1760.6,1208.6L1761.1,1206.1L1761.7,1201.5L1762.3,1207.0L1762.8,1211.6L1763.4,1209.7L1764.0,1209.4L1764.6,1206.5L1765.1,1204.8L1765.7,1208.9L1766.3,1201.9L1766.8,1199.5L1767.4,1196.9L1768.0,1191.1L1768.5,1187.8L1769.1,1198.6L1769.7,1191.5L1770.2,1188.4L1770.8,1189.8L1771.4,1192.7L1772.0,1189.4L1772.5,1192.5L1773.1,1186.2L1773.7,1187.7L1774.2,1175.1L1774.8,1190.2L1775.4,1191.9L1776.0,1189.8L1776.5,1185.9L1777.1,1189.1L1777.7,1185.7L1778.2,1196.0L1778.8,1204.9L1779.4,1207.5L1779.9,1202.7L1780.5,1193.5L1781.1,1196.5L1781.6,1198.1L1782.2,1203.6L1782.8,1200.7L1783.4,1202.1L1783.9,1199.2L1784.5,1203.6L1785.1,1200.9L1785.6,1207.7L1786.2,1210.3L1786.8,1209.5L1787.4,1210.6L1787.9,1210.6L1788.5,1209.5L1789.1,1216.5L1789.6,1231.1L1790.2,1226.0L1790.8,1234.5L1791.3,1226.9L1791.9,1232.7L1792.5,1224.9L1793.1,1229.0L1793.6,1232.6L1794.2,1228.6L1794.8,1226.1L1795.3,1223.2L1795.9,1225.8L1796.5,1208.3L1797.0,1218.4L1797.6,1215.5L1798.2,1216.3L1798.8,1219.3L1799.3,1216.1L1799.9,1213.5L1800.5,1221.6L1801.0,1214.5L1801.6,1216.2L1802.2,1220.2L1802.7,1223.9L1803.3,1225.2L1803.9,1224.8L1804.5,1222.9L1805.0,1221.7L1805.6,1218.3L1806.2,1216.8L1806.7,1215.5L1807.3,1217.9L1807.9,1224.2L1808.4,1213.0L1809.0,1220.2L1809.6,1203.5L1810.1,1206.2L1810.7,1209.5L1811.3,1219.6L1811.9,1222.4L1812.4,1218.8L1813.0,1211.3L1813.6,1210.4L1814.1,1204.4L1814.7,1209.0L1815.3,1224.4L1815.9,1198.6L1816.4,1196.8L1817.0,1195.6L1817.6,1199.9L1818.1,1204.9L1818.7,1189.1L1819.3,1206.6L1819.8,1201.3L1820.4,1207.6L1821.0,1202.4L1821.6,1205.7L1822.1,1201.9L1822.7,1195.2L1823.3,1190.7L1823.8,1204.8L1824.4,1190.5L1825.0,1189.3L1825.5,1199.7L1826.1,1206.4L1826.7,1216.9L1827.2,1207.7L1827.8,1198.3L1828.4,1205.5L1829.0,1198.4L1829.5,1199.3L1830.1,1205.7L1830.7,1203.7L1831.2,1203.7L1831.8,1201.7L1832.4,1199.4L1833.0,1200.1L1833.5,1190.7L1834.1,1191.7L1834.7,1182.7L1835.2,1196.0L1835.8,1198.2L1836.4,1201.8L1836.9,1197.8L1837.5,1202.6L1838.1,1204.5L1838.6,1207.1L1839.2,1215.4L1839.8,1214.2L1840.4,1216.1L1840.9,1211.9L1841.5,1217.1L1842.1,1206.9L1842.6,1207.0L1843.2,1203.6L1843.8,1209.1L1844.4,1211.7L1844.9,1203.7L1845.5,1210.9L1846.1,1212.5L1846.6,1212.9L1847.2,1215.5L1847.8,1212.6L1848.3,1204.4L1848.9,1218.7L1849.5,1223.7L1850.1,1225.0L1850.6,1232.8L1851.2,1229.3L1851.8,1236.6L1852.3,1230.3L1852.9,1237.6L1853.5,1221.6L1854.0,1220.4L1854.6,1222.6L1855.2,1221.5L1855.8,1224.9L1856.3,1222.7L1856.9,1221.0L1857.5,1219.0L1858.0,1227.2L1858.6,1221.0L1859.2,1220.3L1859.7,1220.1L1860.3,1219.1L1860.9,1219.2L1861.5,1226.9L1862.0,1231.8L1862.6,1233.9L1863.2,1233.9L1863.7,1226.2L1864.3,1243.9L1864.9,1243.8L1865.4,1253.3L1866.0,1241.7L1866.6,1243.8L1867.1,1243.3L1867.7,1251.8L1868.3,1249.8L1868.9,1253.1L1869.4,1239.6L1870.0,1238.5L1870.6,1243.8L1871.1,1243.2L1871.7,1240.5L1872.3,1249.5L1872.9,1234.5L1873.4,1240.2L1874.0,1245.2L1874.6,1242.3L1875.1,1237.4L1875.7,1230.0L1876.3,1213.1L1876.8,1216.4L1877.4,1224.0L1878.0,1222.4L1878.6,1220.8L1879.1,1216.4L1879.7,1217.5L1880.3,1215.2L1880.8,1212.4L1881.4,1222.9L1882.0,1229.7L1882.5,1220.6L1883.1,1211.4L1883.7,1221.6L1884.2,1214.6L1884.8,1213.7L1885.4,1211.6L1886.0,1211.0L1886.5,1216.4L1887.1,1220.9L1887.7,1203.3L1888.2,1211.0L1888.8,1206.2L1889.4,1199.3L1890.0,1198.1L1890.5,1196.4L1891.1,1215.6L1891.7,1205.8L1892.2,1200.6L1892.8,1199.7L1893.4,1191.2L1893.9,1180.6L1894.5,1184.1L1895.1,1176.6L1895.6,1173.1L1896.2,1176.9L1896.8,1176.5L1897.4,1175.1L1897.9,1177.5L1898.5,1188.9L1899.1,1189.8L1899.6,1189.0L1900.2,1196.9L1900.8,1195.9L1901.4,1193.8L1901.9,1195.9L1902.5,1202.2L1903.1,1196.5L1903.6,1193.5L1904.2,1207.6L1904.8,1203.2L1905.3,1195.1L1905.9,1198.4L1906.5,1201.2L1907.1,1194.1L1907.6,1189.7L1908.2,1194.3L1908.8,1200.0L1909.3,1192.2L1909.9,1189.0L1910.5,1185.4L1911.0,1192.7L1911.6,1195.5L1912.2,1195.2L1912.8,1179.5L1913.3,1177.4L1913.9,1161.5L1914.5,1158.9L1915.0,1156.9L1915.6,1151.9L1916.2,1158.4L1916.7,1147.8L1917.3,1151.8L1917.9,1153.9L1918.5,1154.7L1919.0,1155.3L1919.6,1148.2L1920.2,1132.5L1920.7,1147.2L1921.3,1140.7L1921.9,1139.6L1922.4,1139.9L1923.0,1142.2L1923.6,1143.8L1924.1,1135.7L1924.7,1129.1L1925.3,1133.9L1925.9,1126.4L1926.4,1132.1L1927.0,1130.4L1927.6,1137.6L1928.1,1135.9L1928.7,1132.2L1929.3,1129.3L1929.9,1134.7L1930.4,1124.4L1931.0,1139.0L1931.6,1130.3L1932.1,1123.9L1932.7,1130.0L1933.3,1126.6L1933.8,1131.9L1934.4,1133.9L1935.0,1124.2L1935.6,1126.3L1936.1,1117.9L1936.7,1124.6L1937.3,1120.0L1937.8,1123.2L1938.4,1122.0L1939.0,1129.2L1939.5,1115.2L1940.1,1120.2L1940.7,1128.6L1941.2,1124.3L1941.8,1127.3L1942.4,1136.2L1943.0,1124.6L1943.5,1127.7L1944.1,1125.0L1944.7,1125.2L1945.2,1120.1L1945.8,1119.2L1946.4,1113.3L1947.0,1124.9L1947.5,1125.3L1948.1,1129.8L1948.7,1127.3L1949.2,1121.8L1949.8,1120.6L1950.4,1120.3L1950.9,1110.3L1951.5,1107.3L1952.1,1108.2L1952.6,1116.9L1953.2,1117.6L1953.8,1110.8L1954.4,1117.6L1954.9,1118.8L1955.5,1111.6L1956.1,1117.3L1956.6,1102.1L1957.2,1103.7L1957.8,1109.0L1958.4,1120.6L1958.9,1101.5L1959.5,1098.0L1960.1,1117.3L1960.6,1107.2L1961.2,1103.0L1961.8,1108.2L1962.3,1118.3L1962.9,1125.6L1963.5,1126.0L1964.1,1118.6L1964.6,1122.8L1965.2,1120.7L1965.8,1112.2L1966.3,1116.0L1966.9,1123.9L1967.5,1121.2L1968.0,1117.4L1968.6,1117.2L1969.2,1126.6L1969.8,1119.4L1970.3,1112.8L1970.9,1115.9L1971.5,1115.3L1972.0,1114.7L1972.6,1118.5L1973.2,1118.0L1973.7,1115.8L1974.3,1115.3L1974.9,1107.7L1975.5,1116.3L1976.0,1116.7L1976.6,1119.7L1977.2,1119.2L1977.7,1122.2L1978.3,1123.5L1978.9,1127.1L1979.4,1133.8L1980.0,1141.7L1980.6,1139.8L1981.1,1145.9L1981.7,1149.4L1982.3,1151.5L1982.9,1156.4L1983.4,1150.9L1984.0,1150.4L1984.6,1145.6L1985.1,1156.7L1985.7,1150.6L1986.3,1148.6L1986.9,1154.9L1987.4,1139.1L1988.0,1141.6L1988.6,1148.6L1989.1,1135.0L1989.7,1137.8L1990.3,1148.9L1990.8,1148.5L1991.4,1148.7L1992.0,1142.8L1992.6,1148.5L1993.1,1147.8L1993.7,1156.3L1994.3,1155.2L1994.8,1144.2L1995.4,1147.7L1996.0,1153.5L1996.5,1153.4L1997.1,1136.9L1997.7,1149.3L1998.2,1143.0L1998.8,1148.3L1999.4,1144.0L2000.0,1142.3L2000.5,1141.5L2001.1,1138.2L2001.7,1138.6L2002.2,1136.6L2002.8,1130.1L2003.4,1130.2L2004.0,1124.7L2004.5,1131.0L2005.1,1121.3L2005.7,1121.0L2006.2,1126.8L2006.8,1129.8L2007.4,1128.3L2007.9,1117.2L2008.5,1128.9L2009.1,1124.9L2009.6,1128.7L2010.2,1131.3L2010.8,1136.1L2011.4,1144.9L2011.9,1135.1L2012.5,1129.9L2013.1,1124.3L2013.6,1128.0L2014.2,1129.4L2014.8,1136.0L2015.4,1122.7L2015.9,1111.8L2016.5,1118.5L2017.1,1116.4L2017.6,1125.9L2018.2,1124.1L2018.8,1125.5L2019.3,1113.0L2019.9,1103.9L2020.5,1098.5L2021.1,1105.9L2021.6,1095.0L2022.2,1101.9L2022.8,1100.9L2023.3,1100.0L2023.9,1106.2L2024.5,1102.2L2025.0,1105.5L2025.6,1092.3L2026.2,1100.0L2026.8,1106.2L2027.3,1097.4L2027.9,1108.3L2028.5,1092.5L2029.0,1096.1L2029.6,1093.5L2030.2,1092.0L2030.7,1100.4L2031.3,1091.5L2031.9,1105.8L2032.5,1105.6L2033.0,1109.2L2033.6,1109.2L2034.2,1109.1L2034.7,1101.7L2035.3,1101.9L2035.9,1092.0L2036.4,1096.3L2037.0,1111.1L2037.6,1093.4L2038.1,1099.6L2038.7,1093.8L2039.3,1097.4L2039.9,1105.4L2040.4,1105.5L2041.0,1108.8L2041.6,1095.3L2042.1,1101.2L2042.7,1098.3L2043.3,1095.4L2043.9,1099.4L2044.4,1093.2L2045.0,1105.2L2045.6,1095.2L2046.1,1090.4L2046.7,1101.0L2047.3,1100.0L2047.8,1092.2L2048.4,1104.2L2049.0,1109.3L2049.6,1109.0L2050.1,1108.6L2050.7,1110.3L2051.3,1097.3L2051.8,1099.0L2052.4,1109.7L2053.0,1109.2L2053.5,1106.9L2054.1,1102.5L2054.7,1109.7L2055.2,1108.4L2055.8,1112.6L2056.4,1102.2L2057.0,1099.2L2057.5,1104.6L2058.1,1111.5L2058.7,1113.4L2059.2,1113.2L2059.8,1105.9L2060.4,1096.4L2060.9,1102.1L2061.5,1099.7L2062.1,1099.9L2062.7,1103.0L2063.2,1100.7L2063.8,1105.4L2064.4,1110.8L2064.9,1116.6L2065.5,1121.6L2066.1,1115.8L2066.6,1134.1L2067.2,1136.2L2067.8,1142.3L2068.4,1140.0L2068.9,1144.7L2069.5,1145.8L2070.1,1165.8L2070.6,1172.9L2071.2,1169.8L2071.8,1162.1L2072.4,1160.1L2072.9,1163.1L2073.5,1162.8L2074.1,1153.4L2074.6,1150.5L2075.2,1151.6L2075.8,1145.3L2076.3,1146.4L2076.9,1145.5L2077.5,1137.5L2078.1,1150.0L2078.6,1150.8L2079.2,1156.8L2079.8,1163.9L2080.3,1161.1L2080.9,1156.6L2081.5,1163.8L2082.0,1164.9L2082.6,1155.5L2083.2,1162.5L2083.8,1159.0L2084.3,1159.0L2084.9,1153.4L2085.5,1147.3L2086.0,1150.0L2086.6,1141.1L2087.2,1134.3L2087.7,1136.0L2088.3,1138.7L2088.9,1148.5L2089.4,1147.7L2090.0,1145.7L2090.6,1161.4L2091.2,1159.3L2091.7,1160.2L2092.3,1150.5L2092.9,1154.1L2093.4,1165.8L2094.0,1152.1L2094.6,1151.1L2095.1,1148.0L2095.7,1155.7L2096.3,1154.8L2096.9,1146.6L2097.4,1138.3L2098.0,1143.0L2098.6,1143.0L2099.1,1146.6L2099.7,1143.3L2100.3,1151.1L2100.9,1135.6L2101.4,1135.0L2102.0,1142.9L2102.6,1147.0L2103.1,1143.3L2103.7,1142.4L2104.3,1142.2L2104.8,1139.8L2105.4,1129.9L2106.0,1133.2L2106.6,1135.9L2107.1,1129.6L2107.7,1127.4L2108.3,1128.4L2108.8,1128.5L2109.4,1142.0L2110.0,1136.9L2110.5,1138.3L2111.1,1131.1L2111.7,1143.8L2112.2,1134.8L2112.8,1139.8L2113.4,1142.6L2114.0,1145.5L2114.5,1129.8L2115.1,1134.5L2115.7,1134.4L2116.2,1122.8L2116.8,1126.5L2117.4,1127.3L2117.9,1127.3L2118.5,1123.8L2119.1,1133.2L2119.7,1131.8L2120.2,1133.6L2120.8,1130.4L2121.4,1134.3L2121.9,1132.6L2122.5,1137.0L2123.1,1126.1L2123.6,1139.9L2124.2,1138.5L2124.8,1134.1L2125.4,1141.7L2125.9,1149.2L2126.5,1147.6L2127.1,1146.6L2127.6,1137.2L2128.2,1131.3L2128.8,1129.6L2129.3,1129.4L2129.9,1121.3L2130.5,1114.8L2131.1,1116.9L2131.6,1113.6L2132.2,1111.7L2132.8,1119.8L2133.3,1122.2L2133.9,1117.6L2134.5,1114.3L2135.1,1121.1L2135.6,1113.9L2136.2,1106.3L2136.8,1109.6L2137.3,1119.2L2137.9,1123.7L2138.5,1129.5L2139.0,1128.7L2139.6,1122.4L2140.2,1118.2L2140.8,1112.7L2141.3,1121.9L2141.9,1111.3L2142.5,1116.9L2143.0,1117.5L2143.6,1117.8L2144.2,1117.3L2144.7,1116.6L2145.3,1111.7L2145.9,1122.5L2146.4,1118.2L2147.0,1120.3L2147.6,1127.8L2148.2,1129.9L2148.7,1116.5L2149.3,1112.2L2149.9,1110.8L2150.4,1109.8L2151.0,1106.3L2151.6,1117.2L2152.2,1114.9L2152.7,1121.1L2153.3,1112.4L2153.9,1107.6L2154.4,1112.2L2155.0,1118.6L2155.6,1115.8L2156.1,1114.5L2156.7,1113.6L2157.3,1114.7L2157.8,1115.4L2158.4,1111.8L2159.0,1122.8L2159.6,1131.8L2160.1,1128.8L2160.7,1137.4L2161.3,1134.0L2161.8,1132.0L2162.4,1132.4L2163.0,1125.0L2163.6,1135.6L2164.1,1140.6L2164.7,1136.5L2165.3,1136.2L2165.8,1137.4L2166.4,1142.7L2167.0,1136.5L2167.5,1128.5L2168.1,1122.5L2168.7,1118.7L2169.2,1118.2L2169.8,1114.0L2170.4,1108.2L2171.0,1101.3L2171.5,1116.4L2172.1,1120.9L2172.7,1118.5L2173.2,1115.2L2173.8,1129.0L2174.4,1127.8L2174.9,1125.6L2175.5,1117.2L2176.1,1122.1L2176.7,1135.3L2177.2,1134.0L2177.8,1132.3L2178.4,1119.0L2178.9,1124.9L2179.5,1112.8L2180.1,1115.3L2180.7,1114.9L2181.2,1121.4L2181.8,1129.9L2182.4,1127.6L2182.9,1129.9L2183.5,1123.7L2184.1,1130.4L2184.6,1126.3L2185.2,1132.7L2185.8,1129.0L2186.3,1129.0L2186.9,1133.7L2187.5,1136.4L2188.1,1137.7L2188.6,1134.7L2189.2,1135.2L2189.8,1159.4L2190.3,1134.4L2190.9,1124.0L2191.5,1126.9L2192.1,1126.9L2192.6,1120.1L2193.2,1130.1L2193.8,1165.6L2194.3,1129.5L2194.9,1123.7L2195.5,1123.9L2196.0,1135.3L2196.6,1128.4L2197.2,1132.8L2197.8,1139.8L2198.3,1138.4L2198.9,1133.4L2199.5,1134.2L2200.0,1132.8L2200.6,1129.2L2201.2,1125.7L2201.7,1122.1L2202.3,1098.6L2202.9,1105.9L2203.4,1108.9L2204.0,1111.4L2204.6,1093.9L2205.2,1110.6L2205.7,1113.8L2206.3,1113.8L2206.9,1102.3L2207.4,1109.5L2208.0,1115.7L2208.6,1109.6L2209.2,1118.7L2209.7,1120.0L2210.3,1115.5L2210.9,1113.9L2211.4,1119.4L2212.0,1122.1L2212.6,1116.7L2213.1,1129.9L2213.7,1121.9L2214.3,1102.9L2214.8,1107.5L2215.4,1113.3L2216.0,1110.5L2216.6,1108.4L2217.1,1106.3L2217.7,1103.7L2218.3,1115.4L2218.8,1120.4L2219.4,1116.0L2220.0,1108.2L2220.6,1123.4L2221.1,1126.5L2221.7,1119.2L2222.3,1120.9L2222.8,1116.9L2223.4,1108.3L2224.0,1106.9L2224.5,1103.2L2225.1,1112.3L2225.7,1086.8L2226.2,1099.0L2226.8,1102.9L2227.4,1100.6L2228.0,1102.9L2228.5,1095.0L2229.1,1100.3L2229.7,1094.9L2230.2,1111.0L2230.8,1101.1L2231.4,1088.1L2231.9,1100.2L2232.5,1104.1L2233.1,1100.1L2233.7,1104.5L2234.2,1092.9L2234.8,1092.2L2235.4,1096.8L2235.9,1098.3L2236.5,1103.6L2237.1,1095.3L2237.7,1090.0L2238.2,1090.8L2238.8,1089.7L2239.4,1085.3L2239.9,1081.6L2240.5,1075.6L2241.1,1086.2L2241.6,1087.1L2242.2,1085.1L2242.8,1077.5L2243.3,1107.4L2243.9,1097.9L2244.5,1092.2L2245.1,1079.8L2245.6,1083.5L2246.2,1083.0L2246.8,1081.3L2247.3,1081.4L2247.9,1073.4L2248.5,1073.4L2249.1,1066.1L2249.6,1077.9L2250.2,1075.4L2250.8,1066.9L2251.3,1077.9L2251.9,1079.1L2252.5,1089.9L2253.0,1076.4L2253.6,1081.1L2254.2,1087.9L2254.8,1084.6L2255.3,1094.4L2255.9,1090.9L2256.5,1089.9L2257.0,1088.6L2257.6,1097.8L2258.2,1096.0L2258.7,1099.2L2259.3,1098.2L2259.9,1103.2L2260.4,1101.0L2261.0,1101.0L2261.6,1097.6L2262.2,1095.0L2262.7,1101.3L2263.3,1105.4L2263.9,1108.9L2264.4,1101.5L2265.0,1116.5L2265.6,1114.1L2266.2,1097.1L2266.7,1101.0L2267.3,1105.9L2267.9,1105.4L2268.4,1109.6L2269.0,1102.9L2269.6,1103.1L2270.1,1103.9L2270.7,1093.0L2271.3,1100.6L2271.9,1106.9L2272.4,1107.2L2273.0,1113.9L2273.6,1113.6L2274.1,1120.4L2274.7,1130.2L2275.3,1131.0L2275.8,1119.9L2276.4,1127.5L2277.0,1122.4L2277.6,1127.2L2278.1,1118.2L2278.7,1119.7L2279.3,1116.9L2279.8,1119.8L2280.4,1123.4L2281.0,1125.9L2281.5,1126.0L2282.1,1125.0L2282.7,1118.5L2283.2,1120.0L2283.8,1110.9L2284.4,1122.6L2285.0,1116.1L2285.5,1113.9L2286.1,1114.6L2286.7,1108.2L2287.2,1109.8L2287.8,1117.4L2288.4,1115.2L2288.9,1115.9L2289.5,1108.3L2290.1,1114.7L2290.7,1127.7L2291.2,1134.5L2291.8,1131.3L2292.4,1127.4L2292.9,1127.9L2293.5,1137.1L2294.1,1123.8L2294.7,1119.0L2295.2,1121.6L2295.8,1121.8L2296.4,1125.3L2296.9,1118.7L2297.5,1117.8L2298.1,1114.5L2298.6,1109.3L2299.2,1106.3L2299.8,1112.8L2300.4,1114.1L2300.9,1103.1L2301.5,1100.7L2302.1,1104.5L2302.6,1093.9L2303.2,1097.5L2303.8,1093.4L2304.3,1106.5L2304.9,1101.5L2305.5,1109.5L2306.1,1116.8L2306.6,1120.6L2307.2,1123.9L2307.8,1133.1L2308.3,1114.4L2308.9,1122.7L2309.5,1122.5L2310.0,1129.7L2310.6,1127.9L2311.2,1132.0L2311.8,1124.3L2312.3,1120.2L2312.9,1120.4L2313.5,1130.4L2314.0,1129.4L2314.6,1128.5L2315.2,1127.8L2315.7,1129.8L2316.3,1119.7L2316.9,1120.0L2317.4,1113.7L2318.0,1115.8L2318.6,1115.7L2319.2,1117.9L2319.7,1108.4L2320.3,1114.0L2320.9,1112.6L2321.4,1114.1L2322.0,1118.7L2322.6,1112.9L2323.2,1115.1L2323.7,1121.1L2324.3,1119.0L2324.9,1125.9L2325.4,1124.7L2326.0,1127.1L2326.6,1132.5L2327.1,1137.4L2327.7,1131.3L2328.3,1122.3L2328.9,1135.3L2329.4,1130.4L2330.0,1127.1L2330.6,1130.5L2331.1,1137.1L2331.7,1131.8L2332.3,1126.6L2332.8,1149.9L2333.4,1147.4L2334.0,1124.9L2334.6,1114.9L2335.1,1113.7L2335.7,1127.3L2336.3,1123.4L2336.8,1122.4L2337.4,1132.8L2338.0,1123.7L2338.5,1134.9L2339.1,1128.4L2339.7,1134.5L2340.2,1129.0L2340.8,1126.8L2341.4,1126.3L2342.0,1121.2L2342.5,1131.0L2343.1,1128.4L2343.7,1129.3L2344.2,1127.8L2344.8,1134.1L2345.4,1130.0L2345.9,1137.9L2346.5,1148.9L2347.1,1142.2L2347.7,1145.8L2348.2,1155.2L2348.8,1167.4L2349.4,1163.3L2349.9,1149.4L2350.5,1162.9L2351.1,1148.1L2351.7,1156.0L2352.2,1142.7L2352.8,1145.8L2353.4,1145.9L2353.9,1151.1L2354.5,1148.3L2355.1,1154.3L2355.6,1150.5L2356.2,1147.2L2356.8,1154.1L2357.4,1153.3L2357.9,1153.5L2358.5,1152.9L2359.1,1153.7L2359.6,1148.1L2360.2,1156.2L2360.8,1162.8L2361.3,1162.9L2361.9,1156.5L2362.5,1150.9L2363.0,1148.3L2363.6,1150.5L2364.2,1148.0L2364.8,1156.4L2365.3,1159.6L2365.9,1153.6L2366.5,1161.3L2367.0,1159.6L2367.6,1145.7L2368.2,1158.8L2368.8,1156.2L2369.3,1159.0L2369.9,1156.3L2370.5,1148.4L2371.0,1160.6L2371.6,1154.3L2372.2,1156.9L2372.7,1168.7L2373.3,1166.3L2373.9,1151.9L2374.5,1159.1L2375.0,1171.1L2375.6,1169.7L2376.2,1172.9L2376.7,1164.0L2377.3,1177.0L2377.9,1173.7L2378.4,1171.9L2379.0,1176.8L2379.6,1170.3L2380.2,1180.8L2380.7,1189.3L2381.3,1185.0L2381.9,1176.9L2382.4,1171.0L2383.0,1167.1L2383.6,1169.0L2384.1,1152.6L2384.7,1166.7L2385.3,1162.3L2385.9,1162.0L2386.4,1173.4L2387.0,1142.1L2387.6,1168.0L2388.1,1175.6L2388.7,1176.4L2389.3,1175.2L2389.8,1181.5L2390.4,1178.3L2391.0,1179.9L2391.5,1190.4L2392.1,1188.4L2392.7,1197.9L2393.3,1197.0L2393.8,1194.9L2394.4,1195.7L2395.0,1188.5L2395.5,1189.9L2396.1,1189.9L2396.7,1194.0L2397.2,1172.6L2397.8,1188.8L2398.4,1194.2L2399.0,1200.7L2399.5,1194.1L2400.1,1188.4L2400.7,1200.5L2401.2,1203.4L2401.8,1204.0L2402.4,1208.3L2403.0,1207.1L2403.5,1212.9L2404.1,1209.7L2404.7,1217.3L2405.2,1220.5L2405.8,1227.3L2406.4,1217.9L2406.9,1215.4L2407.5,1224.6L2408.1,1234.5L2408.7,1214.2L2409.2,1219.6L2409.8,1213.2L2410.4,1222.6L2410.9,1215.4L2411.5,1222.8L2412.1,1223.0L2412.6,1244.1L2413.2,1231.5L2413.8,1249.7L2414.4,1251.8L2414.9,1240.8L2415.5,1245.2L2416.1,1248.9L2416.6,1248.2L2417.2,1253.2L2417.8,1249.0L2418.3,1247.6L2418.9,1251.9L2419.5,1245.9L2420.0,1247.1L2420.6,1251.0L2421.2,1244.5L2421.8,1252.8L2422.3,1262.2L2422.9,1265.0L2423.5,1262.3L2424.0,1265.2L2424.6,1261.9L2425.2,1263.3L2425.8,1264.7L2426.3,1266.9L2426.9,1269.9L2427.5,1261.6L2428.0,1267.3L2428.6,1267.8L2429.2,1258.4L2429.7,1265.9L2430.3,1257.3L2430.9,1265.8L2431.5,1263.5L2432.0,1262.4L2432.6,1243.6L2433.2,1240.7L2433.7,1241.9L2434.3,1245.5L2434.9,1244.6L2435.4,1250.7L2436.0,1233.9L2436.6,1242.2L2437.2,1241.6L2437.7,1243.8L2438.3,1249.6L2438.9,1249.8L2439.4,1251.7L2440.0,1253.7L2440.6,1277.0L2441.1,1249.9L2441.7,1251.5L2442.3,1251.4L2442.9,1242.6L2443.4,1251.5L2444.0,1244.4L2444.6,1250.8L2445.1,1246.8L2445.7,1249.6L2446.3,1243.9L2446.8,1240.2L2447.4,1243.5L2448.0,1243.2L2448.5,1239.4L2449.1,1239.8L2449.7,1242.0L2450.3,1241.8L2450.8,1237.3L2451.4,1238.4L2452.0,1229.1L2452.5,1241.7L2453.1,1240.0L2453.7,1235.6L2454.2,1240.0L2454.8,1234.5L2455.4,1235.8L2456.0,1233.9L2456.5,1228.1L2457.1,1231.7L2457.7,1232.5L2458.2,1227.7L2458.8,1223.7L2459.4,1231.6L2460.0,1228.7L2460.5,1232.8L2461.1,1227.3L2461.7,1231.8L2462.2,1227.9L2462.8,1224.8L2463.4,1232.2L2463.9,1232.2L2464.5,1228.3L2465.1,1228.4L2465.7,1228.1L2466.2,1227.6L2466.8,1228.8L2467.4,1234.1L2467.9,1227.7L2468.5,1230.6L2469.1,1229.3L2469.6,1229.2L2470.2,1232.2L2470.8,1234.3L2471.4,1229.8L2471.9,1230.3L2472.5,1227.8L2473.1,1231.9L2473.6,1221.6L2474.2,1220.5L2474.8,1222.2L2475.3,1206.8L2475.9,1219.0L2476.5,1214.3L2477.0,1220.3L2477.6,1215.5L2478.2,1212.9L2478.8,1224.1L2479.3,1225.6L2479.9,1221.9L2480.5,1224.8L2481.0,1218.7L2481.6,1218.3L2482.2,1214.0L2482.8,1214.3L2483.3,1211.1L2483.9,1209.5L2484.5,1214.7L2485.0,1219.7L2485.6,1226.6L2486.2,1225.1L2486.7,1225.8L2487.3,1226.0L2487.9,1221.0L2488.5,1213.2L2489.0,1215.5L2489.6,1212.6L2490.2,1209.8L2490.7,1215.3L2491.3,1215.0L2491.9,1221.5L2492.4,1211.9L2493.0,1205.4L2493.6,1196.6L2494.2,1197.8L2494.7,1197.8L2495.3,1201.3L2495.9,1200.7L2496.4,1203.0L2497.0,1201.2L2497.6,1203.1L2498.1,1197.3L2498.7,1186.9L2499.3,1193.6L2499.9,1179.4L2500.4,1190.3L2501.0,1184.2L2501.6,1188.8L2502.1,1200.1L2502.7,1191.6L2503.3,1191.7L2503.8,1194.3L2504.4,1195.1L2505.0,1196.7L2505.5,1198.2L2506.1,1189.7L2506.7,1185.8L2507.3,1189.1L2507.8,1182.4L2508.4,1191.0L2509.0,1192.4L2509.5,1187.8L2510.1,1189.7L2510.7,1188.8L2511.2,1189.9L2511.8,1182.0L2512.4,1186.5L2513.0,1184.2L2513.5,1177.2L2514.1,1181.3L2514.7,1182.0L2515.2,1178.1L2515.8,1180.5L2516.4,1175.7L2517.0,1178.5L2517.5,1176.5L2518.1,1181.0L2518.7,1182.8L2519.2,1181.8L2519.8,1186.5L2520.4,1178.2L2520.9,1184.4L2521.5,1188.1L2522.1,1195.4L2522.7,1190.3L2523.2,1192.3L2523.8,1185.7L2524.4,1188.9L2524.9,1194.9L2525.5,1195.3L2526.1,1194.2L2526.6,1192.4L2527.2,1184.4L2527.8,1185.5L2528.4,1187.1L2528.9,1186.1L2529.5,1188.2L2530.1,1184.5L2530.6,1187.7L2531.2,1186.4L2531.8,1185.8L2532.3,1183.9L2532.9,1183.7L2533.5,1194.7L2534.0,1197.2L2534.6,1193.7L2535.2,1195.5L2535.8,1196.8L2536.3,1198.1L2536.9,1194.7L2537.5,1199.0L2538.0,1202.5L2538.6,1197.7L2539.2,1202.8L2539.8,1198.6L2540.3,1195.1L2540.9,1191.9L2541.5,1192.0L2542.0,1190.0L2542.6,1190.3L2543.2,1184.9L2543.7,1192.6L2544.3,1194.3L2544.9,1194.5L2545.5,1190.9L2546.0,1189.5L2546.6,1190.5L2547.2,1189.3L2547.7,1190.4L2548.3,1184.5L2548.9,1188.0L2549.4,1185.7L2550.0,1185.1L2550.6,1192.6L2551.2,1185.0L2551.7,1181.2L2552.3,1179.3L2552.9,1182.1L2553.4,1181.8L2554.0,1181.3L2554.6,1179.1L2555.1,1179.7L2555.7,1176.3L2556.3,1175.0L2556.9,1179.8L2557.4,1180.6L2558.0,1182.1L2558.6,1185.5L2559.1,1184.1L2559.7,1184.6L2560.3,1191.3L2560.8,1191.8L2561.4,1183.8L2562.0,1176.0L2562.5,1173.5L2563.1,1174.8L2563.7,1177.8L2564.3,1176.0L2564.8,1178.3L2565.4,1187.4L2566.0,1182.2L2566.5,1185.2L2567.1,1179.4L2567.7,1179.7L2568.2,1179.7L2568.8,1179.6L2569.4,1186.1L2570.0,1179.2L2570.5,1182.5L2571.1,1179.3L2571.7,1179.2L2572.2,1178.6L2572.8,1186.0L2573.4,1184.1L2574.0,1184.4L2574.5,1180.9L2575.1,1181.2L2575.7,1168.9L2576.2,1184.1L2576.8,1195.1L2577.4,1194.2L2577.9,1194.1L2578.5,1196.6L2579.1,1191.4L2579.7,1192.6L2580.2,1190.9L2580.8,1188.3L2581.4,1193.3L2581.9,1189.0L2582.5,1188.2L2583.1,1183.2L2583.6,1183.6L2584.2,1186.3L2584.8,1183.2L2585.4,1180.6L2585.9,1172.1L2586.5,1181.5L2587.1,1179.4L2587.6,1177.3L2588.2,1167.9L2588.8,1171.9L2589.3,1167.2L2589.9,1159.5L2590.5,1163.6L2591.0,1164.3L2591.6,1161.3L2592.2,1153.9L2592.8,1156.4L2593.3,1167.5L2593.9,1159.6L2594.5,1158.6L2595.0,1156.9L2595.6,1168.6L2596.2,1163.6L2596.8,1169.1L2597.3,1174.2L2597.9,1162.8L2598.5,1163.1L2599.0,1156.6L2599.6,1156.4L2600.2,1157.5L2600.7,1147.1L2601.3,1143.2L2601.9,1142.4L2602.5,1150.0L2603.0,1143.5L2603.6,1141.1L2604.2,1143.7L2604.7,1148.0L2605.3,1156.4L2605.9,1161.2L2606.4,1162.1L2607.0,1161.7L2607.6,1166.7L2608.2,1172.4L2608.7,1172.5L2609.3,1165.8L2609.9,1163.3L2610.4,1164.6L2611.0,1167.5L2611.6,1166.6L2612.1,1163.0L2612.7,1150.3L2613.3,1147.4L2613.9,1149.7L2614.4,1149.5L2615.0,1148.3L2615.6,1144.3L2616.1,1142.5L2616.7,1146.1L2617.3,1146.2L2617.8,1146.9L2618.4,1140.5L2619.0,1142.2L2619.5,1137.9L2620.1,1142.5L2620.7,1144.0L2621.3,1145.7L2621.8,1149.3L2622.4,1148.3L2623.0,1138.2L2623.5,1137.0L2624.1,1129.1L2624.7,1130.8L2625.2,1121.1L2625.8,1118.4L2626.4,1112.0L2627.0,1114.6L2627.5,1116.2L2628.1,1109.6L2628.7,1105.0L2629.2,1103.5L2629.8,1091.2L2630.4,1095.1L2631.0,1089.8L2631.5,1090.3L2632.1,1086.5L2632.7,1089.9L2633.2,1085.4L2633.8,1087.8L2634.4,1085.8L2634.9,1086.3L2635.5,1084.3L2636.1,1083.4L2636.7,1077.1L2637.2,1076.6L2637.8,1074.4L2638.4,1068.6L2638.9,1078.5L2639.5,1068.3L2640.1,1072.5L2640.6,1072.1L2641.2,1077.0L2641.8,1076.1L2642.4,1072.9L2642.9,1074.4L2643.5,1070.7L2644.1,1071.3L2644.6,1066.0L2645.2,1067.2L2645.8,1065.1L2646.3,1054.8L2646.9,1062.0L2647.5,1067.7L2648.0,1063.5L2648.6,1055.3L2649.2,1059.5L2649.8,1057.4L2650.3,1060.3L2650.9,1057.1L2651.5,1052.9L2652.0,1050.7L2652.6,1045.6L2653.2,1043.3L2653.8,1044.3L2654.3,1049.4L2654.9,1045.7L2655.5,1045.3L2656.0,1044.5L2656.6,1034.6L2657.2,1037.1L2657.7,1037.0L2658.3,1036.9L2658.9,1043.3L2659.5,1046.4L2660.0,1049.3L2660.6,1047.1L2661.2,1043.6L2661.7,1054.8L2662.3,1052.0L2662.9,1080.3L2663.4,1056.2L2664.0,1057.4L2664.6,1055.4L2665.2,1061.1L2665.7,1057.9L2666.3,1064.1L2666.9,1061.4L2667.4,1067.3L2668.0,1063.3L2668.6,1066.3L2669.1,1072.0L2669.7,1070.2L2670.3,1071.6L2670.9,1075.3L2671.4,1077.9L2672.0,1080.9L2672.6,1084.4L2673.1,1085.5L2673.7,1083.3L2674.3,1092.1L2674.8,1094.1L2675.4,1090.3L2676.0,1088.2L2676.5,1089.3L2677.1,1095.7L2677.7,1094.8L2678.3,1087.2L2678.8,1093.7L2679.4,1099.4L2680.0,1109.5L2680.5,1104.3L2681.1,1106.7L2681.7,1105.7L2682.2,1112.0L2682.8,1119.1L2683.4,1116.8L2684.0,1116.6L2684.5,1117.2L2685.1,1109.5L2685.7,1112.8L2686.2,1116.2L2686.8,1115.1L2687.4,1121.1L2688.0,1115.7L2688.5,1124.9L2689.1,1128.3L2689.7,1122.8L2690.2,1121.1L2690.8,1123.1L2691.4,1134.9L2691.9,1119.4L2692.5,1125.5L2693.1,1126.1L2693.7,1123.3L2694.2,1128.0L2694.8,1129.3L2695.4,1137.5L2695.9,1136.9L2696.5,1143.6L2697.1,1145.4L2697.6,1144.2L2698.2,1139.3L2698.8,1138.4L2699.4,1137.3L2699.9,1136.9L2700.5,1134.1L2701.1,1135.3L2701.6,1137.4L2702.2,1140.2L2702.8,1138.9L2703.3,1134.0L2703.9,1133.1L2704.5,1131.3L2705.0,1129.9L2705.6,1133.3L2706.2,1127.6L2706.8,1121.8L2707.3,1123.1L2707.9,1127.7L2708.5,1130.7L2709.0,1128.0L2709.6,1124.6L2710.2,1118.7L2710.8,1109.6L2711.3,1116.2L2711.9,1102.7L2712.5,1104.0L2713.0,1101.0L2713.6,1106.4L2714.2,1103.8L2714.7,1105.2L2715.3,1104.2L2715.9,1100.6L2716.5,1099.2L2717.0,1101.6L2717.6,1098.0L2718.2,1096.1L2718.7,1095.7L2719.3,1089.4L2719.9,1091.6L2720.4,1086.6L2721.0,1075.5L2721.6,1078.6L2722.2,1079.8L2722.7,1071.9L2723.3,1070.6L2723.9,1070.3L2724.4,1069.3L2725.0,1063.4L2725.6,1068.7L2726.1,1063.0L2726.7,1059.8L2727.3,1065.3L2727.9,1061.3L2728.4,1059.9L2729.0,1060.2L2729.6,1051.5L2730.1,1044.6L2730.7,1042.0L2731.3,1042.8L2731.8,1040.9L2732.4,1035.4L2733.0,1039.0L2733.5,1031.1L2734.1,1026.0L2734.7,1027.6L2735.3,1027.9L2735.8,1028.2L2736.4,1027.4L2737.0,1029.3L2737.5,1027.6L2738.1,1026.5L2738.7,1026.6L2739.2,1018.1L2739.8,1018.4L2740.4,1014.7L2741.0,1018.7L2741.5,1010.7L2742.1,1013.9L2742.7,1011.9L2743.2,1009.3L2743.8,1008.0L2744.4,1005.2L2745.0,1002.7L2745.5,998.8L2746.1,995.0L2746.7,1004.7L2747.2,1003.7L2747.8,1004.1L2748.4,1012.4L2748.9,1010.9L2749.5,1005.8L2750.1,995.9L2750.7,1002.0L2751.2,1004.1L2751.8,1014.3L2752.4,993.7L2752.9,993.5L2753.5,988.0L2754.1,982.1L2754.6,982.9L2755.2,989.2L2755.8,980.8L2756.4,968.9L2756.9,971.4L2757.5,966.2L2758.1,963.8L2758.6,969.0L2759.2,966.3L2759.8,962.3L2760.3,958.8L2760.9,960.8L2761.5,965.3L2762.0,967.5L2762.6,963.5L2763.2,964.1L2763.8,962.3L2764.3,964.1L2764.9,958.8L2765.5,951.6L2766.0,947.3L2766.6,946.9L2767.2,943.7L2767.8,951.6L2768.3,951.1L2768.9,952.2L2769.5,945.7L2770.0,944.2L2770.6,944.8L2771.2,944.1L2771.7,944.9L2772.3,953.9L2772.9,958.3L2773.5,958.2L2774.0,957.5L2774.6,955.0L2775.2,952.8L2775.7,962.2L2776.3,967.4L2776.9,968.2L2777.4,971.8L2778.0,984.6L2778.6,986.6L2779.2,989.0L2779.7,994.6L2780.3,1003.8L2780.9,1007.8L2781.4,996.9L2782.0,1019.7L2782.6,1021.4L2783.1,1020.9L2783.7,1027.0L2784.3,1033.1L2784.9,1032.4L2785.4,1034.5L2786.0,1039.4L2786.6,1052.0L2787.1,1045.3L2787.7,1044.9L2788.3,1052.3L2788.8,1060.2L2789.4,1031.0L2790.0,1067.3L2790.5,1073.4L2791.1,1072.0L2791.7,1072.3L2792.3,1083.6L2792.8,1079.2L2793.4,1084.9L2794.0,1093.2L2794.5,1092.5L2795.1,1087.5L2795.7,1089.2L2796.2,1100.4L2796.8,1095.7L2797.4,1087.9L2798.0,1092.6L2798.5,1095.4L2799.1,1100.7L2799.7,1096.7L2800.2,1100.9L2800.8,1102.9L2801.4,1104.6L2802.0,1104.8L2802.5,1111.7L2803.1,1114.6L2803.7,1122.0L2804.2,1120.2L2804.8,1125.4L2805.4,1124.8L2805.9,1119.6L2806.5,1124.4L2807.1,1121.0L2807.7,1117.6L2808.2,1122.4L2808.8,1129.6L2809.4,1119.9L2809.9,1117.8L2810.5,1119.7L2811.1,1119.3L2811.6,1119.9L2812.2,1125.4L2812.8,1123.9L2813.4,1124.3L2813.9,1121.7L2814.5,1120.4L2815.1,1123.2L2815.6,1128.7L2816.2,1130.5L2816.8,1131.5L2817.3,1127.0L2817.9,1113.6L2818.5,1127.2L2819.0,1128.4L2819.6,1127.9L2820.2,1132.7L2820.8,1133.1L2821.3,1138.0L2821.9,1138.0L2822.5,1139.5L2823.0,1136.1L2823.6,1140.5L2824.2,1140.8L2824.8,1149.9L2825.3,1152.6L2825.9,1152.0L2826.5,1136.0L2827.0,1156.5L2827.6,1156.4L2828.2,1147.8L2828.7,1149.0L2829.3,1144.6L2829.9,1151.4L2830.5,1152.5L2831.0,1157.4L2831.6,1154.1L2832.2,1153.1L2832.7,1154.5L2833.3,1158.9L2833.9,1157.1L2834.4,1156.7L2835.0,1158.7L2835.6,1151.3L2836.2,1151.2L2836.7,1156.1L2837.3,1152.1L2837.9,1155.3L2838.4,1148.6L2839.0,1149.7L2839.6,1157.0L2840.1,1158.0L2840.7,1153.5L2841.3,1153.3L2841.9,1147.6L2842.4,1147.6L2843.0,1151.2L2843.6,1152.1L2844.1,1154.4L2844.7,1155.3L2845.3,1156.5L2845.8,1146.9L2846.4,1152.2L2847.0,1156.5L2847.5,1150.5L2848.1,1158.1L2848.7,1162.3L2849.3,1157.4L2849.8,1168.7L2850.4,1176.6L2851.0,1170.3L2851.5,1170.8L2852.1,1179.5L2852.7,1180.7L2853.2,1183.4L2853.8,1184.4L2854.4,1194.7L2855.0,1194.2L2855.5,1196.2L2856.1,1203.3L2856.7,1207.7L2857.2,1206.0L2857.8,1212.2L2858.4,1215.4L2859.0,1213.5L2859.5,1217.5L2860.1,1205.7L2860.7,1213.4L2861.2,1211.9L2861.8,1215.2L2862.4,1213.6L2862.9,1210.5L2863.5,1206.7L2864.1,1209.5L2864.7,1206.5L2865.2,1212.9L2865.8,1203.0L2866.4,1202.9L2866.9,1209.7L2867.5,1209.1L2868.1,1210.3L2868.6,1215.0L2869.2,1209.8L2869.8,1221.0L2870.4,1213.3L2870.9,1210.7L2871.5,1210.5L2872.1,1207.6L2872.6,1217.9L2873.2,1217.1L2873.8,1219.1L2874.3,1220.4L2874.9,1222.8L2875.5,1230.9L2876.0,1235.3L2876.6,1242.5L2877.2,1236.0L2877.8,1245.4L2878.3,1241.2L2878.9,1244.1L2879.5,1247.1L2880.0,1247.8L2880.6,1249.3L2881.2,1255.3L2881.8,1253.5L2882.3,1249.5L2882.9,1243.8L2883.5,1247.1L2884.0,1253.5L2884.6,1249.9L2885.2,1252.7L2885.7,1246.9L2886.3,1246.0L2886.9,1251.0L2887.5,1253.9L2888.0,1251.9L2888.6,1254.7L2889.2,1244.3L2889.7,1240.6L2890.3,1247.2L2890.9,1248.4L2891.4,1250.3L2892.0,1250.6L2892.6,1255.5L2893.2,1261.1L2893.7,1258.0L2894.3,1260.3L2894.9,1261.8L2895.4,1263.6L2896.0,1267.5L2896.6,1265.2L2897.1,1268.9L2897.7,1270.3L2898.3,1268.0L2898.9,1265.8L2899.4,1272.2L2900.0,1271.2L2900.6,1270.8L2901.1,1266.8L2901.7,1267.9L2902.3,1273.7L2902.8,1271.3L2903.4,1269.4L2904.0,1269.1L2904.5,1273.4L2905.1,1275.5L2905.7,1274.0L2906.3,1279.1L2906.8,1279.3L2907.4,1276.6L2908.0,1277.7L2908.5,1282.9L2909.1,1285.0L2909.7,1289.3L2910.2,1281.2L2910.8,1285.3L2911.4,1280.4L2912.0,1278.7L2912.5,1284.4L2913.1,1274.3L2913.7,1278.0L2914.2,1269.5L2914.8,1263.7L2915.4,1259.6L2916.0,1265.6L2916.5,1260.8L2917.1,1265.3L2917.7,1256.8L2918.2,1255.6L2918.8,1261.4L2919.4,1259.1L2919.9,1258.1L2920.5,1258.0L2921.1,1254.3L2921.7,1246.1L2922.2,1248.7L2922.8,1255.6L2923.4,1263.3L2923.9,1259.7L2924.5,1251.7L2925.1,1254.3L2925.6,1250.7L2926.2,1249.6L2926.8,1245.8L2927.4,1240.8L2927.9,1242.4L2928.5,1243.2L2929.1,1248.4L2929.6,1245.3L2930.2,1240.3L2930.8,1236.7L2931.3,1235.7L2931.9,1234.2L2932.5,1228.0L2933.0,1227.4L2933.6,1220.1L2934.2,1235.3L2934.8,1234.2L2935.3,1220.4L2935.9,1226.7L2936.5,1219.6L2937.0,1216.6L2937.6,1215.2L2938.2,1210.0L2938.8,1209.7L2939.3,1207.9L2939.9,1204.4L2940.5,1208.8L2941.0,1209.4L2941.6,1201.2L2942.2,1207.2L2942.7,1209.7L2943.3,1213.1L2943.9,1203.5L2944.5,1203.2L2945.0,1200.2L2945.6,1199.6L2946.2,1199.1L2946.7,1199.4L2947.3,1196.0L2947.9,1196.6L2948.4,1196.6L2949.0,1194.6L2949.6,1188.1L2950.2,1188.5L2950.7,1192.1L2951.3,1195.7L2951.9,1194.0L2952.4,1186.9L2953.0,1182.3L2953.6,1185.7L2954.1,1183.6L2954.7,1192.4L2955.3,1189.4L2955.9,1189.8L2956.4,1187.3L2957.0,1184.5L2957.6,1181.7L2958.1,1181.5L2958.7,1182.0L2959.3,1178.3L2959.8,1176.0L2960.4,1171.2L2961.0,1157.7L2961.5,1164.8L2962.1,1166.7L2962.7,1156.5L2963.3,1155.2L2963.8,1154.3L2964.4,1158.4L2965.0,1155.6L2965.5,1157.5L2966.1,1144.3L2966.7,1149.7L2967.2,1152.7L2967.8,1151.6L2968.4,1152.5L2969.0,1151.4L2969.5,1150.0L2970.1,1146.1L2970.7,1143.5L2971.2,1143.8L2971.8,1142.4L2972.4,1146.2L2973.0,1148.0L2973.5,1143.5L2974.1,1141.8L2974.7,1147.7L2975.2,1151.1L2975.8,1156.6L2976.4,1154.8L2976.9,1158.1L2977.5,1157.0L2978.1,1155.0L2978.7,1164.0L2979.2,1166.6L2979.8,1163.1L2980.4,1174.2L2980.9,1180.3L2981.5,1187.5L2982.1,1186.5L2982.6,1184.6L2983.2,1182.5L2983.8,1183.9L2984.4,1178.5L2984.9,1186.4L2985.5,1187.6L2986.1,1189.8L2986.6,1185.8L2987.2,1183.0L2987.8,1184.4L2988.3,1184.9L2988.9,1184.5L2989.5,1185.2L2990.0,1184.0L2990.6,1188.5L2991.2,1186.7L2991.8,1190.1L2992.3,1186.2L2992.9,1179.1L2993.5,1182.9L2994.0,1182.7L2994.6,1175.3L2995.2,1181.5L2995.8,1183.6L2996.3,1175.6L2996.9,1182.5L2997.5,1179.8L2998.0,1186.1L2998.6,1176.2L2999.2,1173.3L2999.7,1172.2L3000.3,1176.9L3000.9,1171.1L3001.5,1176.8L3002.0,1183.8L3002.6,1189.5L3003.2,1194.8L3003.7,1195.8L3004.3,1196.3L3004.9,1197.7L3005.4,1195.8L3006.0,1198.0L3006.6,1191.2L3007.2,1202.2L3007.7,1199.7L3008.3,1192.8L3008.9,1191.5L3009.4,1190.3L3010.0,1189.4L3010.6,1192.9L3011.1,1191.5L3011.7,1189.1L3012.3,1190.7L3012.9,1195.7L3013.4,1212.2L3014.0,1197.6L3014.6,1207.7L3015.1,1204.5L3015.7,1205.9L3016.3,1212.6L3016.8,1210.9L3017.4,1214.6L3018.0,1205.3L3018.5,1203.1L3019.1,1210.0L3019.7,1214.0L3020.3,1209.8L3020.8,1203.4L3021.4,1204.7L3022.0,1204.4L3022.5,1203.2L3023.1,1207.8L3023.7,1206.5L3024.2,1209.2L3024.8,1204.4L3025.4,1200.1L3026.0,1203.4L3026.5,1203.4L3027.1,1205.4L3027.7,1213.4L3028.2,1196.7L3028.8,1198.2L3029.4,1201.9L3030.0,1204.7L3030.5,1203.5L3031.1,1201.1L3031.7,1203.6L3032.2,1199.3L3032.8,1195.7L3033.4,1198.8L3033.9,1198.4L3034.5,1200.1L3035.1,1206.8L3035.7,1200.7L3036.2,1207.8L3036.8,1204.8L3037.4,1203.7L3037.9,1192.1L3038.5,1194.6L3039.1,1195.5L3039.6,1200.5L3040.2,1204.0L3040.8,1198.1L3041.4,1195.4L3041.9,1195.6L3042.5,1199.7L3043.1,1191.2L3043.6,1190.9L3044.2,1193.3L3044.8,1189.7L3045.3,1192.1L3045.9,1195.0L3046.5,1197.2L3047.0,1200.5L3047.6,1207.6L3048.2,1197.8L3048.8,1196.7L3049.3,1197.8L3049.9,1185.8L3050.5,1186.2L3051.0,1188.9L3051.6,1196.8L3052.2,1193.6L3052.8,1190.8L3053.3,1191.9L3053.9,1194.6L3054.5,1194.4L3055.0,1194.8L3055.6,1195.8L3056.2,1201.3L3056.7,1204.6L3057.3,1200.8L3057.9,1200.7L3058.5,1199.0L3059.0,1200.9L3059.6,1192.5L3060.2,1200.5L3060.7,1197.8L3061.3,1203.0L3061.9,1206.7L3062.4,1201.5L3063.0,1211.0L3063.6,1212.1L3064.2,1209.2L3064.7,1214.9L3065.3,1220.2L3065.9,1220.0L3066.4,1223.5L3067.0,1228.5L3067.6,1223.6L3068.1,1217.8L3068.7,1211.4L3069.3,1222.5L3069.9,1213.1L3070.4,1210.6L3071.0,1210.4L3071.6,1202.3L3072.1,1203.9L3072.7,1203.1L3073.3,1198.6L3073.8,1192.8L3074.4,1192.0L3075.0,1197.7L3075.5,1197.1L3076.1,1192.7L3076.7,1194.6L3077.3,1194.7L3077.8,1200.7L3078.4,1195.6L3079.0,1192.9L3079.5,1191.5L3080.1,1186.4L3080.7,1175.2L3081.2,1175.6L3081.8,1171.4L3082.4,1171.4L3083.0,1172.0L3083.5,1173.9L3084.1,1177.5L3084.7,1174.8L3085.2,1193.4L3085.8,1174.4L3086.4,1173.5L3087.0,1162.5L3087.5,1167.8L3088.1,1163.8L3088.7,1168.3L3089.2,1163.6L3089.8,1162.7L3090.4,1161.7L3090.9,1161.6L3091.5,1155.5L3092.1,1153.1L3092.7,1156.5L3093.2,1154.9L3093.8,1159.0L3094.4,1156.4L3094.9,1156.0L3095.5,1153.0L3096.1,1152.5L3096.6,1149.7L3097.2,1145.3L3097.8,1136.1L3098.4,1141.0L3098.9,1134.0L3099.5,1133.5L3100.1,1130.4L3100.6,1129.6L3101.2,1132.4L3101.8,1134.9L3102.3,1130.8L3102.9,1133.2L3103.5,1129.8L3104.0,1120.5L3104.6,1120.4L3105.2,1116.8L3105.8,1124.4L3106.3,1119.3L3106.9,1124.8L3107.5,1123.8L3108.0,1125.2L3108.6,1120.1L3109.2,1120.8L3109.8,1118.0L3110.3,1117.9L3110.9,1112.4L3111.5,1118.5L3112.0,1119.1L3112.6,1113.1L3113.2,1109.6L3113.7,1110.0L3114.3,1111.2L3114.9,1110.1L3115.5,1115.3L3116.0,1108.8L3116.6,1104.8L3117.2,1102.1L3117.7,1101.5L3118.3,1104.9L3118.9,1100.3L3119.4,1097.0L3120.0,1096.5L3120.6,1098.7L3121.2,1101.3L3121.7,1096.6L3122.3,1098.2L3122.9,1096.3L3123.4,1101.8L3124.0,1100.6L3124.6,1096.6L3125.1,1099.8L3125.7,1099.1L3126.3,1100.0L3126.9,1098.5L3127.4,1105.3L3128.0,1096.6L3128.6,1098.4L3129.1,1093.9L3129.7,1094.2L3130.3,1092.7L3130.8,1089.4L3131.4,1092.8L3132.0,1090.8L3132.5,1093.4L3133.1,1100.1L3133.7,1097.9L3134.3,1096.9L3134.8,1093.5L3135.4,1096.5L3136.0,1099.8L3136.5,1097.5L3137.1,1096.9L3137.7,1071.5L3138.2,1088.9L3138.8,1093.7L3139.4,1087.9L3140.0,1087.7L3140.5,1089.8L3141.1,1095.1L3141.7,1097.9L3142.2,1100.7L3142.8,1095.9L3143.4,1090.8L3144.0,1086.3L3144.5,1084.1L3145.1,1085.7L3145.7,1083.0L3146.2,1084.6L3146.8,1083.5L3147.4,1083.2L3147.9,1081.0L3148.5,1085.4L3149.1,1085.9L3149.7,1081.5L3150.2,1081.5L3150.8,1080.3L3151.4,1086.5L3151.9,1089.0L3152.5,1084.9L3153.1,1088.4L3153.6,1081.8L3154.2,1087.5L3154.8,1082.8L3155.4,1083.0L3155.9,1079.0L3156.5,1077.4L3157.1,1074.8L3157.6,1080.6L3158.2,1080.5L3158.8,1063.2L3159.3,1080.1L3159.9,1071.5L3160.5,1072.2L3161.0,1079.3L3161.6,1077.3L3162.2,1075.5L3162.8,1077.9L3163.3,1076.7L3163.9,1074.2L3164.5,1076.8L3165.0,1076.5L3165.6,1068.4L3166.2,1066.1L3166.8,1065.5L3167.3,1076.2L3167.9,1079.1L3168.5,1077.4L3169.0,1073.9L3169.6,1081.0L3170.2,1075.8L3170.7,1073.9L3171.3,1070.4L3171.9,1065.1L3172.5,1062.2L3173.0,1066.7L3173.6,1068.0L3174.2,1067.9L3174.7,1061.8L3175.3,1063.9L3175.9,1068.8L3176.4,1075.5L3177.0,1067.3L3177.6,1063.7L3178.2,1055.1L3178.7,1055.7L3179.3,1053.3L3179.9,1053.5L3180.4,1048.4L3181.0,1044.7L3181.6,1049.3L3182.1,1046.1L3182.7,1034.8L3183.3,1027.1L3183.9,1023.4L3184.4,1029.7L3185.0,1024.1L3185.6,1023.2L3186.1,1016.8L3186.7,1021.4L3187.3,1029.8L3187.8,1027.0L3188.4,1025.7L3189.0,1023.9L3189.5,1022.3L3190.1,1020.1L3190.7,1019.2L3191.3,1019.4L3191.8,1011.9L3192.4,1011.8L3193.0,1012.6L3193.5,1009.4L3194.1,1006.8L3194.7,1008.0L3195.2,1010.9L3195.8,1008.4L3196.4,1009.1L3197.0,1010.3L3197.5,1010.7L3198.1,1006.4L3198.7,1003.1L3199.2,1005.1L3199.8,1012.6L3200.4,1002.8L3201.0,994.8L3201.5,996.6L3202.1,996.2L3202.7,1002.1L3203.2,1007.6L3203.8,1010.5L3204.4,1009.6L3204.9,1007.3L3205.5,1013.5L3206.1,1016.1L3206.7,1019.5L3207.2,1025.2L3207.8,1019.7L3208.4,1018.4L3208.9,1023.3L3209.5,1022.0L3210.1,1021.2L3210.6,1025.8L3211.2,1033.9L3211.8,1033.7L3212.4,1033.3L3212.9,1038.9L3213.5,1044.9L3214.1,1054.8L3214.6,1053.3L3215.2,1060.9L3215.8,1069.6L3216.3,1060.5L3216.9,1058.7L3217.5,1062.3L3218.0,1073.3L3218.6,1072.9L3219.2,1079.1L3219.8,1080.0L3220.3,1082.1L3220.9,1078.6L3221.5,1082.2L3222.0,1087.5L3222.6,1092.9L3223.2,1109.7L3223.8,1095.6L3224.3,1096.6L3224.9,1099.7L3225.5,1100.6L3226.0,1095.8L3226.6,1096.2L3227.2,1098.0L3227.7,1096.4L3228.3,1091.0L3228.9,1092.9L3229.5,1093.3L3230.0,1096.6L3230.6,1094.6L3231.2,1099.1L3231.7,1103.7L3232.3,1108.1L3232.9,1111.0L3233.4,1115.5L3234.0,1117.7L3234.6,1121.2L3235.2,1131.9L3235.7,1120.1L3236.3,1117.7L3236.9,1114.1L3237.4,1112.3L3238.0,1117.0L3238.6,1125.7L3239.1,1122.0L3239.7,1125.8L3240.3,1125.6L3240.9,1120.5L3241.4,1118.7L3242.0,1128.2L3242.6,1125.5L3243.1,1127.1L3243.7,1122.6L3244.3,1132.1L3244.8,1140.7L3245.4,1139.2L3246.0,1131.2L3246.5,1144.9L3247.1,1138.7L3247.7,1134.5L3248.3,1140.7L3248.8,1141.0L3249.4,1138.1L3250.0,1144.2L3250.5,1139.4L3251.1,1142.9L3251.7,1132.1L3252.2,1131.7L3252.8,1135.9L3253.4,1137.7L3254.0,1141.5L3254.5,1128.2L3255.1,1124.8L3255.7,1127.1L3256.2,1132.0L3256.8,1131.4L3257.4,1135.5L3258.0,1130.0L3258.5,1131.6L3259.1,1130.5L3259.7,1125.3L3260.2,1130.3L3260.8,1128.6L3261.4,1122.8L3261.9,1125.0L3262.5,1123.1L3263.1,1122.8L3263.7,1116.9L3264.2,1120.1L3264.8,1122.2L3265.4,1128.1L3265.9,1127.1L3266.5,1128.1L3267.1,1136.8L3267.6,1131.8L3268.2,1133.9L3268.8,1134.0L3269.4,1157.2L3269.9,1130.9L3270.5,1129.2L3271.1,1134.2L3271.6,1130.0L3272.2,1132.0L3272.8,1130.7L3273.3,1133.4L3273.9,1131.7L3274.5,1134.5L3275.0,1127.2L3275.6,1132.7L3276.2,1137.1L3276.8,1128.0L3277.3,1134.3L3277.9,1127.6L3278.5,1130.9L3279.0,1141.4L3279.6,1142.8L3280.2,1147.6L3280.8,1143.2L3281.3,1144.3L3281.9,1146.7L3282.5,1148.5L3283.0,1142.3L3283.6,1144.5L3284.2,1159.4L3284.7,1153.0L3285.3,1159.8L3285.9,1164.0L3286.5,1164.4L3287.0,1165.2L3287.6,1172.1L3288.2,1173.6L3288.7,1173.0L3289.3,1172.0L3289.9,1167.6L3290.4,1166.7L3291.0,1164.8L3291.6,1164.5L3292.2,1174.6L3292.7,1161.5L3293.3,1163.6L3293.9,1161.5L3294.4,1152.2L3295.0,1160.9L3295.6,1163.7L3296.1,1167.4L3296.7,1161.9L3297.3,1168.6L3297.9,1167.1L3298.4,1168.5L3299.0,1173.0L3299.6,1173.6L3300.1,1176.1L3300.7,1175.7L3301.3,1178.3L3301.8,1176.8L3302.4,1171.2L3303.0,1176.3L3303.5,1174.4L3304.1,1177.2L3304.7,1176.0L3305.3,1178.8L3305.8,1173.9L3306.4,1173.6L3307.0,1171.7L3307.5,1173.7L3308.1,1174.7L3308.7,1174.2L3309.2,1180.6L3309.8,1179.6L3310.4,1178.9L3311.0,1172.5L3311.5,1165.6L3312.1,1171.7L3312.7,1175.1L3313.2,1178.7L3313.8,1173.1L3314.4,1171.7L3315.0,1173.6L3315.5,1170.1L3316.1,1168.5L3316.7,1165.8L3317.2,1163.3L3317.8,1159.0L3318.4,1161.8L3318.9,1156.3L3319.5,1166.7L3320.1,1166.9L3320.7,1164.3L3321.2,1158.9L3321.8,1163.8L3322.4,1165.0L3322.9,1168.8L3323.5,1164.3L3324.1,1163.1L3324.6,1166.5L3325.2,1168.5L3325.8,1172.4L3326.4,1165.7L3326.9,1162.4L3327.5,1160.3L3328.1,1156.4L3328.6,1154.5L3329.2,1158.6L3329.8,1155.6L3330.3,1150.2L3330.9,1156.7L3331.5,1156.8L3332.0,1160.1L3332.6,1163.5L3333.2,1155.7L3333.8,1163.9L3334.3,1160.4L3334.9,1145.6L3335.5,1156.5L3336.0,1162.2L3336.6,1160.1L3337.2,1155.8L3337.8,1150.7L3338.3,1150.1L3338.9,1151.1L3339.5,1152.6L3340.0,1154.7L3340.6,1157.9L3341.2,1158.0L3341.7,1166.1L3342.3,1165.9L3342.9,1169.7L3343.5,1167.1L3344.0,1172.1L3344.6,1177.0L3345.2,1174.7L3345.7,1176.4L3346.3,1176.1L3346.9,1188.0L3347.4,1172.9L3348.0,1181.6L3348.6,1181.9L3349.2,1181.9L3349.7,1178.1L3350.3,1177.1L3350.9,1180.2L3351.4,1176.9L3352.0,1182.3L3352.6,1184.3L3353.1,1187.5L3353.7,1178.4L3354.3,1187.6L3354.9,1190.8L3355.4,1192.7L3356.0,1191.1L3356.6,1191.7L3357.1,1201.7L3357.7,1203.1L3358.3,1201.8L3358.8,1205.9L3359.4,1202.4L3360.0,1195.1L3360.5,1199.3L3361.1,1198.0L3361.7,1203.7L3362.3,1193.7L3362.8,1191.3L3363.4,1187.7L3364.0,1185.9L3364.5,1180.4L3365.1,1180.5L3365.7,1181.1L3366.2,1186.1L3366.8,1183.3L3367.4,1186.3L3368.0,1186.1L3368.5,1185.6L3369.1,1185.1L3369.7,1186.3L3370.2,1186.2L3370.8,1181.6L3371.4,1186.2L3372.0,1180.5L3372.5,1173.1L3373.1,1185.9L3373.7,1181.3L3374.2,1182.3L3374.8,1185.8L3375.4,1193.0L3375.9,1187.4L3376.5,1182.9L3377.1,1182.3L3377.7,1181.7L3378.2,1181.6L3378.8,1184.6L3379.4,1189.0L3379.9,1189.2L3380.5,1191.5L3381.1,1183.7L3381.6,1192.2L3382.2,1192.8L3382.8,1188.8L3383.4,1188.2L3383.9,1189.9L3384.5,1187.7L3385.1,1189.1L3385.6,1181.6L3386.2,1180.3L3386.8,1182.3L3387.3,1182.6L3387.9,1177.4L3388.5,1181.2L3389.0,1176.8L3389.6,1180.7L3390.2,1184.2L3390.8,1188.0L3391.3,1190.5L3391.9,1191.9L3392.5,1189.1L3393.0,1182.0L3393.6,1182.1L3394.2,1178.4L3394.8,1181.4L3395.3,1179.7L3395.9,1179.9L3396.5,1184.3L3397.0,1189.9L3397.6,1199.0L3398.2,1194.0L3398.7,1189.8L3399.3,1193.8L3399.9,1182.8L3400.5,1187.9L3401.0,1189.8L3401.6,1191.2L3402.2,1190.2L3402.7,1189.4L3403.3,1192.3L3403.9,1185.4L3404.4,1186.5L3405.0,1185.3L3405.6,1190.7L3406.2,1190.3L3406.7,1192.5L3407.3,1196.5L3407.9,1190.8L3408.4,1198.2L3409.0,1203.3L3409.6,1205.6L3410.1,1205.4L3410.7,1208.9L3411.3,1212.6L3411.9,1203.3L3412.4,1207.7L3413.0,1208.1L3413.6,1204.3L3414.1,1207.7L3414.7,1204.1L3415.3,1209.3L3415.8,1203.5L3416.4,1205.7L3417.0,1211.9L3417.5,1213.3L3418.1,1212.7L3418.7,1213.9L3419.3,1213.8L3419.8,1219.0L3420.4,1221.4L3421.0,1212.2L3421.5,1217.5L3422.1,1216.3L3422.7,1212.2L3423.2,1215.3L3423.8,1208.8L3424.4,1218.4L3425.0,1214.8L3425.5,1217.6L3426.1,1220.8L3426.7,1226.9L3427.2,1227.7L3427.8,1226.6L3428.4,1232.7L3429.0,1233.9L3429.5,1243.3L3430.1,1244.9L3430.7,1238.6L3431.2,1236.3L3431.8,1234.7L3432.4,1239.3L3432.9,1242.3L3433.5,1236.6L3434.1,1241.9L3434.7,1240.1L3435.2,1240.2L3435.8,1236.8L3436.4,1238.5L3436.9,1236.6L3437.5,1238.3L3438.1,1235.6L3438.6,1235.5L3439.2,1236.2L3439.8,1236.1L3440.4,1229.0L3440.9,1232.5L3441.5,1231.0L3442.1,1228.9L3442.6,1220.5L3443.2,1223.2L3443.8,1224.5L3444.3,1224.6L3444.9,1218.7L3445.5,1231.5L3446.0,1227.1L3446.6,1231.4L3447.2,1232.7L3447.8,1233.8L3448.3,1232.4L3448.9,1231.2L3449.5,1226.2L3450.0,1219.5L3450.6,1230.6L3451.2,1228.7L3451.8,1232.7L3452.3,1226.4L3452.9,1233.6L3453.5,1227.8L3454.0,1222.1L3454.6,1219.5L3455.2,1217.2L3455.7,1216.0L3456.3,1211.3L3456.9,1202.2L3457.5,1198.0L3458.0,1201.3L3458.6,1200.8L3459.2,1198.8L3459.7,1201.8L3460.3,1202.1L3460.9,1202.8L3461.4,1197.3L3462.0,1198.7L3462.6,1202.6L3463.2,1198.9L3463.7,1188.4L3464.3,1183.3L3464.9,1185.6L3465.4,1183.6L3466.0,1176.3L3466.6,1171.4L3467.1,1161.6L3467.7,1156.9L3468.3,1158.1L3468.9,1157.8L3469.4,1156.6L3470.0,1162.2L3470.6,1154.4L3471.1,1151.0L3471.7,1142.7L3472.3,1140.6L3472.8,1143.6L3473.4,1141.7L3474.0,1144.5L3474.5,1142.7L3475.1,1143.9L3475.7,1145.3L3476.3,1148.4L3476.8,1147.8L3477.4,1139.4L3478.0,1137.5L3478.5,1140.1L3479.1,1129.5L3479.7,1135.4L3480.2,1133.2L3480.8,1136.4L3481.4,1135.5L3482.0,1130.3L3482.5,1131.4L3483.1,1129.2L3483.7,1130.5L3484.2,1125.8L3484.8,1120.5L3485.4,1117.2L3486.0,1116.1L3486.5,1113.6L3487.1,1109.6L3487.7,1105.5L3488.2,1105.0L3488.8,1095.3L3489.4,1084.8L3489.9,1088.6L3490.5,1081.6L3491.1,1087.4L3491.7,1088.8L3492.2,1079.9L3492.8,1082.4L3493.4,1078.1L3493.9,1079.1L3494.5,1067.9L3495.1,1063.0L3495.6,1059.6L3496.2,1060.3L3496.8,1058.5L3497.4,1061.1L3497.9,1064.9L3498.5,1068.8L3499.1,1072.1L3499.6,1062.9L3500.2,1066.8L3500.8,1060.1L3501.3,1061.7L3501.9,1064.9L3502.5,1059.1L3503.0,1064.8L3503.6,1080.8L3504.2,1068.6L3504.8,1069.9L3505.3,1061.3L3505.9,1060.0L3506.5,1059.2L3507.0,1051.2L3507.6,1055.1L3508.2,1055.4L3508.8,1062.6L3509.3,1055.0L3509.9,1053.9L3510.5,1061.9L3511.0,1058.7L3511.6,1060.3L3512.2,1051.9L3512.7,1057.4L3513.3,1053.2L3513.9,1058.8L3514.5,1055.8L3515.0,1059.4L3515.6,1052.5L3516.2,1050.7L3516.7,1045.1L3517.3,1052.4L3517.9,1050.0L3518.4,1050.9L3519.0,1047.8L3519.6,1047.6L3520.2,1043.3L3520.7,1048.2L3521.3,1035.2L3521.9,1042.4L3522.4,1039.6L3523.0,1046.2L3523.6,1047.6L3524.1,1049.8L3524.7,1046.6L3525.3,1047.9L3525.9,1041.9L3526.4,1041.5L3527.0,1041.9L3527.6,1036.8L3528.1,1032.5L3528.7,1038.1L3529.3,1037.2L3529.8,1037.2L3530.4,1048.1L3531.0,1050.1L3531.5,1047.2L3532.1,1058.9L3532.7,1047.9L3533.3,1045.8L3533.8,1053.3L3534.4,1055.6L3535.0,1054.4L3535.5,1047.0L3536.1,1056.5L3536.7,1054.4L3537.2,1045.9L3537.8,1051.4L3538.4,1064.4L3539.0,1072.5L3539.5,1069.7L3540.1,1066.2L3540.7,1064.2L3541.2,1068.5L3541.8,1071.4L3542.4,1068.3L3543.0,1070.0L3543.5,1070.0L3544.1,1073.3L3544.7,1068.5L3545.2,1067.5L3545.8,1064.0L3546.4,1064.4L3546.9,1060.9L3547.5,1066.0L3548.1,1067.5L3548.7,1065.9L3549.2,1068.3L3549.8,1068.4L3550.4,1065.5L3550.9,1066.3L3551.5,1071.1L3552.1,1066.8L3552.6,1060.4L3553.2,1055.1L3553.8,1054.8L3554.4,1058.3L3554.9,1060.7L3555.5,1060.2L3556.1,1060.9L3556.6,1062.7" stroke="#0000ff" stroke-width="6.25" fill="none" stroke-linejoin="round" stroke-linecap="butt" clip-path="url(#c1)"/>
<rect x="302.5" y="856.36" width="3250.0" height="581.9999999999999" stroke="#000" stroke-width="3.333" fill="none" stroke-linejoin="miter"/>
<path d="M302.50,1438.36v14.58M872.50,1438.36v14.58M1442.50,1438.36v14.58M2012.50,1438.36v14.58M2582.50,1438.36v14.58M3152.50,1438.36v14.58M302.50,999.50h-14.58M302.50,1147.50h-14.58M302.50,1295.50h-14.58" stroke="#000" stroke-width="3.333" fill="none"/>
<text x="290.28" y="1498.06" font-family="Liberation Sans, sans-serif" font-size="44.15" textLength="24.43" lengthAdjust="spacingAndGlyphs">0</text>
<text x="847.08" y="1498.06" font-family="Liberation Sans, sans-serif" font-size="44.15" textLength="50.95" lengthAdjust="spacingAndGlyphs">10</text>
<text x="1416.72" y="1498.06" font-family="Liberation Sans, sans-serif" font-size="44.15" textLength="51.32" lengthAdjust="spacingAndGlyphs">20</text>
<text x="1987.43" y="1498.06" font-family="Liberation Sans, sans-serif" font-size="44.15" textLength="50.59" lengthAdjust="spacingAndGlyphs">30</text>
<text x="2556.97" y="1498.06" font-family="Liberation Sans, sans-serif" font-size="44.15" textLength="51.06" lengthAdjust="spacingAndGlyphs">40</text>
<text x="3127.38" y="1498.06" font-family="Liberation Sans, sans-serif" font-size="44.15" textLength="50.64" lengthAdjust="spacingAndGlyphs">50</text>
<text x="153.94" y="1013.90" font-family="Liberation Sans, sans-serif" font-size="44.15" textLength="116.53" lengthAdjust="spacingAndGlyphs">0.002</text>
<text x="153.93" y="1161.90" font-family="Liberation Sans, sans-serif" font-size="44.15" textLength="117.44" lengthAdjust="spacingAndGlyphs">0.000</text>
<rect x="122.52" y="1295.11" width="26.08" height="3.46" fill="#000"/>
<text x="153.94" y="1309.90" font-family="Liberation Sans, sans-serif" font-size="44.15" textLength="116.53" lengthAdjust="spacingAndGlyphs">0.002</text>
<text x="1806.36" y="1568.86" font-family="Liberation Sans, sans-serif" font-size="61.81" textLength="239.68" lengthAdjust="spacingAndGlyphs">Time (s)</text>
<g transform="translate(88.9,1147.36) rotate(-90)"><text x="-218.02" y="0.00" font-family="Liberation Sans, sans-serif" font-size="61.81" textLength="435.30" lengthAdjust="spacingAndGlyphs">Velocity (cm/s)</text></g>
<path d="M302.50,1631.36V2212.36M872.50,1631.36V2212.36M1442.50,1631.36V2212.36M2012.50,1631.36V2212.36M2582.50,1631.36V2212.36M3152.50,1631.36V2212.36M302.50,1769.54H3552.50M302.50,1922.04H3552.50M302.50,2074.54H3552.50" stroke="#b0b0b0" stroke-width="3.333" fill="none" stroke-linecap="butt"/>
<path d="M302.5,1953.3L304.5,1950.5L306.5,1938.6L308.5,1935.4L310.5,1935.7L312.5,1935.6L314.5,1938.2L316.5,1937.9L318.5,1933.8L320.5,1930.7L322.5,1924.3L324.5,1922.3L326.5,1922.1L328.5,1922.5L330.5,1920.7L332.5,1920.3L334.5,1913.9L336.5,1912.0L338.5,1903.5L340.5,1902.1L342.5,1892.2L344.5,1896.3L346.5,1890.9L348.5,1889.0L350.5,1889.8L352.5,1883.7L354.5,1888.7L356.5,1888.1L358.5,1887.8L360.5,1893.5L362.5,1889.3L364.5,1891.9L366.5,1891.3L368.5,1890.6L370.5,1894.5L372.5,1893.5L374.5,1890.4L376.5,1891.5L378.5,1891.8L380.5,1893.2L382.5,1888.7L384.5,1886.8L386.5,1889.5L388.5,1893.5L390.5,1895.3L392.5,1901.6L394.5,1902.5L396.5,1904.2L398.5,1903.1L400.5,1909.9L402.5,1912.1L404.5,1914.9L406.5,1920.2L408.5,1923.5L410.5,1921.6L412.5,1928.6L414.5,1931.1L416.5,1933.9L418.5,1937.8L420.5,1940.9L422.5,1945.6L424.5,1947.5L426.5,1943.7L428.5,1947.6L430.5,1946.5L432.5,1948.7L434.5,1953.3L436.5,1954.9L438.5,1954.8L440.5,1961.6L442.5,1959.0L444.5,1963.7L446.5,1966.1L448.5,1968.0L450.5,1968.6L452.5,1970.2L454.5,1967.3L456.5,1967.4L458.5,1967.5L460.5,1967.1L462.5,1966.0L464.5,1968.0L466.5,1966.7L468.5,1969.8L470.5,1970.2L472.5,1970.2L474.5,1965.3L476.5,1963.5L478.5,1962.2L480.5,1959.8L482.5,1962.0L484.5,1963.8L486.5,1968.5L488.5,1968.1L490.5,1968.6L492.5,1965.1L494.5,1964.9L496.5,1964.4L498.5,1961.9L500.5,1958.8L502.5,1961.2L504.5,1958.3L506.5,1954.4L508.5,1948.8L510.5,1950.0L512.5,1946.4L514.5,1947.3L516.5,1943.7L518.5,1945.6L520.5,1944.3L522.5,1943.8L524.5,1940.2L526.5,1937.0L528.5,1936.2L530.5,1930.8L532.5,1930.8L534.5,1927.6L536.5,1919.5L538.5,1918.4L540.5,1914.5L542.5,1907.4L544.5,1906.9L546.5,1905.7L548.5,1899.2L550.5,1897.8L552.5,1893.8L554.5,1888.8L556.5,1891.9L558.5,1890.3L560.5,1888.6L562.5,1892.9L564.5,1888.2L566.5,1888.0L568.5,1883.7L570.5,1887.1L572.5,1882.4L574.5,1884.3L576.5,1879.1L578.5,1876.8L580.5,1877.4L582.5,1873.2L584.5,1872.1L586.5,1871.1L588.5,1872.7L590.5,1865.4L592.5,1864.9L594.5,1862.8L596.5,1864.6L598.5,1866.1L600.5,1866.2L602.5,1869.0L604.5,1861.7L606.5,1861.2L608.5,1861.2L610.5,1855.8L612.5,1859.2L614.5,1857.0L616.5,1856.0L618.5,1862.4L620.5,1861.8L622.5,1865.1L624.5,1864.8L626.5,1870.0L628.5,1870.6L630.5,1872.2L632.5,1878.7L634.5,1881.5L636.5,1885.1L638.5,1888.9L640.5,1891.1L642.5,1898.5L644.5,1894.0L646.5,1899.3L648.5,1901.8L650.5,1904.6L652.5,1909.4L654.5,1907.4L656.5,1909.1L658.5,1911.4L660.5,1912.0L662.5,1912.9L664.5,1912.4L666.5,1914.2L668.5,1914.5L670.5,1916.7L672.5,1918.8L674.5,1915.1L676.5,1916.7L678.5,1915.3L680.5,1912.4L682.5,1908.0L684.5,1911.7L686.5,1908.2L688.5,1906.9L690.5,1901.3L692.5,1892.8L694.5,1892.2L696.5,1888.9L698.5,1887.0L700.5,1886.4L702.5,1885.5L704.5,1883.2L706.5,1880.4L708.5,1878.1L710.5,1878.3L712.5,1878.1L714.5,1873.4L716.5,1874.5L718.5,1871.5L720.5,1874.1L722.5,1875.2L724.5,1877.9L726.5,1877.4L728.5,1876.5L730.5,1879.5L732.5,1882.1L734.5,1881.6L736.5,1882.8L738.5,1887.6L740.5,1888.9L742.5,1892.9L744.5,1896.3L746.5,1901.5L748.5,1907.8L750.5,1911.6L752.5,1921.4L754.5,1923.5L756.5,1929.1L758.5,1934.9L760.5,1939.3L762.5,1940.5L764.5,1945.9L766.5,1950.8L768.5,1952.8L770.5,1956.9L772.5,1960.7L774.5,1965.8L776.5,1971.0L778.5,1969.5L780.5,1969.8L782.5,1973.5L784.5,1974.8L786.5,1978.6L788.5,1977.7L790.5,1979.9L792.5,1981.5L794.5,1981.1L796.5,1983.3L798.5,1984.4L800.5,1985.7L802.5,1990.0L804.5,1990.1L806.5,1990.0L808.5,1994.4L810.5,1992.4L812.5,1994.7L814.5,1997.8L816.5,1995.3L818.5,1998.3L820.5,1993.5L822.5,1996.7L824.5,1995.2L826.5,1996.3L828.5,1998.2L830.5,1998.7L832.5,1999.9L834.5,2000.7L836.5,2001.6L838.5,2002.4L840.5,2004.4L842.5,1999.3L844.5,2002.1L846.5,1997.3L848.5,1994.4L850.5,1992.7L852.5,1991.6L854.5,1989.2L856.5,1989.0L858.5,1985.3L860.5,1983.2L862.5,1986.3L864.5,1984.7L866.5,1983.4L868.5,1981.8L870.5,1979.7L872.5,1976.1L874.5,1978.5L876.5,1973.9L878.5,1974.5L880.5,1970.8L882.5,1971.5L884.5,1968.7L886.5,1968.2L888.5,1970.7L890.5,1968.0L892.5,1968.4L894.5,1968.6L896.5,1968.5L898.5,1965.8L900.5,1962.2L902.5,1958.9L904.5,1955.1L906.5,1952.8L908.5,1946.6L910.5,1946.5L912.5,1946.8L914.5,1943.2L916.5,1944.4L918.5,1945.1L920.5,1945.2L922.5,1951.5L924.5,1951.8L926.5,1951.6L928.5,1954.4L930.5,1951.8L932.5,1955.9L934.5,1957.9L936.5,1957.9L938.5,1957.0L940.5,1958.4L942.5,1959.6L944.5,1956.8L946.5,1961.0L948.5,1958.9L950.5,1960.6L952.5,1963.4L954.5,1967.0L956.5,1965.2L958.5,1967.8L960.5,1968.8L962.5,1968.8L964.5,1966.4L966.5,1965.1L968.5,1964.6L970.5,1963.1L972.5,1959.9L974.5,1959.6L976.5,1955.2L978.5,1955.8L980.5,1951.6L982.5,1947.5L984.5,1946.9L986.5,1941.3L988.5,1940.6L990.5,1938.9L992.5,1935.5L994.5,1932.0L996.5,1930.5L998.5,1926.1L1000.5,1923.2L1002.5,1918.9L1004.5,1914.6L1006.5,1912.2L1008.5,1905.4L1010.5,1900.5L1012.5,1895.2L1014.5,1893.0L1016.5,1887.8L1018.5,1884.6L1020.5,1883.2L1022.5,1877.1L1024.5,1874.3L1026.5,1868.7L1028.5,1866.0L1030.5,1858.0L1032.5,1856.7L1034.5,1848.3L1036.5,1840.7L1038.5,1837.3L1040.5,1830.1L1042.5,1824.5L1044.5,1818.0L1046.5,1811.2L1048.5,1804.0L1050.5,1797.0L1052.5,1791.7L1054.5,1789.0L1056.5,1782.4L1058.5,1779.0L1060.5,1776.2L1062.5,1770.1L1064.5,1765.1L1066.5,1756.7L1068.5,1749.3L1070.5,1741.5L1072.5,1737.7L1074.5,1728.5L1076.5,1720.7L1078.5,1713.8L1080.5,1706.6L1082.5,1702.4L1084.5,1701.1L1086.5,1698.9L1088.5,1695.6L1090.5,1694.9L1092.5,1697.0L1094.5,1698.1L1096.5,1699.7L1098.5,1699.5L1100.5,1700.9L1102.5,1701.1L1104.5,1705.2L1106.5,1706.5L1108.5,1708.1L1110.5,1709.2L1112.5,1715.1L1114.5,1719.7L1116.5,1727.7L1118.5,1735.0L1120.5,1741.1L1122.5,1750.1L1124.5,1757.3L1126.5,1766.4L1128.5,1773.7L1130.5,1779.0L1132.5,1787.8L1134.5,1794.1L1136.5,1801.6L1138.5,1810.7L1140.5,1819.7L1142.5,1828.8L1144.5,1838.8L1146.5,1848.8L1148.5,1857.0L1150.5,1864.3L1152.5,1870.4L1154.5,1878.1L1156.5,1884.2L1158.5,1892.1L1160.5,1902.0L1162.5,1911.6L1164.5,1921.2L1166.5,1932.0L1168.5,1941.9L1170.5,1950.0L1172.5,1957.6L1174.5,1965.3L1176.5,1972.7L1178.5,1980.5L1180.5,1987.7L1182.5,1996.6L1184.5,2002.9L1186.5,2010.7L1188.5,2017.0L1190.5,2021.4L1192.5,2026.9L1194.5,2032.2L1196.5,2036.8L1198.5,2040.8L1200.5,2043.6L1202.5,2047.3L1204.5,2049.4L1206.5,2051.2L1208.5,2053.9L1210.5,2055.5L1212.5,2057.3L1214.5,2060.3L1216.5,2061.1L1218.5,2063.0L1220.5,2063.6L1222.5,2066.0L1224.5,2067.4L1226.5,2069.7L1228.5,2070.5L1230.5,2071.6L1232.5,2071.8L1234.5,2073.0L1236.5,2074.1L1238.5,2076.1L1240.5,2075.4L1242.5,2076.3L1244.5,2077.2L1246.5,2077.9L1248.5,2078.4L1250.5,2077.6L1252.5,2077.0L1254.5,2076.1L1256.5,2075.8L1258.5,2074.0L1260.5,2073.3L1262.5,2072.3L1264.5,2071.5L1266.5,2070.3L1268.5,2069.0L1270.5,2067.3L1272.5,2064.7L1274.5,2063.2L1276.5,2061.0L1278.5,2058.1L1280.5,2054.3L1282.5,2051.2L1284.5,2048.0L1286.5,2043.5L1288.5,2038.5L1290.5,2034.5L1292.5,2028.8L1294.5,2023.0L1296.5,2017.1L1298.5,2011.3L1300.5,2005.7L1302.5,2000.5L1304.5,1994.9L1306.5,1989.7L1308.5,1984.9L1310.5,1980.3L1312.5,1976.5L1314.5,1972.0L1316.5,1969.3L1318.5,1965.5L1320.5,1961.6L1322.5,1958.5L1324.5,1954.0L1326.5,1949.8L1328.5,1946.3L1330.5,1940.5L1332.5,1936.3L1334.5,1932.4L1336.5,1927.8L1338.5,1924.7L1340.5,1923.3L1342.5,1920.7L1344.5,1918.7L1346.5,1917.9L1348.5,1917.2L1350.5,1915.4L1352.5,1914.1L1354.5,1911.7L1356.5,1910.4L1358.5,1908.6L1360.5,1907.1L1362.5,1905.4L1364.5,1903.4L1366.5,1902.1L1368.5,1900.6L1370.5,1900.0L1372.5,1900.4L1374.5,1900.0L1376.5,1901.9L1378.5,1902.4L1380.5,1904.4L1382.5,1906.8L1384.5,1910.1L1386.5,1911.9L1388.5,1913.8L1390.5,1916.4L1392.5,1918.1L1394.5,1919.7L1396.5,1921.6L1398.5,1923.1L1400.5,1924.7L1402.5,1927.1L1404.5,1929.8L1406.5,1933.1L1408.5,1936.4L1410.5,1939.8L1412.5,1943.8L1414.5,1945.7L1416.5,1948.7L1418.5,1951.6L1420.5,1953.4L1422.5,1955.8L1424.5,1958.5L1426.5,1960.2L1428.5,1963.3L1430.5,1965.8L1432.5,1968.0L1434.5,1970.9L1436.5,1973.8L1438.5,1977.4L1440.5,1980.9L1442.5,1984.8L1444.5,1987.5L1446.5,1990.1L1448.5,1989.9L1450.5,1990.2L1452.5,1989.9L1454.5,1989.0L1456.5,1988.1L1458.5,1986.0L1460.5,1984.0L1462.5,1983.8L1464.5,1981.8L1466.5,1981.0L1468.5,1980.6L1470.5,1980.0L1472.5,1976.9L1474.5,1976.0L1476.5,1972.3L1478.5,1968.0L1480.5,1962.5L1482.5,1957.0L1484.5,1950.9L1486.5,1946.4L1488.5,1941.1L1490.5,1936.7L1492.5,1931.7L1494.5,1927.7L1496.5,1923.8L1498.5,1917.9L1500.5,1912.5L1502.5,1905.2L1504.5,1898.5L1506.5,1890.7L1508.5,1883.5L1510.5,1876.9L1512.5,1869.1L1514.5,1862.0L1516.5,1855.2L1518.5,1847.1L1520.5,1839.0L1522.5,1830.6L1524.5,1823.0L1526.5,1816.1L1528.5,1808.7L1530.5,1801.5L1532.5,1794.7L1534.5,1788.7L1536.5,1783.2L1538.5,1778.5L1540.5,1772.8L1542.5,1768.8L1544.5,1765.2L1546.5,1761.8L1548.5,1759.3L1550.5,1756.3L1552.5,1753.9L1554.5,1751.2L1556.5,1749.9L1558.5,1748.6L1560.5,1747.5L1562.5,1746.8L1564.5,1745.1L1566.5,1744.8L1568.5,1744.5L1570.5,1744.4L1572.5,1744.4L1574.5,1746.0L1576.5,1746.3L1578.5,1747.7L1580.5,1749.8L1582.5,1752.2L1584.5,1754.8L1586.5,1756.9L1588.5,1759.8L1590.5,1760.6L1592.5,1762.2L1594.5,1762.4L1596.5,1763.8L1598.5,1763.9L1600.5,1763.7L1602.5,1764.3L1604.5,1763.4L1606.5,1763.8L1608.5,1763.3L1610.5,1763.0L1612.5,1763.4L1614.5,1764.4L1616.5,1764.0L1618.5,1765.3L1620.5,1765.9L1622.5,1767.0L1624.5,1767.6L1626.5,1768.7L1628.5,1770.1L1630.5,1772.0L1632.5,1774.6L1634.5,1776.7L1636.5,1778.7L1638.5,1781.6L1640.5,1785.8L1642.5,1790.4L1644.5,1796.1L1646.5,1803.4L1648.5,1811.4L1650.5,1818.9L1652.5,1826.8L1654.5,1835.7L1656.5,1843.8L1658.5,1853.5L1660.5,1861.6L1662.5,1870.4L1664.5,1878.9L1666.5,1887.7L1668.5,1897.2L1670.5,1906.5L1672.5,1916.5L1674.5,1927.2L1676.5,1937.3L1678.5,1948.3L1680.5,1958.2L1682.5,1967.6L1684.5,1976.3L1686.5,1986.0L1688.5,1995.1L1690.5,2002.4L1692.5,2010.9L1694.5,2017.5L1696.5,2024.0L1698.5,2030.6L1700.5,2038.7L1702.5,2046.3L1704.5,2054.5L1706.5,2064.2L1708.5,2073.3L1710.5,2081.8L1712.5,2089.3L1714.5,2095.2L1716.5,2100.6L1718.5,2104.5L1720.5,2107.2L1722.5,2109.0L1724.5,2111.1L1726.5,2112.2L1728.5,2113.2L1730.5,2114.7L1732.5,2115.8L1734.5,2117.1L1736.5,2117.1L1738.5,2117.4L1740.5,2118.5L1742.5,2118.1L1744.5,2118.7L1746.5,2118.4L1748.5,2117.3L1750.5,2116.5L1752.5,2114.6L1754.5,2112.0L1756.5,2109.8L1758.5,2107.3L1760.5,2105.5L1762.5,2102.0L1764.5,2098.2L1766.5,2094.3L1768.5,2090.2L1770.5,2086.1L1772.5,2081.5L1774.5,2076.5L1776.5,2071.4L1778.5,2066.3L1780.5,2061.3L1782.5,2056.8L1784.5,2052.5L1786.5,2048.8L1788.5,2045.1L1790.5,2042.2L1792.5,2039.7L1794.5,2037.2L1796.5,2034.5L1798.5,2032.3L1800.5,2030.6L1802.5,2027.4L1804.5,2024.6L1806.5,2021.4L1808.5,2017.5L1810.5,2013.1L1812.5,2008.3L1814.5,2004.1L1816.5,1999.2L1818.5,1993.7L1820.5,1988.4L1822.5,1984.4L1824.5,1978.1L1826.5,1972.5L1828.5,1968.1L1830.5,1962.9L1832.5,1956.9L1834.5,1954.5L1836.5,1952.2L1838.5,1948.0L1840.5,1945.2L1842.5,1941.6L1844.5,1937.7L1846.5,1934.2L1848.5,1929.5L1850.5,1925.1L1852.5,1921.6L1854.5,1917.9L1856.5,1914.5L1858.5,1910.2L1860.5,1908.5L1862.5,1905.0L1864.5,1903.2L1866.5,1900.7L1868.5,1899.4L1870.5,1897.5L1872.5,1896.2L1874.5,1894.9L1876.5,1893.2L1878.5,1891.1L1880.5,1888.2L1882.5,1885.8L1884.5,1882.3L1886.5,1879.7L1888.5,1877.8L1890.5,1874.5L1892.5,1871.4L1894.5,1868.5L1896.5,1864.9L1898.5,1863.0L1900.5,1860.1L1902.5,1858.6L1904.5,1856.7L1906.5,1853.7L1908.5,1852.2L1910.5,1850.3L1912.5,1847.3L1914.5,1844.8L1916.5,1843.0L1918.5,1840.0L1920.5,1837.2L1922.5,1834.5L1924.5,1831.3L1926.5,1828.6L1928.5,1825.8L1930.5,1822.7L1932.5,1819.1L1934.5,1816.3L1936.5,1813.6L1938.5,1810.3L1940.5,1806.7L1942.5,1804.7L1944.5,1802.5L1946.5,1801.1L1948.5,1800.6L1950.5,1800.4L1952.5,1798.5L1954.5,1797.6L1956.5,1797.7L1958.5,1797.0L1960.5,1797.9L1962.5,1798.7L1964.5,1799.3L1966.5,1799.8L1968.5,1801.1L1970.5,1801.4L1972.5,1802.4L1974.5,1803.6L1976.5,1805.2L1978.5,1807.6L1980.5,1809.9L1982.5,1813.1L1984.5,1817.2L1986.5,1820.9L1988.5,1825.8L1990.5,1830.3L1992.5,1836.2L1994.5,1842.5L1996.5,1847.8L1998.5,1851.4L2000.5,1855.9L2002.5,1858.5L2004.5,1861.5L2006.5,1864.5L2008.5,1866.6L2010.5,1869.6L2012.5,1872.0L2014.5,1874.8L2016.5,1878.1L2018.5,1881.3L2020.5,1885.6L2022.5,1888.9L2024.5,1892.0L2026.5,1894.8L2028.5,1897.0L2030.5,1898.1L2032.5,1899.8L2034.5,1901.6L2036.5,1902.8L2038.5,1904.4L2040.5,1906.4L2042.5,1908.6L2044.5,1911.4L2046.5,1913.3L2048.5,1915.3L2050.5,1918.0L2052.5,1918.3L2054.5,1921.6L2056.5,1922.9L2058.5,1924.4L2060.5,1927.3L2062.5,1930.4L2064.5,1934.0L2066.5,1940.1L2068.5,1945.5L2070.5,1951.6L2072.5,1957.0L2074.5,1961.3L2076.5,1967.4L2078.5,1971.2L2080.5,1974.5L2082.5,1978.2L2084.5,1981.0L2086.5,1984.5L2088.5,1986.8L2090.5,1989.0L2092.5,1992.5L2094.5,1993.5L2096.5,1996.7L2098.5,1999.6L2100.5,2001.9L2102.5,2003.8L2104.5,2005.4L2106.5,2006.5L2108.5,2007.1L2110.5,2007.1L2112.5,2007.3L2114.5,2007.7L2116.5,2007.3L2118.5,2009.0L2120.5,2009.9L2122.5,2011.5L2124.5,2012.2L2126.5,2012.0L2128.5,2011.6L2130.5,2011.0L2132.5,2009.9L2134.5,2008.9L2136.5,2008.2L2138.5,2006.9L2140.5,2005.7L2142.5,2005.8L2144.5,2004.6L2146.5,2004.6L2148.5,2003.3L2150.5,2002.7L2152.5,2002.8L2154.5,2001.0L2156.5,2000.6L2158.5,2000.7L2160.5,1999.8L2162.5,1998.1L2164.5,1997.3L2166.5,1996.1L2168.5,1993.9L2170.5,1992.3L2172.5,1990.2L2174.5,1988.1L2176.5,1986.2L2178.5,1984.3L2180.5,1982.5L2182.5,1980.2L2184.5,1978.1L2186.5,1976.2L2188.5,1973.8L2190.5,1971.5L2192.5,1969.9L2194.5,1966.7L2196.5,1963.7L2198.5,1960.1L2200.5,1956.0L2202.5,1952.4L2204.5,1949.6L2206.5,1945.2L2208.5,1942.6L2210.5,1940.4L2212.5,1937.3L2214.5,1935.3L2216.5,1931.8L2218.5,1929.5L2220.5,1927.6L2222.5,1924.1L2224.5,1921.2L2226.5,1917.8L2228.5,1913.4L2230.5,1909.4L2232.5,1905.3L2234.5,1901.6L2236.5,1898.7L2238.5,1895.1L2240.5,1890.4L2242.5,1886.2L2244.5,1881.1L2246.5,1876.0L2248.5,1871.6L2250.5,1867.5L2252.5,1864.2L2254.5,1860.5L2256.5,1856.5L2258.5,1854.7L2260.5,1851.8L2262.5,1849.7L2264.5,1848.3L2266.5,1847.6L2268.5,1846.2L2270.5,1845.3L2272.5,1845.0L2274.5,1844.2L2276.5,1844.7L2278.5,1845.0L2280.5,1845.1L2282.5,1845.8L2284.5,1845.3L2286.5,1845.3L2288.5,1845.5L2290.5,1844.7L2292.5,1844.2L2294.5,1844.8L2296.5,1844.0L2298.5,1843.5L2300.5,1843.3L2302.5,1842.9L2304.5,1843.8L2306.5,1843.4L2308.5,1842.9L2310.5,1843.7L2312.5,1842.5L2314.5,1843.7L2316.5,1844.2L2318.5,1845.3L2320.5,1846.1L2322.5,1848.2L2324.5,1849.2L2326.5,1850.3L2328.5,1851.9L2330.5,1852.2L2332.5,1853.6L2334.5,1854.4L2336.5,1856.0L2338.5,1856.5L2340.5,1858.5L2342.5,1859.8L2344.5,1861.3L2346.5,1862.0L2348.5,1865.0L2350.5,1866.1L2352.5,1868.4L2354.5,1870.5L2356.5,1872.5L2358.5,1874.4L2360.5,1877.1L2362.5,1879.6L2364.5,1881.3L2366.5,1882.5L2368.5,1885.9L2370.5,1888.2L2372.5,1890.2L2374.5,1892.8L2376.5,1895.7L2378.5,1897.8L2380.5,1900.4L2382.5,1903.0L2384.5,1905.6L2386.5,1906.9L2388.5,1909.3L2390.5,1911.3L2392.5,1913.7L2394.5,1915.9L2396.5,1919.4L2398.5,1922.1L2400.5,1925.7L2402.5,1929.6L2404.5,1933.5L2406.5,1937.3L2408.5,1941.4L2410.5,1946.2L2412.5,1950.4L2414.5,1955.3L2416.5,1959.8L2418.5,1964.3L2420.5,1969.2L2422.5,1973.5L2424.5,1977.9L2426.5,1982.2L2428.5,1985.4L2430.5,1988.6L2432.5,1991.5L2434.5,1993.3L2436.5,1995.1L2438.5,1996.5L2440.5,1998.0L2442.5,1999.2L2444.5,2000.1L2446.5,2000.8L2448.5,2001.6L2450.5,2002.3L2452.5,2002.8L2454.5,2002.2L2456.5,2002.7L2458.5,2002.6L2460.5,2002.6L2462.5,2001.0L2464.5,2001.0L2466.5,2000.6L2468.5,1999.6L2470.5,1999.0L2472.5,1997.5L2474.5,1997.0L2476.5,1994.9L2478.5,1994.6L2480.5,1992.9L2482.5,1992.0L2484.5,1990.9L2486.5,1988.9L2488.5,1987.1L2490.5,1986.2L2492.5,1983.8L2494.5,1981.7L2496.5,1979.2L2498.5,1977.2L2500.5,1976.2L2502.5,1973.8L2504.5,1971.5L2506.5,1969.1L2508.5,1966.8L2510.5,1964.4L2512.5,1961.9L2514.5,1959.7L2516.5,1957.7L2518.5,1954.6L2520.5,1953.1L2522.5,1950.5L2524.5,1949.4L2526.5,1947.7L2528.5,1946.2L2530.5,1945.4L2532.5,1944.1L2534.5,1943.8L2536.5,1942.4L2538.5,1941.3L2540.5,1941.4L2542.5,1940.6L2544.5,1940.6L2546.5,1940.2L2548.5,1939.3L2550.5,1937.7L2552.5,1936.4L2554.5,1936.0L2556.5,1935.4L2558.5,1934.0L2560.5,1933.0L2562.5,1932.2L2564.5,1931.2L2566.5,1930.8L2568.5,1929.2L2570.5,1929.1L2572.5,1927.8L2574.5,1927.3L2576.5,1927.3L2578.5,1927.0L2580.5,1925.9L2582.5,1925.6L2584.5,1925.1L2586.5,1924.7L2588.5,1924.0L2590.5,1922.6L2592.5,1921.5L2594.5,1920.3L2596.5,1918.9L2598.5,1917.2L2600.5,1915.9L2602.5,1914.0L2604.5,1912.8L2606.5,1911.8L2608.5,1910.2L2610.5,1908.8L2612.5,1907.6L2614.5,1906.6L2616.5,1905.9L2618.5,1904.4L2620.5,1903.0L2622.5,1901.2L2624.5,1898.2L2626.5,1895.8L2628.5,1893.0L2630.5,1888.8L2632.5,1885.3L2634.5,1881.6L2636.5,1876.6L2638.5,1872.2L2640.5,1868.5L2642.5,1864.8L2644.5,1861.7L2646.5,1858.2L2648.5,1855.5L2650.5,1852.6L2652.5,1849.9L2654.5,1845.9L2656.5,1843.5L2658.5,1840.3L2660.5,1838.4L2662.5,1836.1L2664.5,1834.9L2666.5,1833.4L2668.5,1833.5L2670.5,1833.6L2672.5,1834.4L2674.5,1836.7L2676.5,1839.1L2678.5,1842.0L2680.5,1844.8L2682.5,1848.8L2684.5,1851.8L2686.5,1855.4L2688.5,1859.2L2690.5,1862.7L2692.5,1865.7L2694.5,1870.1L2696.5,1872.9L2698.5,1878.0L2700.5,1881.1L2702.5,1885.3L2704.5,1889.0L2706.5,1892.7L2708.5,1896.1L2710.5,1899.8L2712.5,1903.0L2714.5,1906.1L2716.5,1909.7L2718.5,1912.0L2720.5,1913.5L2722.5,1913.6L2724.5,1913.1L2726.5,1912.1L2728.5,1910.0L2730.5,1908.7L2732.5,1905.3L2734.5,1904.3L2736.5,1901.5L2738.5,1898.5L2740.5,1895.6L2742.5,1891.1L2744.5,1888.7L2746.5,1884.9L2748.5,1881.2L2750.5,1878.3L2752.5,1874.3L2754.5,1870.9L2756.5,1866.2L2758.5,1862.4L2760.5,1858.8L2762.5,1854.1L2764.5,1850.5L2766.5,1847.2L2768.5,1844.0L2770.5,1840.8L2772.5,1837.5L2774.5,1835.2L2776.5,1833.2L2778.5,1831.8L2780.5,1831.2L2782.5,1832.6L2784.5,1835.4L2786.5,1838.9L2788.5,1843.5L2790.5,1848.2L2792.5,1853.4L2794.5,1858.7L2796.5,1865.8L2798.5,1872.7L2800.5,1880.0L2802.5,1887.4L2804.5,1894.8L2806.5,1902.5L2808.5,1910.5L2810.5,1917.9L2812.5,1924.4L2814.5,1930.3L2816.5,1936.1L2818.5,1942.1L2820.5,1948.7L2822.5,1953.7L2824.5,1960.1L2826.5,1965.5L2828.5,1970.3L2830.5,1975.5L2832.5,1979.7L2834.5,1983.8L2836.5,1987.5L2838.5,1991.5L2840.5,1995.8L2842.5,1998.3L2844.5,2002.0L2846.5,2005.0L2848.5,2008.8L2850.5,2012.2L2852.5,2015.6L2854.5,2019.9L2856.5,2024.1L2858.5,2028.8L2860.5,2033.6L2862.5,2037.3L2864.5,2041.2L2866.5,2045.3L2868.5,2048.3L2870.5,2050.8L2872.5,2054.4L2874.5,2056.7L2876.5,2058.6L2878.5,2061.9L2880.5,2064.0L2882.5,2066.0L2884.5,2068.9L2886.5,2071.0L2888.5,2073.2L2890.5,2074.0L2892.5,2075.5L2894.5,2076.6L2896.5,2076.7L2898.5,2077.3L2900.5,2078.1L2902.5,2077.9L2904.5,2078.9L2906.5,2077.2L2908.5,2078.1L2910.5,2077.5L2912.5,2077.2L2914.5,2075.4L2916.5,2072.5L2918.5,2070.6L2920.5,2066.8L2922.5,2063.4L2924.5,2059.0L2926.5,2056.0L2928.5,2051.8L2930.5,2047.8L2932.5,2043.3L2934.5,2037.4L2936.5,2031.7L2938.5,2024.5L2940.5,2017.3L2942.5,2010.9L2944.5,2003.8L2946.5,1996.7L2948.5,1989.4L2950.5,1982.8L2952.5,1975.3L2954.5,1967.8L2956.5,1960.0L2958.5,1952.1L2960.5,1943.8L2962.5,1935.7L2964.5,1927.2L2966.5,1919.7L2968.5,1911.3L2970.5,1902.9L2972.5,1894.6L2974.5,1886.6L2976.5,1879.1L2978.5,1872.4L2980.5,1866.0L2982.5,1861.1L2984.5,1856.1L2986.5,1852.4L2988.5,1847.8L2990.5,1844.1L2992.5,1840.5L2994.5,1836.7L2996.5,1833.0L2998.5,1829.7L3000.5,1826.4L3002.5,1823.3L3004.5,1821.5L3006.5,1817.9L3008.5,1816.4L3010.5,1813.4L3012.5,1811.3L3014.5,1810.6L3016.5,1809.7L3018.5,1809.8L3020.5,1809.2L3022.5,1810.0L3024.5,1810.8L3026.5,1810.9L3028.5,1811.4L3030.5,1812.2L3032.5,1813.6L3034.5,1814.1L3036.5,1814.9L3038.5,1816.2L3040.5,1817.1L3042.5,1817.4L3044.5,1818.5L3046.5,1819.1L3048.5,1819.5L3050.5,1820.7L3052.5,1820.8L3054.5,1822.1L3056.5,1822.7L3058.5,1823.4L3060.5,1825.5L3062.5,1827.6L3064.5,1829.4L3066.5,1832.0L3068.5,1835.4L3070.5,1837.8L3072.5,1841.7L3074.5,1844.3L3076.5,1847.6L3078.5,1849.7L3080.5,1851.3L3082.5,1853.0L3084.5,1854.0L3086.5,1854.8L3088.5,1855.5L3090.5,1855.0L3092.5,1856.0L3094.5,1855.1L3096.5,1854.7L3098.5,1853.2L3100.5,1852.5L3102.5,1851.6L3104.5,1850.1L3106.5,1849.0L3108.5,1847.5L3110.5,1846.1L3112.5,1844.3L3114.5,1842.2L3116.5,1841.0L3118.5,1839.7L3120.5,1839.0L3122.5,1838.0L3124.5,1837.7L3126.5,1838.0L3128.5,1837.6L3130.5,1837.7L3132.5,1837.6L3134.5,1839.0L3136.5,1839.3L3138.5,1840.3L3140.5,1840.7L3142.5,1842.2L3144.5,1842.4L3146.5,1843.0L3148.5,1843.6L3150.5,1844.3L3152.5,1844.6L3154.5,1845.6L3156.5,1846.0L3158.5,1846.8L3160.5,1848.8L3162.5,1850.3L3164.5,1852.2L3166.5,1854.2L3168.5,1856.6L3170.5,1859.0L3172.5,1861.2L3174.5,1862.6L3176.5,1863.8L3178.5,1866.1L3180.5,1867.1L3182.5,1868.0L3184.5,1869.6L3186.5,1870.1L3188.5,1869.7L3190.5,1870.3L3192.5,1870.0L3194.5,1869.9L3196.5,1869.5L3198.5,1870.3L3200.5,1870.3L3202.5,1872.3L3204.5,1874.0L3206.5,1876.8L3208.5,1878.7L3210.5,1881.8L3212.5,1884.8L3214.5,1888.2L3216.5,1892.2L3218.5,1896.7L3220.5,1902.5L3222.5,1909.1L3224.5,1915.2L3226.5,1921.9L3228.5,1929.2L3230.5,1936.3L3232.5,1944.0L3234.5,1952.5L3236.5,1960.7L3238.5,1968.4L3240.5,1975.7L3242.5,1983.3L3244.5,1990.3L3246.5,1998.1L3248.5,2005.0L3250.5,2012.4L3252.5,2018.9L3254.5,2024.9L3256.5,2031.0L3258.5,2035.6L3260.5,2040.2L3262.5,2044.9L3264.5,2049.0L3266.5,2053.8L3268.5,2058.0L3270.5,2061.4L3272.5,2065.2L3274.5,2068.8L3276.5,2072.5L3278.5,2075.4L3280.5,2079.2L3282.5,2082.8L3284.5,2085.7L3286.5,2090.5L3288.5,2094.6L3290.5,2097.0L3292.5,2100.3L3294.5,2102.7L3296.5,2104.0L3298.5,2105.9L3300.5,2107.5L3302.5,2109.4L3304.5,2110.0L3306.5,2111.8L3308.5,2111.7L3310.5,2111.4L3312.5,2110.7L3314.5,2109.5L3316.5,2107.9L3318.5,2106.0L3320.5,2104.4L3322.5,2101.6L3324.5,2098.9L3326.5,2096.9L3328.5,2093.5L3330.5,2090.5L3332.5,2086.7L3334.5,2082.3L3336.5,2078.2L3338.5,2073.9L3340.5,2068.7L3342.5,2063.5L3344.5,2059.2L3346.5,2054.6L3348.5,2051.6L3350.5,2047.3L3352.5,2044.7L3354.5,2041.3L3356.5,2037.9L3358.5,2034.7L3360.5,2031.2L3362.5,2027.5L3364.5,2022.9L3366.5,2018.1L3368.5,2012.5L3370.5,2007.2L3372.5,2002.4L3374.5,1997.7L3376.5,1992.6L3378.5,1988.1L3380.5,1982.7L3382.5,1977.6L3384.5,1972.6L3386.5,1967.7L3388.5,1962.7L3390.5,1957.2L3392.5,1953.9L3394.5,1948.8L3396.5,1944.9L3398.5,1940.5L3400.5,1937.0L3402.5,1932.0L3404.5,1928.7L3406.5,1924.6L3408.5,1920.6L3410.5,1916.8L3412.5,1913.2L3414.5,1909.5L3416.5,1905.3L3418.5,1901.4L3420.5,1897.8L3422.5,1894.5L3424.5,1890.3L3426.5,1888.2L3428.5,1885.3L3430.5,1882.7L3432.5,1881.5L3434.5,1879.5L3436.5,1877.7L3438.5,1875.0L3440.5,1872.5L3442.5,1869.6L3444.5,1867.4L3446.5,1863.8L3448.5,1862.0L3450.5,1859.1L3452.5,1855.7L3454.5,1853.3L3456.5,1849.3L3458.5,1845.6L3460.5,1841.8L3462.5,1837.5L3464.5,1832.7L3466.5,1827.2L3468.5,1821.6L3470.5,1815.2L3472.5,1809.2L3474.5,1803.0L3476.5,1797.1L3478.5,1791.1L3480.5,1784.6L3482.5,1777.8L3484.5,1771.4L3486.5,1764.9L3488.5,1757.6L3490.5,1750.2L3492.5,1743.2L3494.5,1735.4L3496.5,1728.9L3498.5,1721.6L3500.5,1714.9L3502.5,1709.1L3504.5,1702.8L3506.5,1696.3L3508.5,1691.0L3510.5,1686.4L3512.5,1682.5L3514.5,1678.9L3516.5,1675.7L3518.5,1673.0L3520.5,1671.1L3522.5,1668.4L3524.5,1666.0L3526.5,1664.5L3528.5,1662.9L3530.5,1661.1L3532.5,1659.8L3534.5,1659.1L3536.5,1660.1L3538.5,1660.3L3540.5,1662.9L3542.5,1664.9L3544.5,1667.9L3546.5,1670.5L3548.5,1674.2L3550.5,1676.4L3552.5,1679.7L3554.5,1681.2" stroke="#ff0000" stroke-width="6.25" fill="none" stroke-linejoin="round" stroke-linecap="butt" clip-path="url(#c2)"/>
<rect x="302.5" y="1631.36" width="3250.0" height="581.0000000000002" stroke="#000" stroke-width="3.333" fill="none" stroke-linejoin="miter"/>
<path d="M302.50,2212.36v14.58M872.50,2212.36v14.58M1442.50,2212.36v14.58M2012.50,2212.36v14.58M2582.50,2212.36v14.58M3152.50,2212.36v14.58M302.50,1769.54h-14.58M302.50,1922.04h-14.58M302.50,2074.54h-14.58" stroke="#000" stroke-width="3.333" fill="none"/>
<text x="290.28" y="2272.06" font-family="Liberation Sans, sans-serif" font-size="44.15" textLength="24.43" lengthAdjust="spacingAndGlyphs">0</text>
<text x="847.08" y="2272.06" font-family="Liberation Sans, sans-serif" font-size="44.15" textLength="50.95" lengthAdjust="spacingAndGlyphs">10</text>
<text x="1416.72" y="2272.06" font-family="Liberation Sans, sans-serif" font-size="44.15" textLength="51.32" lengthAdjust="spacingAndGlyphs">20</text>
<text x="1987.43" y="2272.06" font-family="Liberation Sans, sans-serif" font-size="44.15" textLength="50.59" lengthAdjust="spacingAndGlyphs">30</text>
<text x="2556.97" y="2272.06" font-family="Liberation Sans, sans-serif" font-size="44.15" textLength="51.06" lengthAdjust="spacingAndGlyphs">40</text>
<text x="3127.38" y="2272.06" font-family="Liberation Sans, sans-serif" font-size="44.15" textLength="50.64" lengthAdjust="spacingAndGlyphs">50</text>
<text x="153.94" y="1783.94" font-family="Liberation Sans, sans-serif" font-size="44.15" textLength="116.79" lengthAdjust="spacingAndGlyphs">0.001</text>
<text x="153.93" y="1936.44" font-family="Liberation Sans, sans-serif" font-size="44.15" textLength="117.44" lengthAdjust="spacingAndGlyphs">0.000</text>
<rect x="122.52" y="2074.15" width="26.08" height="3.46" fill="#000"/>
<text x="153.94" y="2088.94" font-family="Liberation Sans, sans-serif" font-size="44.15" textLength="116.79" lengthAdjust="spacingAndGlyphs">0.001</text>
<text x="1806.36" y="2342.86" font-family="Liberation Sans, sans-serif" font-size="61.81" textLength="239.68" lengthAdjust="spacingAndGlyphs">Time (s)</text>
<g transform="translate(88.9,1921.86) rotate(-90)"><text x="-276.70" y="0.00" font-family="Liberation Sans, sans-serif" font-size="61.81" textLength="552.78" lengthAdjust="spacingAndGlyphs">Displacement (cm)</text></g>
</svg>
</body></html>
